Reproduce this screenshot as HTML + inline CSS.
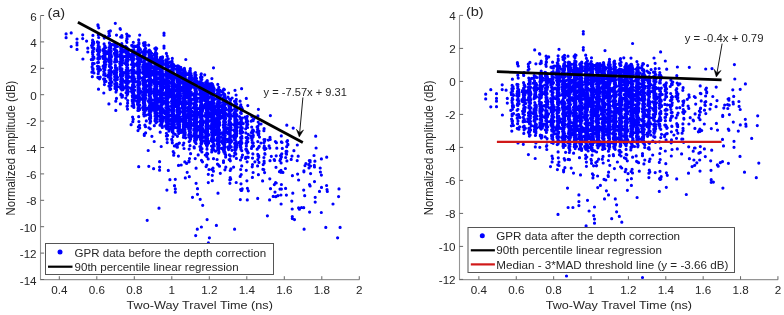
<!DOCTYPE html>
<html><head><meta charset="utf-8"><style>html,body{margin:0;padding:0;background:#fff;}body{width:784px;height:315px;overflow:hidden}svg{display:block;will-change:transform}</style></head>
<body><svg width="784" height="315" viewBox="0 0 784 315" font-family="'Liberation Sans', sans-serif" fill="#262626">
<path d="M93.8 43.3h0M93.1 45.1h0M92.9 59.6h0M92.1 66.9h0M91.3 59.6h0M91.6 45.5h0M92.3 76.7h0M93.1 57.7h0M94.0 58.2h0M93.0 68.6h0M92.9 70.5h0M93.9 72.9h0M93.0 42.6h0M92.5 43.8h0M94.0 48.9h0M93.8 57.0h0M92.5 42.7h0M92.6 54.0h0M94.2 63.5h0M92.8 54.5h0M92.4 52.3h0M92.5 68.7h0M93.3 51.8h0M91.9 72.2h0M92.5 52.2h0M93.6 63.7h0M93.1 69.0h0M93.4 43.0h0M92.9 56.3h0M92.1 47.4h0M92.6 63.3h0M93.0 51.8h0M92.6 64.5h0M92.8 50.6h0M93.0 57.5h0M93.5 41.8h0M92.6 40.2h0M93.8 48.3h0M92.9 35.4h0M98.2 45.3h0M99.9 69.1h0M98.0 47.7h0M98.3 44.1h0M98.6 58.0h0M98.9 56.6h0M98.7 54.1h0M98.6 46.9h0M100.2 77.2h0M98.8 54.6h0M99.0 66.9h0M97.6 62.7h0M99.3 46.9h0M97.4 66.3h0M98.2 73.7h0M100.5 69.8h0M98.1 57.5h0M98.7 77.7h0M97.8 77.3h0M97.8 42.7h0M99.5 56.4h0M98.3 66.7h0M98.6 49.0h0M98.4 53.4h0M97.6 49.3h0M98.6 71.6h0M99.5 50.7h0M98.1 77.7h0M99.0 48.2h0M99.5 49.4h0M97.8 54.5h0M99.3 50.1h0M97.2 50.7h0M99.2 67.0h0M98.4 59.3h0M97.8 58.7h0M98.6 42.6h0M98.2 51.6h0M97.4 41.9h0M99.5 78.8h0M99.6 58.4h0M97.9 49.7h0M98.4 42.7h0M98.3 49.1h0M98.5 62.4h0M97.7 69.1h0M99.4 51.9h0M98.7 37.5h0M97.9 24.8h0M98.3 35.0h0M98.1 25.8h0M98.5 89.2h0M105.1 51.1h0M104.1 54.0h0M106.2 61.5h0M104.5 56.5h0M105.6 61.0h0M103.6 79.1h0M104.8 74.5h0M103.1 66.2h0M104.9 46.0h0M104.3 64.6h0M104.9 73.6h0M104.8 79.1h0M104.1 48.5h0M105.3 66.1h0M103.8 66.1h0M104.2 62.1h0M103.2 50.7h0M104.1 53.0h0M105.2 67.4h0M105.0 55.9h0M104.2 57.4h0M105.4 58.3h0M104.9 65.8h0M105.9 58.9h0M104.9 73.9h0M102.8 50.5h0M104.3 78.9h0M104.9 57.1h0M103.1 50.8h0M103.8 71.5h0M103.9 67.1h0M102.6 56.7h0M104.6 81.8h0M106.0 81.4h0M103.0 49.6h0M103.5 58.2h0M104.5 59.6h0M104.7 46.0h0M104.6 73.3h0M104.2 48.4h0M104.0 56.2h0M103.1 58.5h0M105.9 64.5h0M105.5 54.2h0M103.9 51.8h0M104.4 84.6h0M104.2 79.4h0M104.1 55.5h0M103.6 68.5h0M106.2 51.6h0M104.2 55.3h0M105.0 48.0h0M104.2 59.1h0M104.6 58.3h0M105.6 47.6h0M104.5 52.0h0M105.6 53.5h0M103.9 53.3h0M104.9 70.0h0M105.5 75.6h0M105.0 47.4h0M103.9 74.2h0M103.7 75.0h0M104.1 43.9h0M103.9 36.5h0M104.7 36.2h0M104.3 38.1h0M103.8 93.0h0M109.5 85.5h0M110.4 54.2h0M109.7 58.1h0M112.0 82.2h0M110.2 78.8h0M110.6 53.9h0M109.3 75.9h0M109.4 83.0h0M110.2 57.0h0M109.4 77.4h0M110.0 63.1h0M110.9 75.5h0M109.5 62.2h0M109.4 56.1h0M110.1 80.0h0M109.8 43.7h0M110.5 66.3h0M109.9 56.6h0M109.2 75.6h0M108.4 74.9h0M110.3 70.6h0M109.5 56.0h0M110.1 46.6h0M108.6 59.5h0M109.4 75.4h0M110.3 58.1h0M110.8 61.4h0M110.8 80.0h0M111.0 60.4h0M110.0 89.6h0M110.8 57.5h0M110.3 52.4h0M109.8 83.8h0M109.7 72.0h0M109.4 66.5h0M110.8 70.5h0M110.0 56.1h0M109.5 76.3h0M109.9 88.0h0M111.5 67.7h0M108.9 86.0h0M109.0 60.2h0M111.1 63.8h0M108.9 50.1h0M111.1 57.4h0M109.6 64.9h0M110.3 71.0h0M111.0 73.8h0M111.0 78.3h0M110.6 76.1h0M110.0 45.1h0M109.8 51.1h0M109.8 73.3h0M111.2 61.4h0M110.3 51.4h0M110.9 61.3h0M108.2 77.0h0M109.8 45.1h0M110.3 86.2h0M109.7 62.7h0M111.7 71.7h0M109.1 58.1h0M110.4 72.6h0M110.7 46.6h0M109.4 55.5h0M110.7 47.1h0M110.4 58.4h0M112.3 44.6h0M111.2 85.3h0M110.0 62.3h0M110.8 51.8h0M110.4 60.6h0M109.7 48.1h0M110.6 66.9h0M110.4 64.1h0M111.3 55.8h0M108.9 70.5h0M109.0 52.1h0M109.4 59.6h0M110.6 69.1h0M110.9 44.4h0M110.0 83.4h0M110.3 77.4h0M110.1 50.5h0M108.8 75.3h0M109.4 42.9h0M110.8 48.4h0M110.7 89.1h0M111.0 54.7h0M110.6 78.0h0M108.1 53.5h0M110.3 53.3h0M110.3 47.9h0M109.0 47.5h0M111.5 56.8h0M109.9 79.2h0M110.8 62.8h0M110.7 45.1h0M110.5 83.3h0M111.2 51.3h0M109.9 66.5h0M110.8 59.5h0M110.4 47.6h0M109.1 72.6h0M109.6 35.7h0M109.1 33.6h0M108.7 36.2h0M108.8 31.5h0M110.4 30.9h0M108.9 103.9h0M116.5 61.4h0M116.4 72.2h0M116.4 87.6h0M115.3 71.8h0M115.2 52.8h0M115.6 61.6h0M116.7 52.4h0M115.3 55.9h0M116.7 52.0h0M116.5 60.7h0M115.1 78.6h0M114.7 76.7h0M116.6 50.7h0M117.6 86.6h0M115.3 44.5h0M117.2 56.3h0M114.9 72.7h0M116.9 70.2h0M115.2 80.4h0M115.9 50.3h0M115.5 73.8h0M116.0 92.0h0M116.7 78.8h0M114.6 45.6h0M116.5 89.3h0M116.6 45.6h0M115.1 86.9h0M115.0 61.0h0M116.6 71.0h0M115.6 72.2h0M114.8 84.2h0M115.5 86.8h0M114.0 49.3h0M114.9 79.7h0M116.3 73.5h0M114.6 70.5h0M115.1 61.4h0M116.0 92.1h0M115.5 80.4h0M115.2 59.4h0M115.2 78.1h0M117.3 79.6h0M115.9 50.4h0M115.6 60.8h0M116.1 75.6h0M116.4 59.8h0M116.7 72.3h0M115.4 67.7h0M116.0 84.7h0M115.0 86.8h0M114.2 73.8h0M115.5 52.6h0M116.1 73.5h0M116.3 67.8h0M115.3 49.7h0M114.9 79.4h0M115.1 47.9h0M116.6 61.6h0M117.0 53.9h0M115.0 71.6h0M116.1 71.1h0M115.8 55.0h0M116.5 90.3h0M116.2 76.6h0M116.0 60.1h0M116.6 77.5h0M117.2 52.1h0M114.6 62.1h0M116.6 55.8h0M115.6 88.8h0M115.6 76.5h0M115.3 72.5h0M117.5 77.3h0M116.5 77.2h0M116.1 70.2h0M117.2 54.2h0M116.3 72.5h0M115.0 55.4h0M115.6 52.4h0M116.3 57.8h0M115.5 58.6h0M117.0 84.1h0M116.6 76.1h0M115.4 61.0h0M115.6 54.4h0M115.7 62.0h0M116.7 83.4h0M115.7 78.6h0M116.1 68.3h0M115.4 56.6h0M115.4 65.4h0M115.3 73.4h0M116.9 69.5h0M115.8 83.0h0M116.1 54.4h0M116.1 86.7h0M116.9 68.4h0M117.5 46.5h0M116.4 74.8h0M117.2 55.0h0M115.8 60.1h0M116.8 85.6h0M115.5 58.5h0M115.9 85.2h0M115.5 74.5h0M115.5 50.9h0M116.2 70.2h0M114.3 53.4h0M115.5 69.9h0M115.1 72.1h0M115.0 88.4h0M115.9 83.1h0M116.1 54.3h0M114.6 79.7h0M116.0 77.1h0M116.6 50.7h0M115.0 72.2h0M117.0 61.5h0M115.2 74.7h0M115.3 84.6h0M114.6 72.0h0M114.8 43.7h0M116.5 35.1h0M115.8 110.4h0M116.5 98.4h0M115.8 101.2h0M122.4 95.4h0M121.7 71.9h0M121.8 89.9h0M120.9 54.7h0M121.0 68.5h0M121.6 88.3h0M120.2 61.6h0M122.2 62.4h0M122.8 51.4h0M120.6 76.2h0M121.9 63.8h0M122.2 72.7h0M121.0 58.1h0M120.9 95.0h0M120.4 74.9h0M122.0 58.1h0M121.5 78.9h0M121.8 71.2h0M120.9 46.1h0M121.5 52.9h0M122.2 85.4h0M121.5 49.8h0M122.1 73.9h0M122.4 52.2h0M121.6 61.0h0M124.8 72.6h0M122.3 82.6h0M122.2 72.6h0M122.5 58.4h0M119.9 66.8h0M121.6 70.6h0M121.4 82.4h0M123.2 75.1h0M121.6 89.4h0M121.9 97.2h0M123.0 51.8h0M119.7 56.5h0M121.2 50.5h0M119.8 63.6h0M122.8 74.0h0M122.4 83.8h0M123.4 80.8h0M121.4 58.1h0M121.9 52.2h0M122.1 63.1h0M120.1 69.0h0M121.2 54.3h0M121.8 87.9h0M120.4 56.1h0M121.1 73.0h0M122.4 97.0h0M121.9 64.8h0M120.7 47.5h0M120.8 45.8h0M121.9 60.4h0M120.5 51.4h0M120.9 71.6h0M121.4 50.5h0M122.2 86.2h0M121.0 85.3h0M121.3 55.8h0M121.6 73.5h0M121.2 51.2h0M121.3 56.5h0M122.7 79.5h0M122.8 72.4h0M121.8 69.9h0M121.7 73.6h0M121.7 87.6h0M122.5 45.8h0M121.3 58.6h0M122.3 78.5h0M122.1 60.3h0M122.8 51.2h0M125.1 63.4h0M121.2 48.6h0M121.8 43.7h0M121.8 70.7h0M120.9 50.7h0M121.2 57.5h0M120.6 59.1h0M120.3 65.0h0M122.0 69.0h0M120.5 84.3h0M121.6 64.3h0M121.0 88.6h0M122.3 58.4h0M121.8 72.6h0M121.8 72.1h0M122.2 60.5h0M121.6 86.6h0M120.6 73.9h0M121.5 64.8h0M121.8 70.6h0M121.5 70.5h0M121.7 63.4h0M120.6 64.9h0M121.7 81.9h0M123.2 56.5h0M120.8 48.3h0M120.8 85.9h0M123.6 88.3h0M122.1 50.3h0M122.9 89.7h0M122.5 76.0h0M120.4 54.4h0M122.7 60.6h0M121.7 59.3h0M121.0 94.2h0M122.0 49.2h0M121.8 57.7h0M121.9 63.4h0M120.6 74.0h0M123.2 86.5h0M121.4 56.4h0M122.3 52.4h0M120.2 87.4h0M120.6 45.7h0M121.9 48.7h0M122.2 55.5h0M121.0 78.6h0M122.1 47.6h0M121.0 49.7h0M121.1 75.3h0M121.0 88.8h0M120.7 85.9h0M120.4 70.9h0M121.6 55.6h0M122.3 76.2h0M122.0 68.9h0M123.3 49.8h0M121.3 69.3h0M121.8 60.6h0M120.9 53.7h0M121.6 52.5h0M122.3 62.7h0M121.7 49.7h0M120.8 79.2h0M120.7 48.6h0M121.1 57.5h0M120.7 73.2h0M120.6 81.6h0M121.6 62.5h0M120.5 86.7h0M120.9 37.1h0M121.8 35.6h0M120.1 28.7h0M122.0 37.2h0M120.7 37.0h0M120.4 103.9h0M126.7 73.2h0M129.3 81.5h0M127.0 88.9h0M126.1 77.2h0M127.3 81.8h0M128.7 55.7h0M126.5 77.5h0M127.7 100.5h0M127.6 78.3h0M131.3 59.4h0M127.5 70.6h0M127.9 69.6h0M127.5 56.6h0M127.6 67.8h0M126.5 93.0h0M126.4 85.5h0M130.3 56.7h0M127.2 67.3h0M127.3 90.5h0M128.2 75.3h0M126.2 70.1h0M127.2 54.5h0M128.1 51.7h0M126.3 52.4h0M126.5 62.5h0M125.8 62.7h0M127.7 61.2h0M127.6 103.2h0M126.1 92.7h0M128.1 49.2h0M126.9 68.5h0M127.0 67.8h0M127.6 83.5h0M127.8 57.5h0M126.5 64.3h0M127.4 106.0h0M127.2 73.1h0M128.3 81.3h0M126.6 62.8h0M128.3 59.8h0M125.8 61.7h0M127.7 93.8h0M128.4 73.5h0M127.7 61.0h0M128.3 54.9h0M128.0 51.5h0M126.1 64.0h0M126.7 85.2h0M128.2 83.3h0M127.4 70.0h0M127.1 61.3h0M128.4 87.3h0M127.6 72.5h0M125.6 46.4h0M126.3 47.0h0M127.3 68.4h0M126.9 90.8h0M126.5 65.2h0M127.0 95.2h0M126.9 50.1h0M128.6 82.2h0M127.2 78.0h0M127.1 79.2h0M126.9 88.5h0M126.8 78.4h0M127.2 77.8h0M127.1 56.2h0M127.2 60.5h0M127.2 72.7h0M126.6 78.5h0M127.4 89.0h0M126.4 80.3h0M127.6 71.2h0M128.5 56.1h0M130.0 77.2h0M127.3 86.3h0M128.9 53.8h0M127.1 75.0h0M126.4 48.2h0M127.5 58.5h0M126.5 75.0h0M130.6 88.3h0M126.3 81.4h0M127.3 61.3h0M127.4 59.7h0M128.1 72.2h0M127.5 89.5h0M126.3 49.8h0M127.4 72.0h0M127.3 84.1h0M128.4 56.0h0M126.9 47.7h0M127.0 73.7h0M127.6 70.1h0M127.0 67.7h0M126.4 64.9h0M126.7 67.1h0M127.3 79.3h0M127.2 90.8h0M126.5 50.1h0M127.0 85.2h0M127.3 48.3h0M125.6 87.9h0M126.0 49.4h0M125.7 51.4h0M125.9 52.8h0M127.4 93.3h0M127.3 74.3h0M125.8 98.1h0M127.7 82.8h0M128.0 56.0h0M127.2 82.2h0M127.5 55.2h0M127.5 51.4h0M126.7 62.3h0M128.4 91.5h0M126.5 48.5h0M126.9 54.8h0M125.3 56.4h0M127.8 64.8h0M126.7 53.5h0M128.5 70.9h0M126.0 59.5h0M128.4 71.6h0M125.5 82.4h0M127.1 65.0h0M127.2 63.3h0M126.9 42.3h0M128.3 35.9h0M126.5 40.7h0M126.9 38.5h0M127.2 36.4h0M127.1 39.0h0M127.0 39.2h0M127.5 109.1h0M127.0 106.3h0M131.1 124.7h0M132.7 57.0h0M132.0 87.4h0M131.9 81.3h0M132.7 53.3h0M132.4 81.5h0M133.9 54.6h0M131.5 91.6h0M132.0 56.4h0M133.6 95.3h0M133.6 50.9h0M134.1 64.3h0M132.5 62.6h0M132.3 92.9h0M133.8 69.8h0M133.6 84.2h0M132.2 56.2h0M134.6 90.3h0M133.1 73.7h0M133.8 84.3h0M132.9 58.3h0M132.6 50.7h0M133.4 97.3h0M132.9 68.1h0M133.1 72.5h0M132.6 55.3h0M133.0 84.2h0M133.5 91.5h0M131.0 54.8h0M133.5 72.0h0M131.3 70.3h0M133.6 50.9h0M132.6 77.2h0M136.7 65.1h0M135.7 46.5h0M134.2 54.9h0M132.8 68.7h0M132.3 89.6h0M132.3 101.2h0M133.2 101.5h0M136.3 72.9h0M132.2 70.9h0M134.8 46.2h0M132.5 86.7h0M132.8 68.3h0M131.9 79.9h0M133.7 79.8h0M133.0 82.5h0M132.1 90.1h0M132.4 75.3h0M132.8 62.2h0M133.8 66.8h0M133.9 47.3h0M132.1 55.3h0M134.6 51.7h0M133.1 76.3h0M133.3 102.7h0M132.9 87.0h0M132.9 75.3h0M132.6 102.8h0M133.1 45.9h0M131.7 45.4h0M133.3 67.2h0M133.6 104.6h0M133.3 80.6h0M132.1 89.9h0M132.5 88.9h0M133.1 89.3h0M132.8 77.3h0M133.1 63.3h0M133.2 86.0h0M132.1 79.2h0M133.2 78.2h0M134.7 64.0h0M132.6 61.8h0M132.3 77.6h0M133.1 71.4h0M133.0 57.8h0M133.6 92.9h0M133.4 77.1h0M133.7 81.1h0M132.6 45.7h0M136.5 96.1h0M133.4 82.8h0M133.9 76.6h0M134.0 55.3h0M132.2 50.0h0M132.1 105.9h0M132.5 96.9h0M134.0 82.2h0M133.1 96.8h0M131.8 58.3h0M132.7 86.0h0M131.7 89.9h0M134.5 86.7h0M133.3 78.5h0M132.0 50.9h0M133.2 93.2h0M134.9 78.8h0M133.2 81.4h0M131.9 77.9h0M132.6 89.1h0M133.5 78.0h0M137.1 56.5h0M133.5 95.7h0M133.4 57.3h0M132.1 71.6h0M133.5 66.6h0M134.1 94.5h0M132.3 61.8h0M132.3 95.8h0M132.2 100.1h0M133.2 86.0h0M132.8 92.8h0M134.3 98.8h0M136.8 101.3h0M133.4 73.7h0M133.2 54.5h0M131.7 73.1h0M132.7 52.3h0M135.8 64.1h0M134.2 70.8h0M132.9 92.8h0M133.8 106.0h0M133.3 74.6h0M133.4 71.1h0M132.6 67.9h0M134.6 90.0h0M133.6 107.0h0M133.8 107.4h0M131.5 64.5h0M132.5 51.1h0M132.9 72.7h0M133.5 87.4h0M131.9 91.9h0M134.6 100.2h0M132.8 68.6h0M133.3 94.7h0M132.9 65.9h0M133.9 50.1h0M133.5 89.5h0M133.8 96.9h0M132.6 46.3h0M133.2 84.3h0M133.5 59.9h0M134.8 98.2h0M133.6 55.8h0M133.0 74.4h0M134.1 59.0h0M132.5 85.0h0M133.3 42.3h0M133.2 119.2h0M132.6 117.0h0M132.8 121.7h0M139.2 79.5h0M138.9 53.7h0M138.8 98.4h0M138.2 78.2h0M138.7 106.6h0M138.3 81.3h0M138.8 54.8h0M138.3 98.4h0M138.9 74.2h0M137.9 84.5h0M138.1 108.2h0M138.4 59.5h0M139.7 92.7h0M137.9 50.2h0M138.3 56.8h0M138.5 105.4h0M140.3 92.7h0M138.5 56.7h0M138.0 54.8h0M139.0 95.3h0M138.0 96.2h0M137.3 58.7h0M138.4 87.4h0M138.7 57.8h0M138.0 59.9h0M139.2 66.8h0M138.6 77.1h0M139.2 105.6h0M140.5 90.9h0M138.8 97.1h0M135.8 81.6h0M138.6 48.3h0M138.2 80.5h0M139.6 91.4h0M139.7 109.4h0M139.0 58.3h0M139.8 82.4h0M138.3 94.1h0M138.2 68.8h0M139.2 90.3h0M139.1 49.3h0M138.5 74.4h0M138.3 69.3h0M138.4 76.2h0M139.5 93.4h0M138.6 104.9h0M138.9 91.8h0M139.2 96.2h0M139.0 54.5h0M139.2 57.3h0M137.9 110.5h0M138.4 78.0h0M139.3 101.2h0M138.5 71.7h0M140.0 77.4h0M138.9 55.2h0M138.9 98.2h0M138.9 60.3h0M138.5 47.9h0M139.0 82.5h0M139.3 74.9h0M138.7 64.5h0M138.8 94.6h0M138.3 92.1h0M137.9 95.9h0M139.6 69.7h0M138.6 46.0h0M141.5 99.2h0M138.7 65.9h0M139.3 52.9h0M139.4 77.6h0M137.8 66.6h0M138.5 55.5h0M138.9 102.3h0M138.7 82.5h0M138.3 49.0h0M139.0 48.3h0M137.9 65.5h0M138.1 55.7h0M136.7 65.4h0M138.5 73.2h0M138.0 87.7h0M139.7 55.8h0M140.0 90.6h0M136.8 54.4h0M138.3 75.9h0M139.8 53.0h0M139.5 48.5h0M138.0 87.5h0M137.7 85.5h0M138.1 76.9h0M139.4 56.9h0M141.9 52.1h0M138.4 54.2h0M138.4 97.1h0M137.9 50.9h0M138.9 88.9h0M138.3 76.7h0M137.9 52.3h0M138.0 58.2h0M139.8 70.7h0M137.3 71.5h0M139.4 62.6h0M139.5 94.3h0M138.9 57.3h0M138.2 97.9h0M141.5 61.6h0M139.0 55.9h0M138.7 55.4h0M137.3 52.0h0M138.0 89.2h0M138.4 73.4h0M140.8 58.9h0M138.8 66.4h0M138.6 110.4h0M140.0 97.7h0M138.3 99.7h0M138.5 102.4h0M139.8 108.6h0M139.3 53.7h0M137.9 105.2h0M139.2 67.4h0M137.9 74.1h0M139.0 68.4h0M140.4 72.3h0M138.4 102.6h0M139.3 89.6h0M139.1 88.6h0M139.8 105.2h0M138.2 60.2h0M138.7 52.9h0M139.1 84.3h0M138.4 102.7h0M138.2 97.7h0M141.7 58.0h0M139.2 77.7h0M139.1 72.2h0M138.0 47.1h0M138.8 57.0h0M138.7 69.0h0M139.7 78.1h0M138.1 70.3h0M138.4 96.6h0M139.9 98.3h0M138.4 91.8h0M137.9 45.1h0M138.3 75.8h0M138.3 105.3h0M138.3 56.9h0M139.8 93.5h0M138.1 92.3h0M137.5 104.1h0M139.6 64.0h0M138.8 60.2h0M139.0 102.2h0M138.8 83.1h0M139.0 62.8h0M139.1 85.4h0M138.8 52.1h0M137.5 53.2h0M138.7 72.1h0M137.9 91.0h0M138.9 83.6h0M138.7 63.4h0M139.7 90.7h0M136.9 98.0h0M138.0 60.3h0M137.9 66.3h0M137.9 69.4h0M139.1 50.5h0M137.8 57.1h0M137.9 71.2h0M139.2 49.6h0M137.7 56.2h0M137.4 53.6h0M137.9 68.3h0M138.7 109.4h0M137.6 62.3h0M138.6 50.7h0M138.1 84.8h0M139.3 60.0h0M138.5 54.2h0M140.0 49.6h0M138.5 49.5h0M138.0 82.7h0M138.7 75.6h0M138.4 65.5h0M138.2 72.1h0M140.4 49.4h0M139.6 60.9h0M139.4 65.8h0M139.4 48.2h0M137.9 95.3h0M138.2 88.2h0M137.7 95.6h0M139.4 88.4h0M140.0 84.1h0M138.3 103.1h0M138.6 51.2h0M138.3 92.3h0M138.9 53.1h0M138.7 39.9h0M138.9 42.5h0M139.0 43.7h0M138.7 116.7h0M138.4 126.9h0M139.6 125.3h0M138.9 121.6h0M138.0 130.6h0M139.7 128.1h0M144.0 87.0h0M145.8 95.3h0M144.3 96.8h0M144.3 82.8h0M144.5 65.7h0M145.1 100.4h0M144.1 86.8h0M144.5 94.7h0M143.9 79.5h0M144.7 79.6h0M142.6 66.9h0M143.8 89.2h0M143.9 101.0h0M144.2 60.1h0M144.0 70.1h0M145.1 87.8h0M144.9 81.7h0M143.6 54.7h0M144.5 59.0h0M145.5 51.4h0M143.9 67.7h0M144.1 57.3h0M144.8 103.9h0M143.2 72.5h0M144.3 53.5h0M145.4 65.3h0M145.7 108.2h0M143.6 107.7h0M145.3 74.9h0M146.3 69.3h0M145.9 81.7h0M144.8 99.2h0M144.3 61.9h0M144.1 57.3h0M144.8 56.0h0M145.6 48.4h0M144.9 54.1h0M145.3 50.1h0M145.2 72.2h0M148.0 72.6h0M146.1 71.4h0M145.3 85.1h0M144.5 51.2h0M144.7 51.0h0M143.3 102.7h0M143.1 96.8h0M144.2 95.5h0M144.4 92.1h0M144.2 76.6h0M144.3 62.5h0M145.3 54.4h0M144.7 55.6h0M143.0 67.0h0M145.0 83.9h0M145.0 66.7h0M144.4 59.7h0M144.6 66.0h0M144.0 93.9h0M144.8 111.7h0M144.0 64.5h0M144.3 75.0h0M145.1 105.4h0M144.5 60.0h0M144.5 74.4h0M145.6 60.0h0M144.2 60.7h0M145.3 99.0h0M144.6 106.3h0M144.0 106.3h0M144.1 98.1h0M144.9 96.1h0M145.8 76.7h0M146.6 63.8h0M143.5 85.3h0M145.5 83.9h0M145.1 95.8h0M144.6 49.6h0M143.3 97.6h0M145.3 110.5h0M143.2 88.6h0M145.1 80.3h0M144.2 69.8h0M144.5 99.5h0M144.1 73.4h0M143.8 58.5h0M144.1 79.4h0M144.9 110.4h0M142.8 52.5h0M143.3 106.8h0M145.0 64.9h0M144.7 105.0h0M145.9 86.4h0M143.4 103.3h0M143.7 71.6h0M144.4 53.3h0M144.5 101.3h0M144.6 91.9h0M144.6 82.5h0M145.0 93.4h0M143.0 64.9h0M144.6 57.2h0M144.0 99.9h0M143.9 53.0h0M145.7 84.7h0M144.2 110.3h0M145.4 89.3h0M146.5 51.9h0M144.2 64.5h0M144.4 114.3h0M144.4 91.3h0M144.5 82.2h0M145.6 67.4h0M145.1 89.9h0M144.5 70.4h0M144.5 60.6h0M143.7 70.2h0M144.7 85.0h0M146.3 90.6h0M143.8 54.8h0M147.3 58.7h0M143.8 66.0h0M143.3 83.9h0M144.3 107.7h0M143.6 52.7h0M144.8 71.3h0M144.6 107.5h0M143.4 109.9h0M144.7 91.0h0M144.9 56.9h0M144.5 73.2h0M144.2 79.8h0M144.1 103.2h0M145.9 98.3h0M144.5 55.0h0M144.4 64.5h0M144.2 98.0h0M143.5 80.2h0M144.0 55.5h0M144.9 66.9h0M144.7 99.2h0M144.7 57.4h0M144.5 71.1h0M143.7 74.0h0M144.4 82.4h0M145.2 53.2h0M144.4 67.3h0M142.6 80.5h0M143.8 112.8h0M142.9 92.4h0M143.7 104.8h0M146.1 74.3h0M144.1 61.2h0M143.7 68.7h0M143.1 57.5h0M144.2 73.3h0M145.4 85.2h0M143.7 65.6h0M144.7 113.9h0M144.6 73.1h0M143.9 77.2h0M145.0 86.0h0M146.9 108.4h0M143.8 81.4h0M143.8 65.5h0M144.6 101.9h0M145.9 115.2h0M145.1 64.8h0M143.8 108.2h0M144.4 57.9h0M146.6 86.6h0M143.6 82.3h0M145.8 110.3h0M144.7 68.9h0M143.9 100.7h0M144.2 62.9h0M142.4 78.3h0M144.7 74.7h0M143.3 95.6h0M143.4 101.1h0M144.7 112.1h0M143.5 106.3h0M143.6 62.1h0M145.1 71.7h0M142.6 95.2h0M144.3 59.7h0M145.4 73.0h0M145.7 68.9h0M145.5 88.6h0M143.2 70.4h0M147.4 67.1h0M145.1 75.9h0M144.7 67.0h0M144.1 115.9h0M143.5 67.2h0M144.9 87.8h0M143.2 83.1h0M143.1 55.8h0M146.5 91.7h0M144.4 54.4h0M145.4 93.4h0M144.1 89.2h0M145.1 105.5h0M143.6 66.2h0M144.0 70.0h0M144.0 94.1h0M143.8 90.3h0M145.3 94.5h0M143.2 55.7h0M143.1 73.5h0M145.2 75.8h0M144.6 71.5h0M144.9 109.4h0M143.7 114.5h0M144.9 75.6h0M143.0 77.7h0M144.2 61.9h0M144.6 92.7h0M142.8 68.7h0M143.8 77.4h0M143.2 97.7h0M143.6 57.5h0M144.1 64.3h0M144.0 81.4h0M142.7 107.5h0M144.8 106.1h0M143.3 69.8h0M144.5 103.6h0M143.7 87.9h0M143.0 94.7h0M145.0 50.8h0M144.1 50.7h0M144.6 86.7h0M144.7 101.0h0M144.5 64.5h0M143.7 83.6h0M144.7 104.5h0M145.0 100.7h0M143.8 42.9h0M143.5 43.4h0M143.8 45.3h0M145.1 42.7h0M144.2 44.5h0M145.4 45.2h0M144.0 44.2h0M144.3 45.8h0M145.5 126.7h0M145.6 132.9h0M144.9 125.2h0M146.3 120.9h0M144.3 134.2h0M144.3 135.4h0M150.2 103.1h0M150.4 51.3h0M149.9 70.7h0M150.3 73.3h0M150.9 68.4h0M150.7 53.8h0M150.7 98.0h0M150.2 75.7h0M149.2 96.0h0M149.6 101.2h0M148.7 58.3h0M150.4 107.7h0M150.3 57.9h0M151.0 53.8h0M151.6 56.1h0M150.9 111.7h0M149.6 53.0h0M150.0 69.9h0M148.7 64.4h0M150.4 90.4h0M150.2 107.1h0M149.7 88.8h0M149.5 92.2h0M149.9 59.1h0M148.3 73.9h0M149.9 72.3h0M150.0 64.8h0M149.6 54.5h0M150.5 59.5h0M150.9 73.6h0M150.1 79.3h0M150.0 108.4h0M149.7 54.4h0M150.0 91.1h0M149.3 83.4h0M150.2 54.2h0M149.3 64.9h0M149.5 56.1h0M149.1 55.3h0M148.9 50.3h0M150.1 79.2h0M151.4 91.4h0M148.4 64.0h0M149.9 115.1h0M148.7 61.3h0M149.9 111.5h0M148.7 85.1h0M149.9 53.8h0M149.6 81.3h0M150.0 71.5h0M150.3 86.6h0M149.8 59.7h0M149.9 69.7h0M149.3 94.3h0M149.5 103.3h0M149.7 81.6h0M149.9 57.8h0M150.2 66.6h0M150.3 85.7h0M148.9 61.8h0M150.7 79.1h0M150.3 114.6h0M149.9 72.9h0M149.9 93.7h0M152.1 71.4h0M150.4 88.6h0M148.1 69.1h0M148.2 80.2h0M150.5 108.4h0M149.4 62.5h0M149.8 104.1h0M149.4 62.0h0M153.3 66.9h0M149.2 82.0h0M149.9 89.5h0M150.3 66.9h0M151.2 62.3h0M150.8 80.1h0M150.0 93.9h0M150.6 54.6h0M149.6 60.8h0M149.9 106.4h0M150.5 66.2h0M151.0 110.7h0M149.0 64.4h0M149.6 63.2h0M150.3 82.0h0M150.5 67.7h0M150.2 92.0h0M149.8 113.4h0M149.2 51.0h0M149.0 99.7h0M150.3 57.2h0M149.5 90.1h0M149.8 78.7h0M149.4 82.7h0M149.6 110.1h0M149.3 100.9h0M149.7 85.3h0M149.7 54.2h0M150.3 60.5h0M149.3 94.5h0M148.6 114.4h0M149.7 107.9h0M150.2 83.5h0M149.5 118.9h0M150.6 121.4h0M149.9 100.5h0M149.3 56.5h0M150.5 85.4h0M150.2 106.6h0M149.8 109.8h0M149.7 98.9h0M149.1 51.4h0M148.5 86.0h0M150.3 106.4h0M151.7 81.5h0M150.6 102.3h0M150.4 76.2h0M152.9 80.6h0M149.6 76.9h0M151.2 85.2h0M150.2 77.2h0M150.8 88.3h0M149.9 65.6h0M150.5 97.0h0M150.6 56.9h0M149.3 100.8h0M148.9 80.9h0M150.4 88.4h0M150.7 116.7h0M153.3 59.3h0M149.7 72.5h0M148.7 58.5h0M149.4 75.2h0M150.8 80.2h0M150.6 99.8h0M149.7 60.1h0M150.6 118.3h0M149.8 99.8h0M149.3 70.1h0M149.9 58.0h0M149.4 72.7h0M150.7 73.7h0M149.4 50.2h0M150.1 75.2h0M150.9 93.1h0M149.9 106.8h0M152.2 74.6h0M150.7 94.2h0M150.3 68.6h0M153.7 93.3h0M149.9 81.1h0M150.3 120.3h0M152.7 103.2h0M150.4 72.5h0M150.0 98.2h0M149.7 101.4h0M149.1 53.2h0M152.2 73.5h0M149.7 93.4h0M150.3 53.2h0M150.3 121.1h0M149.8 62.2h0M153.5 73.1h0M151.3 63.3h0M149.7 98.1h0M150.5 92.5h0M150.3 101.7h0M150.2 88.0h0M150.0 52.7h0M148.1 76.2h0M150.8 52.5h0M151.2 75.4h0M148.7 68.7h0M150.2 79.5h0M150.6 91.2h0M150.4 93.5h0M149.1 93.4h0M149.0 114.6h0M150.1 85.0h0M148.7 76.7h0M151.1 111.2h0M151.2 103.7h0M149.8 89.5h0M149.8 76.4h0M150.1 64.0h0M151.6 66.2h0M149.2 113.7h0M149.3 102.1h0M150.3 76.2h0M149.6 100.0h0M150.6 63.3h0M151.7 53.3h0M150.6 97.9h0M152.3 82.2h0M150.1 73.4h0M149.8 80.4h0M149.1 102.2h0M150.5 114.9h0M151.0 57.9h0M150.5 64.3h0M151.4 81.5h0M149.3 75.8h0M152.7 108.4h0M148.9 74.2h0M150.1 81.5h0M151.1 67.6h0M152.8 106.0h0M149.7 95.4h0M150.6 83.4h0M151.0 81.7h0M150.2 68.2h0M149.9 54.3h0M151.0 90.6h0M150.4 57.3h0M151.1 90.2h0M149.5 105.6h0M150.0 102.8h0M149.5 86.5h0M148.8 100.4h0M149.2 95.4h0M150.4 89.0h0M150.7 80.6h0M149.8 109.8h0M149.7 117.6h0M151.0 75.7h0M152.3 61.2h0M150.4 113.0h0M149.1 54.2h0M148.7 69.9h0M150.1 96.0h0M149.9 53.5h0M149.5 88.6h0M151.6 57.4h0M150.2 100.1h0M149.3 72.1h0M151.4 66.1h0M150.4 84.9h0M149.5 65.5h0M149.1 70.1h0M150.0 70.5h0M149.5 57.1h0M149.0 107.1h0M150.5 116.4h0M149.4 67.9h0M150.4 101.7h0M149.5 66.9h0M150.3 118.5h0M150.2 68.1h0M150.8 76.3h0M150.7 88.7h0M149.3 64.8h0M150.7 105.5h0M151.5 68.2h0M149.3 71.2h0M150.6 72.6h0M149.9 87.1h0M150.3 89.6h0M152.1 110.1h0M148.1 89.8h0M149.2 56.6h0M150.1 81.2h0M149.1 110.9h0M149.9 58.5h0M150.7 72.8h0M150.0 84.2h0M149.2 94.2h0M150.8 53.4h0M150.4 98.1h0M152.2 100.0h0M150.4 72.7h0M148.4 101.2h0M148.5 74.7h0M150.2 61.8h0M149.8 66.9h0M150.9 110.1h0M149.9 85.3h0M148.7 45.2h0M151.9 136.3h0M150.0 122.9h0M150.2 128.8h0M148.9 127.8h0M155.9 94.6h0M155.1 103.1h0M154.7 111.3h0M155.2 119.0h0M156.2 105.5h0M155.6 64.7h0M155.8 66.1h0M155.7 100.2h0M156.3 77.2h0M156.7 86.6h0M154.9 111.3h0M155.1 94.6h0M156.0 74.1h0M155.2 90.0h0M156.3 95.2h0M155.3 76.5h0M156.8 53.7h0M155.6 105.7h0M156.7 78.7h0M155.8 73.0h0M154.7 95.6h0M155.6 86.7h0M154.7 92.3h0M155.7 97.8h0M154.9 98.7h0M156.6 79.4h0M154.5 96.3h0M156.1 114.7h0M154.5 78.9h0M154.9 113.0h0M154.8 82.1h0M155.1 72.6h0M155.8 54.3h0M155.0 66.5h0M155.9 71.9h0M156.5 120.7h0M156.0 75.7h0M154.3 54.4h0M155.5 65.2h0M156.3 104.5h0M155.5 99.6h0M156.0 109.4h0M155.0 79.2h0M155.5 104.1h0M156.3 83.5h0M154.8 86.1h0M155.7 110.7h0M155.6 74.3h0M155.4 116.6h0M156.0 114.2h0M156.7 56.8h0M155.5 107.1h0M155.2 79.0h0M155.5 91.2h0M156.8 73.7h0M155.0 54.7h0M154.9 56.5h0M155.3 73.0h0M156.3 97.2h0M155.7 57.6h0M156.2 83.5h0M154.8 96.1h0M158.4 68.4h0M154.9 97.2h0M154.9 63.0h0M156.0 63.9h0M158.4 107.9h0M157.3 92.2h0M156.6 96.0h0M155.7 98.8h0M155.5 79.0h0M154.6 77.3h0M154.4 69.6h0M156.6 77.8h0M155.3 60.2h0M155.9 65.6h0M155.8 110.3h0M156.3 69.7h0M157.1 95.2h0M156.4 57.7h0M155.6 55.9h0M156.8 67.2h0M156.1 53.1h0M155.6 76.7h0M155.8 59.9h0M156.4 102.5h0M156.8 63.3h0M155.3 115.2h0M155.5 52.4h0M154.6 72.9h0M156.4 58.6h0M155.6 59.1h0M157.0 81.6h0M156.8 118.7h0M155.9 70.8h0M158.8 83.4h0M155.2 87.8h0M155.2 93.2h0M155.8 104.3h0M155.5 95.1h0M157.1 103.7h0M155.2 99.0h0M156.2 97.2h0M155.6 59.2h0M155.8 61.2h0M156.0 97.1h0M154.9 74.9h0M156.3 65.4h0M156.7 71.7h0M156.6 68.6h0M155.6 62.6h0M155.1 114.9h0M156.4 103.3h0M155.3 80.9h0M155.9 76.4h0M154.3 71.2h0M154.6 102.5h0M155.6 77.5h0M155.6 105.4h0M155.0 110.5h0M154.4 76.3h0M158.8 99.5h0M154.4 91.5h0M155.2 73.6h0M156.3 63.3h0M155.7 60.1h0M156.0 94.9h0M155.8 81.6h0M155.9 119.4h0M155.6 97.3h0M155.0 116.3h0M156.6 62.0h0M155.9 62.0h0M155.8 107.1h0M158.0 109.3h0M154.9 56.1h0M156.6 79.5h0M155.9 85.9h0M154.7 71.7h0M158.1 105.9h0M155.4 53.9h0M154.6 62.4h0M155.3 120.1h0M159.2 63.3h0M156.7 58.8h0M156.0 93.0h0M155.8 65.0h0M155.6 82.5h0M155.2 75.9h0M155.4 63.1h0M156.0 89.5h0M154.6 78.8h0M155.6 117.0h0M155.8 97.2h0M155.9 100.5h0M154.6 73.7h0M156.9 112.5h0M156.2 92.8h0M155.1 95.8h0M155.4 53.6h0M156.3 84.5h0M156.5 59.0h0M155.2 78.5h0M155.0 68.0h0M156.7 88.4h0M156.1 95.5h0M155.7 59.5h0M155.3 93.0h0M155.6 61.3h0M155.0 92.9h0M156.5 86.4h0M155.9 98.8h0M156.0 93.5h0M157.6 60.1h0M156.0 69.0h0M154.9 57.1h0M155.3 58.8h0M156.5 56.9h0M156.7 86.3h0M155.9 82.4h0M155.5 82.5h0M156.4 55.0h0M154.9 108.2h0M155.0 120.8h0M155.6 58.6h0M156.1 81.4h0M155.9 96.7h0M156.0 110.3h0M154.8 96.4h0M158.3 101.9h0M155.7 80.1h0M155.4 74.4h0M155.3 101.5h0M156.2 112.5h0M155.5 108.2h0M155.1 100.7h0M156.6 102.9h0M155.8 75.0h0M154.5 71.6h0M156.1 103.9h0M157.3 100.1h0M159.3 63.0h0M156.6 98.4h0M156.8 108.5h0M156.1 114.5h0M155.2 58.5h0M156.5 85.5h0M157.7 102.0h0M155.8 66.3h0M156.2 53.8h0M156.0 116.6h0M155.4 81.7h0M154.9 59.8h0M157.2 79.2h0M156.3 88.3h0M155.3 105.3h0M154.9 82.5h0M155.9 74.5h0M155.8 52.7h0M155.9 111.6h0M156.8 116.8h0M155.2 88.4h0M156.1 61.7h0M157.2 77.8h0M154.5 58.9h0M158.4 60.1h0M156.9 89.7h0M157.6 74.2h0M156.4 84.1h0M154.2 95.6h0M155.4 98.5h0M155.6 115.9h0M155.3 104.8h0M156.1 98.5h0M156.2 105.2h0M156.5 101.9h0M155.5 97.0h0M155.2 86.8h0M156.7 106.9h0M155.3 85.0h0M156.2 83.8h0M155.2 91.6h0M156.2 57.8h0M158.0 116.0h0M156.4 101.3h0M158.0 83.8h0M155.2 76.6h0M158.7 98.6h0M155.9 68.4h0M155.7 86.5h0M156.4 68.5h0M156.4 108.5h0M158.8 77.9h0M157.0 63.1h0M155.1 58.2h0M155.3 67.9h0M154.0 60.5h0M155.9 83.3h0M155.5 104.0h0M156.1 88.0h0M155.2 85.7h0M155.1 55.4h0M155.8 78.1h0M155.3 105.5h0M156.0 79.9h0M156.0 60.2h0M155.7 77.2h0M156.3 58.4h0M158.7 73.2h0M155.5 91.6h0M155.1 78.4h0M156.1 58.9h0M155.2 121.0h0M159.4 71.5h0M156.0 60.5h0M155.4 76.5h0M157.8 90.5h0M154.8 102.0h0M156.8 99.5h0M154.1 83.6h0M155.2 65.8h0M157.9 65.7h0M156.5 67.9h0M157.1 83.6h0M156.2 89.7h0M155.9 104.8h0M156.1 93.3h0M154.2 68.9h0M154.8 64.0h0M155.2 62.7h0M155.0 106.3h0M154.8 92.8h0M160.6 88.4h0M157.9 66.8h0M156.5 73.3h0M154.2 90.9h0M154.1 88.9h0M155.8 93.8h0M156.3 100.7h0M154.8 99.2h0M155.6 90.4h0M156.8 113.6h0M156.7 112.5h0M155.1 100.4h0M157.2 121.6h0M157.0 61.9h0M156.5 118.0h0M154.6 55.3h0M155.2 61.3h0M156.1 78.5h0M155.7 73.7h0M155.8 60.3h0M156.1 82.8h0M156.0 80.5h0M159.2 82.4h0M157.0 100.4h0M156.0 122.8h0M155.5 109.8h0M155.8 50.0h0M154.8 48.5h0M155.9 47.8h0M156.7 48.5h0M154.2 141.5h0M154.3 125.7h0M162.3 69.9h0M161.2 77.7h0M161.9 105.4h0M159.9 113.5h0M161.3 70.0h0M161.4 88.9h0M161.3 84.2h0M160.8 112.7h0M161.0 123.3h0M160.2 109.9h0M162.4 97.4h0M160.4 74.9h0M160.7 106.4h0M163.2 101.2h0M161.0 91.1h0M162.4 111.8h0M162.4 81.6h0M160.9 64.0h0M161.3 86.4h0M160.3 120.8h0M161.9 97.0h0M162.9 119.7h0M162.0 80.4h0M160.2 111.9h0M163.2 94.4h0M164.2 87.3h0M162.3 125.9h0M161.5 108.2h0M161.4 60.1h0M162.5 108.7h0M162.9 98.3h0M161.8 95.3h0M162.4 57.3h0M160.7 112.7h0M161.3 81.5h0M161.2 85.7h0M160.8 62.3h0M162.1 65.5h0M161.1 78.3h0M161.0 70.9h0M161.5 78.2h0M160.9 109.5h0M159.9 64.3h0M161.2 64.4h0M160.1 115.5h0M162.5 76.8h0M161.9 102.8h0M161.8 62.5h0M161.4 64.4h0M160.9 80.0h0M162.3 127.4h0M161.3 71.6h0M162.1 116.4h0M161.5 103.3h0M161.8 114.9h0M161.7 94.9h0M160.6 113.7h0M160.6 110.9h0M164.3 110.7h0M160.4 95.4h0M161.1 121.1h0M161.2 62.7h0M161.6 107.0h0M161.3 81.9h0M162.2 94.3h0M161.4 107.8h0M163.1 61.8h0M161.0 57.4h0M163.0 60.8h0M161.7 73.4h0M162.7 121.1h0M161.1 93.3h0M161.9 93.1h0M162.5 56.8h0M161.2 62.3h0M164.5 81.9h0M162.2 62.0h0M162.2 121.5h0M162.0 119.7h0M162.0 126.4h0M161.8 97.3h0M160.2 90.4h0M160.5 96.8h0M161.0 58.9h0M160.9 81.6h0M162.3 71.4h0M162.1 104.2h0M161.5 65.2h0M161.9 60.1h0M161.3 58.5h0M161.2 70.4h0M161.0 112.3h0M161.3 125.0h0M160.7 65.4h0M161.2 104.0h0M162.3 117.9h0M159.8 94.0h0M161.1 113.9h0M163.5 64.2h0M161.9 59.4h0M161.5 77.0h0M160.9 67.8h0M161.1 92.2h0M162.7 89.7h0M162.4 121.2h0M162.3 111.0h0M162.2 79.4h0M161.2 64.8h0M161.6 58.6h0M160.3 74.0h0M161.1 64.8h0M159.6 98.3h0M160.9 87.8h0M160.1 75.5h0M160.0 125.2h0M161.7 119.7h0M162.5 80.7h0M162.3 100.6h0M160.4 76.8h0M160.0 79.2h0M161.3 84.9h0M161.6 111.3h0M161.0 75.7h0M161.7 65.4h0M159.9 119.6h0M160.8 93.3h0M161.6 68.7h0M162.4 116.4h0M161.6 100.2h0M161.5 75.8h0M161.2 67.0h0M162.3 74.8h0M160.9 61.2h0M161.4 105.1h0M161.0 78.2h0M161.2 68.1h0M161.3 82.9h0M162.9 101.2h0M161.9 84.6h0M162.6 81.0h0M162.6 62.5h0M162.8 103.8h0M159.8 83.4h0M161.2 58.1h0M161.3 118.1h0M161.9 77.8h0M161.2 107.5h0M161.5 118.7h0M160.7 87.0h0M162.3 69.6h0M160.6 75.7h0M161.5 117.6h0M163.1 75.6h0M161.6 61.6h0M161.2 107.1h0M162.4 95.3h0M162.1 84.2h0M161.3 72.3h0M161.4 120.3h0M161.8 67.3h0M162.7 86.2h0M161.1 64.7h0M161.9 57.8h0M160.9 90.7h0M159.8 79.4h0M160.2 62.8h0M161.8 68.1h0M160.7 106.9h0M161.3 123.4h0M162.2 70.2h0M160.7 88.3h0M161.3 114.1h0M161.2 122.1h0M160.4 72.7h0M161.4 66.7h0M161.9 83.2h0M160.2 81.8h0M163.9 79.6h0M161.7 79.5h0M161.9 104.6h0M161.7 68.3h0M163.2 78.4h0M162.0 92.1h0M162.1 117.1h0M161.1 79.7h0M161.8 75.3h0M162.1 102.9h0M161.5 74.0h0M161.2 73.1h0M162.4 69.5h0M161.1 122.7h0M160.8 95.8h0M161.6 76.1h0M161.8 73.8h0M161.3 75.7h0M160.9 110.2h0M161.8 125.2h0M161.1 102.3h0M161.1 115.3h0M161.2 113.7h0M160.2 81.9h0M160.8 117.8h0M160.5 70.3h0M162.0 61.1h0M164.7 82.6h0M160.1 86.5h0M160.7 79.8h0M161.4 72.3h0M162.8 117.1h0M161.5 62.7h0M161.2 68.9h0M162.1 91.0h0M161.5 92.1h0M161.2 80.3h0M160.1 84.5h0M162.1 66.7h0M162.5 57.8h0M161.5 94.8h0M161.7 103.9h0M160.8 76.2h0M162.0 74.5h0M164.1 111.1h0M161.0 79.3h0M162.6 81.8h0M161.8 87.2h0M162.2 122.6h0M161.8 68.9h0M160.5 70.0h0M160.0 92.8h0M160.8 78.9h0M161.8 66.5h0M161.2 93.9h0M161.3 102.1h0M164.4 101.4h0M161.1 68.1h0M161.0 124.5h0M161.1 64.7h0M161.2 109.9h0M160.5 62.4h0M164.7 117.3h0M161.3 73.3h0M161.5 58.7h0M161.0 104.5h0M162.1 112.9h0M160.1 116.7h0M161.1 69.3h0M162.2 87.2h0M161.6 101.4h0M161.6 114.3h0M160.6 101.6h0M160.4 100.8h0M161.5 74.0h0M161.4 97.2h0M158.8 65.9h0M162.4 126.5h0M160.9 80.5h0M164.0 84.3h0M161.0 92.2h0M161.0 94.1h0M161.3 64.6h0M161.5 114.1h0M162.6 104.1h0M161.4 114.6h0M161.8 95.8h0M162.4 93.1h0M161.4 119.5h0M161.0 65.6h0M162.5 92.0h0M161.1 85.3h0M161.3 123.4h0M161.3 91.5h0M161.5 86.4h0M162.5 73.0h0M162.7 62.7h0M162.0 99.9h0M161.2 104.0h0M162.7 95.0h0M160.8 102.4h0M161.5 91.3h0M162.8 73.8h0M161.6 98.1h0M160.4 120.0h0M161.5 121.0h0M161.6 99.1h0M162.1 80.2h0M160.4 57.7h0M162.6 83.1h0M160.6 58.1h0M162.1 60.7h0M160.6 98.3h0M160.8 79.5h0M161.7 74.4h0M160.9 115.0h0M161.3 81.6h0M162.3 69.3h0M161.3 60.9h0M160.6 79.9h0M162.2 63.4h0M161.3 81.2h0M160.1 62.7h0M161.7 85.9h0M161.5 78.8h0M160.8 66.4h0M161.5 82.0h0M161.4 79.6h0M161.3 91.9h0M161.2 146.5h0M160.2 132.2h0M167.1 86.7h0M168.5 112.7h0M166.0 94.0h0M166.6 85.6h0M167.4 105.7h0M167.4 115.8h0M166.5 93.2h0M167.6 63.6h0M166.6 116.5h0M166.3 88.4h0M167.8 90.9h0M165.4 95.3h0M165.9 114.4h0M167.3 67.8h0M167.7 88.4h0M168.0 92.4h0M166.0 76.4h0M167.8 88.0h0M167.8 73.2h0M166.7 123.8h0M166.9 92.5h0M167.7 64.5h0M167.9 82.1h0M167.8 115.2h0M165.6 100.4h0M166.6 118.2h0M166.5 119.0h0M166.9 86.1h0M166.6 89.9h0M166.1 68.1h0M165.3 87.2h0M166.0 69.2h0M167.8 90.7h0M167.7 107.0h0M165.7 126.7h0M168.0 63.4h0M168.6 82.5h0M167.4 95.2h0M168.0 107.9h0M167.5 66.7h0M168.9 94.1h0M167.8 119.1h0M167.0 78.6h0M168.4 102.4h0M167.6 77.8h0M166.8 121.6h0M166.7 80.7h0M167.1 112.4h0M168.5 62.9h0M168.8 110.6h0M166.8 119.3h0M166.9 97.0h0M167.2 85.5h0M168.6 71.1h0M168.0 89.0h0M168.8 128.5h0M167.7 106.6h0M166.2 69.7h0M167.1 91.3h0M166.8 94.6h0M166.7 69.0h0M169.2 115.3h0M168.5 109.2h0M167.0 89.6h0M167.5 116.3h0M166.0 59.8h0M168.9 86.6h0M169.4 89.0h0M166.9 68.3h0M166.9 106.3h0M169.1 74.2h0M166.5 84.7h0M166.6 126.2h0M167.5 84.2h0M169.7 83.1h0M165.3 101.7h0M166.7 68.6h0M168.2 85.7h0M167.3 60.1h0M167.4 115.4h0M167.6 123.0h0M167.5 91.8h0M167.7 89.6h0M168.2 96.4h0M167.8 82.3h0M166.6 128.7h0M167.0 107.9h0M168.1 105.6h0M166.7 127.5h0M168.2 77.2h0M169.6 74.8h0M166.0 80.6h0M167.1 66.5h0M169.0 88.1h0M168.5 117.1h0M167.2 106.9h0M168.9 74.7h0M166.3 101.1h0M171.6 95.9h0M170.2 129.1h0M165.4 94.3h0M167.8 75.9h0M166.0 71.7h0M167.1 68.2h0M166.5 75.2h0M166.4 81.2h0M166.9 99.7h0M167.6 113.8h0M167.4 105.3h0M167.3 116.6h0M167.1 63.7h0M166.4 84.2h0M166.0 121.6h0M165.9 87.3h0M167.5 120.9h0M167.2 73.7h0M167.1 90.8h0M167.3 108.4h0M167.5 98.9h0M166.5 92.9h0M167.6 79.9h0M166.1 99.7h0M170.8 93.9h0M167.6 83.5h0M167.5 65.4h0M166.4 93.0h0M167.2 123.8h0M165.8 107.7h0M168.4 82.0h0M166.8 114.5h0M166.7 67.7h0M170.1 91.3h0M167.6 77.1h0M166.2 73.5h0M166.0 113.0h0M167.4 104.9h0M167.5 83.9h0M168.3 106.5h0M167.4 111.5h0M167.7 78.5h0M166.8 107.7h0M167.0 98.8h0M167.7 99.6h0M170.4 70.6h0M167.9 98.6h0M165.9 104.4h0M166.6 97.2h0M167.7 69.8h0M167.2 107.3h0M165.8 98.3h0M165.5 92.4h0M165.0 113.6h0M166.4 128.2h0M166.4 76.2h0M166.8 120.7h0M167.7 89.7h0M167.7 83.0h0M166.2 75.2h0M166.7 115.3h0M167.0 79.0h0M167.0 98.6h0M167.9 67.0h0M167.8 82.9h0M168.2 106.1h0M167.4 64.3h0M169.1 119.3h0M167.0 75.9h0M167.0 109.7h0M170.5 115.4h0M167.7 81.0h0M168.0 71.6h0M168.1 118.3h0M166.4 125.9h0M166.6 78.8h0M167.7 109.2h0M166.5 65.5h0M167.7 72.6h0M166.2 75.0h0M168.3 92.2h0M167.9 74.7h0M167.2 113.5h0M166.8 69.2h0M167.3 91.2h0M166.0 65.8h0M166.6 79.3h0M167.9 87.6h0M167.0 120.1h0M168.0 94.1h0M167.4 101.4h0M166.2 86.4h0M165.6 74.0h0M170.0 77.5h0M166.6 120.8h0M166.8 97.8h0M168.9 81.2h0M167.2 81.8h0M166.6 114.9h0M166.9 64.1h0M167.4 109.6h0M169.2 66.0h0M166.2 62.4h0M168.9 131.1h0M168.2 75.2h0M167.4 73.1h0M168.3 76.8h0M166.7 77.4h0M166.5 83.7h0M166.7 85.1h0M166.2 72.6h0M169.2 66.7h0M167.3 69.5h0M167.3 89.2h0M167.0 84.9h0M166.9 71.7h0M167.9 111.4h0M167.9 106.4h0M167.6 109.2h0M168.2 116.6h0M167.5 121.3h0M167.2 70.8h0M167.6 79.1h0M167.9 107.3h0M168.7 108.7h0M167.0 76.2h0M170.0 62.1h0M166.2 96.5h0M166.7 96.1h0M169.0 72.3h0M166.9 93.1h0M167.0 61.2h0M167.9 89.1h0M167.1 93.5h0M166.8 84.0h0M166.6 122.1h0M166.2 118.5h0M168.3 126.4h0M167.9 69.2h0M166.3 71.7h0M167.1 89.5h0M166.4 85.4h0M167.3 122.2h0M167.7 125.8h0M166.9 89.8h0M165.8 74.8h0M166.4 73.7h0M166.5 90.9h0M168.7 94.9h0M171.1 75.6h0M167.6 104.3h0M166.5 115.5h0M166.6 89.7h0M166.6 88.4h0M167.7 67.3h0M165.8 101.2h0M167.8 117.9h0M166.1 64.3h0M168.0 63.7h0M167.6 114.0h0M167.2 59.5h0M167.2 99.0h0M166.9 83.8h0M169.0 124.2h0M166.9 72.2h0M167.1 122.2h0M167.3 79.9h0M166.8 87.4h0M168.2 110.7h0M166.5 64.7h0M166.6 121.6h0M165.9 120.1h0M167.4 79.4h0M166.8 63.2h0M167.2 97.8h0M167.8 80.6h0M166.6 62.7h0M166.5 91.7h0M166.7 75.2h0M168.4 71.8h0M165.5 125.9h0M166.0 100.2h0M168.0 115.3h0M167.6 93.3h0M168.0 65.8h0M167.4 86.5h0M167.1 71.1h0M166.2 120.7h0M167.1 63.1h0M167.1 76.3h0M169.1 121.4h0M168.0 108.4h0M168.2 66.6h0M166.0 94.0h0M167.7 95.9h0M167.6 77.6h0M168.0 64.6h0M167.1 79.3h0M167.1 112.0h0M168.2 77.9h0M166.4 60.6h0M167.8 87.6h0M166.2 85.9h0M167.6 65.2h0M167.1 84.3h0M167.6 68.0h0M166.5 90.0h0M167.1 74.6h0M167.4 88.7h0M168.3 97.9h0M167.5 77.0h0M166.9 86.9h0M166.6 117.4h0M168.2 74.1h0M168.3 111.0h0M168.3 58.8h0M168.5 85.5h0M167.8 71.5h0M168.3 84.6h0M168.0 102.9h0M167.8 91.7h0M165.6 98.1h0M166.9 79.1h0M165.3 102.8h0M166.5 93.6h0M170.1 70.9h0M165.9 112.3h0M166.8 71.3h0M166.7 99.3h0M166.4 53.4h0M167.2 56.2h0M166.4 133.3h0M166.4 136.0h0M167.6 135.4h0M167.1 139.2h0M167.2 142.6h0M172.9 106.3h0M173.6 104.6h0M173.0 68.1h0M172.8 89.0h0M171.5 110.4h0M174.3 103.1h0M173.5 114.0h0M172.7 96.5h0M173.1 125.6h0M172.1 72.8h0M173.6 76.7h0M173.6 113.7h0M171.8 85.8h0M174.9 100.4h0M172.2 126.8h0M172.7 82.5h0M172.0 103.8h0M171.7 116.1h0M173.0 80.1h0M172.3 78.5h0M172.2 90.0h0M172.5 104.2h0M172.2 131.7h0M172.5 84.2h0M173.4 122.2h0M173.4 77.5h0M172.8 122.7h0M172.6 82.3h0M172.9 65.5h0M172.9 104.5h0M173.1 117.2h0M173.0 69.6h0M172.5 67.6h0M172.7 113.8h0M172.5 85.5h0M173.5 111.5h0M175.8 106.5h0M173.3 71.0h0M172.2 74.5h0M172.9 112.2h0M173.0 74.7h0M171.7 64.4h0M172.7 117.0h0M173.3 126.8h0M173.8 121.0h0M172.6 63.5h0M172.4 108.1h0M171.8 73.0h0M171.2 65.4h0M171.1 75.5h0M173.0 72.5h0M172.5 98.7h0M172.5 87.7h0M173.1 79.7h0M173.4 127.7h0M176.6 118.7h0M173.5 68.0h0M172.8 119.5h0M170.8 78.4h0M172.7 88.5h0M171.3 78.0h0M172.1 100.7h0M175.0 91.1h0M172.8 101.6h0M172.9 84.4h0M173.8 86.1h0M175.6 85.8h0M172.7 89.7h0M172.6 123.0h0M170.6 90.4h0M172.0 63.2h0M174.2 122.8h0M173.5 119.6h0M176.0 115.7h0M172.8 84.0h0M173.9 93.7h0M173.1 108.2h0M177.3 79.1h0M172.8 71.9h0M173.2 123.9h0M172.4 125.4h0M174.2 104.8h0M173.2 73.5h0M172.6 122.3h0M172.4 73.6h0M175.3 117.0h0M172.9 101.8h0M172.4 88.7h0M172.9 68.5h0M172.3 65.7h0M173.3 132.8h0M173.0 71.7h0M172.8 107.2h0M173.5 124.6h0M172.8 68.2h0M172.6 121.6h0M172.8 125.5h0M172.4 76.3h0M173.6 91.8h0M172.1 114.5h0M171.4 109.8h0M172.6 104.4h0M173.4 116.7h0M175.3 134.3h0M173.4 123.2h0M174.2 125.8h0M172.3 101.2h0M172.5 116.4h0M174.3 74.3h0M171.9 119.4h0M171.6 73.0h0M172.8 79.1h0M173.8 102.9h0M172.6 76.8h0M172.6 66.7h0M172.8 69.7h0M173.3 128.6h0M172.1 61.3h0M172.7 95.6h0M172.4 102.8h0M172.6 112.6h0M172.5 116.1h0M171.6 78.6h0M175.8 121.1h0M171.4 106.2h0M172.1 103.4h0M172.7 92.3h0M173.3 69.8h0M172.5 105.5h0M173.2 123.5h0M173.6 83.8h0M172.6 123.5h0M173.2 70.6h0M173.9 85.2h0M173.1 85.8h0M172.9 97.5h0M172.5 104.7h0M173.4 103.6h0M173.0 70.3h0M172.5 106.2h0M172.5 113.1h0M173.6 82.0h0M173.0 68.1h0M173.4 73.0h0M173.0 89.9h0M172.0 109.5h0M173.0 114.7h0M173.1 84.9h0M171.9 65.8h0M172.5 124.2h0M171.8 116.4h0M172.8 103.2h0M171.6 69.6h0M171.8 112.1h0M173.4 113.8h0M172.8 85.7h0M172.9 90.9h0M172.1 78.9h0M172.8 121.9h0M173.5 85.8h0M173.3 92.0h0M173.8 97.8h0M171.7 128.9h0M173.7 77.3h0M172.5 125.1h0M172.8 124.7h0M174.5 78.1h0M173.6 67.1h0M172.7 115.4h0M176.7 101.2h0M171.9 65.3h0M173.4 67.3h0M172.4 86.3h0M172.6 77.0h0M173.0 71.4h0M174.9 117.2h0M172.6 87.8h0M173.5 75.4h0M172.7 70.7h0M172.8 80.0h0M174.7 97.8h0M172.9 80.4h0M171.7 121.7h0M171.8 124.8h0M173.8 78.5h0M172.6 81.4h0M172.4 113.8h0M172.3 70.7h0M170.9 96.4h0M172.2 113.4h0M173.7 74.5h0M171.8 73.3h0M172.1 83.2h0M173.0 116.5h0M172.2 99.7h0M174.0 109.8h0M172.6 78.4h0M172.7 94.2h0M172.5 89.3h0M172.1 68.5h0M173.1 115.6h0M173.2 133.3h0M173.6 117.1h0M171.7 95.5h0M173.3 103.8h0M172.2 94.9h0M173.1 111.8h0M173.8 88.4h0M172.0 80.9h0M172.4 66.3h0M172.6 92.1h0M173.4 101.9h0M173.5 110.8h0M172.2 84.4h0M173.3 76.7h0M173.7 107.5h0M173.4 97.0h0M173.2 104.7h0M175.5 127.5h0M172.6 92.8h0M173.0 90.9h0M173.4 66.2h0M173.7 102.0h0M172.8 84.5h0M171.2 78.5h0M173.6 77.3h0M174.2 79.0h0M171.9 114.8h0M175.0 66.0h0M173.1 67.8h0M172.6 65.2h0M172.8 75.4h0M172.2 93.0h0M172.3 130.9h0M173.1 75.5h0M172.9 125.0h0M172.2 125.8h0M171.4 97.1h0M173.4 109.7h0M173.7 76.5h0M171.8 123.7h0M173.2 117.5h0M173.3 107.6h0M172.3 88.1h0M173.1 98.8h0M171.5 119.2h0M171.0 66.1h0M174.0 80.5h0M173.2 83.0h0M172.5 107.2h0M173.3 70.7h0M172.2 124.5h0M172.5 70.7h0M171.9 128.9h0M173.1 83.5h0M173.7 82.3h0M174.5 119.7h0M172.6 98.7h0M172.1 66.8h0M173.4 98.3h0M172.5 72.5h0M173.3 69.6h0M172.8 81.2h0M175.8 103.3h0M171.2 106.3h0M173.2 65.7h0M173.8 100.5h0M174.4 89.3h0M173.3 96.1h0M173.6 110.9h0M173.5 93.6h0M173.0 84.6h0M172.6 83.3h0M172.0 76.8h0M173.1 108.9h0M172.1 68.9h0M172.3 67.9h0M173.4 79.6h0M173.8 109.7h0M173.4 133.1h0M175.1 95.5h0M172.4 127.8h0M173.3 79.1h0M173.5 100.9h0M173.7 118.6h0M172.7 92.3h0M172.0 105.3h0M173.9 80.3h0M173.3 115.8h0M172.4 119.8h0M172.8 107.9h0M173.3 101.6h0M171.8 111.9h0M174.3 77.0h0M171.6 114.9h0M171.7 103.6h0M173.6 64.6h0M173.6 106.3h0M171.9 74.2h0M172.8 67.0h0M173.2 73.6h0M171.2 126.8h0M172.7 72.3h0M174.4 124.8h0M173.3 114.3h0M173.5 126.4h0M173.0 71.3h0M172.0 83.9h0M173.2 79.5h0M171.4 101.3h0M174.5 84.0h0M172.5 99.8h0M174.8 86.6h0M172.3 113.9h0M172.5 75.7h0M172.2 92.9h0M172.9 130.9h0M172.8 91.5h0M173.4 80.9h0M172.4 95.0h0M173.1 89.9h0M175.6 76.0h0M173.7 79.3h0M172.8 75.2h0M172.7 109.9h0M173.5 120.2h0M172.8 68.1h0M173.0 111.0h0M172.9 104.6h0M172.1 96.5h0M172.7 81.6h0M172.5 64.5h0M174.0 103.4h0M176.3 69.0h0M172.6 71.9h0M172.7 95.4h0M172.9 95.5h0M172.2 92.6h0M173.1 67.3h0M172.5 67.5h0M173.4 117.4h0M170.7 83.2h0M173.2 86.9h0M173.2 125.1h0M172.9 122.9h0M171.4 110.1h0M172.6 121.9h0M174.0 95.5h0M173.6 79.4h0M173.0 87.2h0M171.9 107.7h0M172.6 99.5h0M172.3 58.4h0M173.2 151.6h0M173.7 155.2h0M172.3 142.8h0M172.9 136.6h0M174.4 145.9h0M174.0 153.0h0M171.7 139.3h0M172.1 140.4h0M180.5 67.9h0M178.1 82.8h0M177.1 100.8h0M179.1 88.9h0M178.2 75.1h0M178.6 128.2h0M179.3 71.0h0M179.4 89.3h0M180.1 117.1h0M180.3 88.6h0M178.0 84.2h0M178.8 87.9h0M179.5 127.8h0M177.7 99.2h0M179.5 101.4h0M179.8 79.8h0M179.1 120.9h0M180.4 93.4h0M177.6 102.9h0M179.0 108.4h0M178.6 126.5h0M179.9 80.9h0M178.1 93.9h0M178.5 68.7h0M177.5 80.3h0M177.5 121.2h0M178.3 129.4h0M179.7 97.5h0M179.4 94.2h0M178.3 101.5h0M178.5 83.6h0M178.7 98.0h0M178.0 79.1h0M178.1 104.2h0M181.3 78.0h0M177.6 93.6h0M177.6 74.9h0M178.4 92.3h0M180.7 76.3h0M178.7 85.4h0M178.2 73.6h0M176.7 89.2h0M177.7 104.6h0M180.9 132.5h0M178.4 89.4h0M180.7 90.2h0M178.6 79.0h0M178.3 114.6h0M177.0 111.4h0M178.9 115.8h0M181.7 132.2h0M177.2 110.3h0M178.2 95.9h0M178.6 125.0h0M178.6 127.4h0M178.7 101.6h0M179.0 76.2h0M178.2 96.4h0M177.5 115.5h0M178.7 74.5h0M178.5 93.8h0M180.1 103.5h0M177.7 70.4h0M178.9 123.8h0M180.7 95.7h0M180.6 119.5h0M177.7 95.6h0M178.0 71.5h0M178.7 115.2h0M178.6 105.4h0M178.8 83.9h0M177.7 118.6h0M178.8 68.2h0M180.5 102.2h0M177.9 71.3h0M178.1 110.0h0M178.4 105.6h0M179.6 119.6h0M179.4 72.5h0M177.4 136.3h0M178.1 104.6h0M178.6 86.9h0M177.5 107.3h0M177.6 65.9h0M180.5 83.1h0M178.2 85.6h0M179.6 76.8h0M179.7 124.3h0M178.4 74.5h0M179.0 83.1h0M178.1 73.1h0M178.1 116.7h0M179.9 77.2h0M179.6 129.7h0M177.8 128.5h0M182.2 120.7h0M177.9 82.3h0M177.9 68.3h0M178.0 71.9h0M178.8 93.7h0M179.4 85.1h0M177.9 76.9h0M179.7 87.6h0M182.0 108.2h0M178.1 66.3h0M178.8 77.0h0M177.1 112.3h0M178.6 68.6h0M178.2 71.7h0M177.5 93.2h0M179.1 83.4h0M178.2 110.8h0M178.1 72.7h0M178.5 66.1h0M180.5 69.2h0M177.8 125.0h0M178.7 89.6h0M179.7 125.9h0M179.3 80.3h0M178.5 78.7h0M178.9 78.3h0M181.3 69.1h0M178.6 80.6h0M177.7 123.2h0M178.4 74.5h0M179.5 113.9h0M179.4 99.4h0M178.4 99.8h0M179.2 82.2h0M178.3 82.9h0M178.9 102.4h0M177.5 124.1h0M179.4 80.1h0M178.7 102.5h0M176.7 66.5h0M178.0 84.1h0M182.7 81.9h0M178.9 104.4h0M178.5 117.8h0M179.6 129.9h0M178.8 108.7h0M178.4 118.8h0M178.3 92.7h0M178.9 109.7h0M177.7 79.0h0M181.8 111.9h0M179.6 84.6h0M180.5 71.0h0M180.5 91.2h0M179.2 79.9h0M178.3 97.1h0M178.6 121.7h0M179.4 87.6h0M178.4 90.1h0M179.6 80.7h0M177.7 114.7h0M178.9 72.4h0M177.2 81.9h0M177.5 119.5h0M180.6 91.0h0M178.5 100.7h0M178.7 133.6h0M178.4 123.6h0M179.4 78.1h0M181.7 87.5h0M177.9 87.8h0M178.6 93.9h0M178.2 90.8h0M179.3 110.9h0M179.0 100.2h0M177.5 109.7h0M181.9 73.5h0M179.4 77.0h0M178.3 85.0h0M179.0 111.9h0M177.8 77.7h0M179.5 96.0h0M178.0 92.8h0M178.5 69.6h0M179.5 121.8h0M177.9 109.6h0M178.8 95.7h0M179.2 130.7h0M178.6 126.5h0M177.7 110.5h0M178.9 107.8h0M179.9 76.4h0M179.6 67.2h0M178.4 108.0h0M179.4 90.6h0M178.4 123.2h0M178.4 127.8h0M178.7 108.1h0M179.0 87.1h0M177.3 86.9h0M177.8 97.4h0M178.3 81.6h0M177.6 68.4h0M178.4 115.0h0M178.6 105.0h0M178.7 115.8h0M179.2 79.2h0M178.4 89.0h0M177.7 94.5h0M177.5 71.6h0M178.0 117.2h0M177.6 84.1h0M181.5 82.5h0M177.9 79.1h0M178.2 127.0h0M178.4 81.7h0M179.5 108.4h0M178.8 103.7h0M178.9 77.1h0M178.6 108.6h0M178.5 75.6h0M179.0 87.6h0M179.7 68.9h0M179.2 96.2h0M178.6 69.3h0M179.0 109.1h0M179.9 110.9h0M179.6 81.3h0M177.5 69.2h0M180.2 82.8h0M178.4 101.4h0M178.5 74.3h0M177.3 78.3h0M179.2 81.0h0M177.1 68.4h0M178.8 128.8h0M179.3 91.3h0M179.4 88.0h0M180.8 67.3h0M178.3 99.0h0M178.4 73.1h0M178.4 109.1h0M177.8 82.4h0M178.8 86.4h0M178.5 84.0h0M179.8 102.9h0M178.7 108.4h0M178.3 69.7h0M177.6 80.3h0M177.0 105.5h0M178.1 91.3h0M178.1 127.4h0M177.7 82.1h0M178.1 76.2h0M178.8 97.4h0M178.0 127.6h0M178.3 89.8h0M177.5 111.0h0M179.9 121.7h0M178.7 103.9h0M177.9 85.9h0M179.1 129.4h0M178.6 126.5h0M178.3 74.5h0M178.8 78.6h0M179.3 68.3h0M181.6 130.3h0M179.5 84.1h0M178.5 72.9h0M178.3 112.9h0M179.8 99.5h0M178.4 71.6h0M179.1 132.4h0M178.4 79.7h0M177.8 68.2h0M178.0 83.2h0M178.0 84.1h0M179.7 129.6h0M177.6 79.7h0M178.3 95.2h0M178.4 82.3h0M177.7 89.1h0M178.6 96.0h0M178.5 70.7h0M177.8 73.3h0M177.6 95.3h0M178.8 108.8h0M177.1 116.4h0M180.5 101.3h0M179.4 124.3h0M177.4 80.2h0M177.8 71.5h0M177.3 94.0h0M176.6 127.7h0M179.5 132.7h0M178.2 112.2h0M178.2 96.2h0M178.5 74.7h0M177.9 95.0h0M179.0 96.3h0M177.9 81.3h0M178.2 107.3h0M178.1 80.7h0M177.9 91.6h0M178.6 126.5h0M178.7 90.5h0M177.3 99.3h0M182.7 78.9h0M179.4 103.3h0M177.3 109.0h0M179.6 89.5h0M177.9 99.7h0M178.3 77.4h0M178.8 69.0h0M178.3 101.5h0M179.2 126.4h0M178.5 70.2h0M180.5 119.7h0M177.3 96.2h0M177.6 68.2h0M179.0 118.9h0M179.3 82.9h0M179.1 80.7h0M179.2 82.4h0M180.3 86.6h0M179.0 81.4h0M179.4 72.0h0M177.3 88.0h0M178.1 78.2h0M179.6 118.7h0M177.7 95.3h0M178.3 93.5h0M176.6 86.6h0M179.5 99.2h0M179.4 123.3h0M179.4 91.7h0M178.2 74.6h0M178.4 76.6h0M178.5 127.1h0M181.1 120.4h0M178.3 96.2h0M177.7 84.4h0M181.0 79.0h0M178.9 90.2h0M180.2 118.2h0M177.9 89.5h0M177.6 82.2h0M179.4 131.3h0M178.9 86.7h0M177.4 72.5h0M178.9 127.5h0M177.7 123.9h0M177.7 69.7h0M178.1 83.9h0M179.8 99.1h0M178.9 122.8h0M178.4 109.8h0M177.9 131.2h0M176.9 70.4h0M177.0 120.7h0M177.5 88.9h0M177.9 76.4h0M179.3 111.3h0M180.6 73.5h0M177.8 75.2h0M178.2 106.4h0M176.6 144.3h0M179.4 143.1h0M178.4 156.1h0M177.9 144.2h0M177.4 147.2h0M177.1 147.2h0M183.7 72.5h0M185.3 87.3h0M184.9 113.6h0M184.2 110.5h0M187.6 80.7h0M185.2 71.7h0M186.0 86.5h0M185.2 86.1h0M183.6 78.8h0M184.1 119.9h0M183.1 83.3h0M184.3 82.0h0M183.8 70.9h0M185.3 102.4h0M184.6 103.1h0M184.6 112.6h0M184.1 95.7h0M184.1 112.4h0M183.7 73.0h0M184.5 129.9h0M184.4 93.5h0M183.6 87.8h0M184.3 78.2h0M185.3 116.1h0M183.7 102.2h0M186.6 73.5h0M185.5 91.4h0M186.0 119.9h0M184.7 87.4h0M184.2 111.0h0M183.3 73.8h0M184.3 121.5h0M184.4 90.1h0M183.7 120.8h0M185.5 84.4h0M184.9 88.2h0M184.1 136.9h0M184.1 73.6h0M184.7 89.7h0M184.3 74.6h0M185.0 97.8h0M184.7 90.7h0M184.5 115.9h0M183.2 74.9h0M184.5 81.7h0M186.1 86.1h0M184.1 111.7h0M183.8 82.2h0M184.3 88.6h0M183.6 116.0h0M187.1 117.3h0M183.9 104.7h0M185.6 137.8h0M185.0 111.0h0M184.3 121.6h0M183.5 69.8h0M182.9 104.5h0M185.0 72.1h0M187.7 103.4h0M185.1 113.6h0M183.9 90.8h0M184.3 86.6h0M184.4 82.4h0M187.2 114.6h0M184.5 69.2h0M184.6 82.1h0M185.6 101.3h0M184.4 68.3h0M183.4 101.0h0M184.8 95.0h0M184.4 79.9h0M184.0 77.9h0M187.6 110.9h0M184.6 77.6h0M185.5 115.2h0M185.0 100.7h0M184.6 104.0h0M183.5 80.5h0M184.6 128.8h0M184.8 125.7h0M185.9 85.7h0M185.8 85.5h0M184.7 115.0h0M183.3 112.9h0M184.6 70.0h0M185.3 101.9h0M185.0 91.2h0M183.9 108.5h0M183.8 100.0h0M182.9 76.6h0M183.1 119.0h0M185.4 126.4h0M187.2 97.7h0M184.7 86.1h0M183.9 109.0h0M183.3 122.0h0M183.2 119.0h0M184.1 107.9h0M183.3 114.9h0M184.8 85.9h0M184.2 86.7h0M185.2 79.4h0M183.0 81.5h0M183.1 122.0h0M183.1 78.8h0M184.3 82.3h0M183.3 99.6h0M184.6 70.5h0M184.9 135.6h0M184.2 103.3h0M182.9 116.3h0M183.8 113.5h0M184.7 78.4h0M185.0 107.9h0M184.6 84.6h0M183.9 103.5h0M183.5 99.8h0M187.0 89.1h0M182.2 130.9h0M183.9 132.6h0M185.2 116.6h0M183.3 97.3h0M185.0 79.6h0M183.4 137.3h0M183.9 98.8h0M184.7 90.9h0M184.8 82.4h0M184.1 123.8h0M183.8 95.0h0M184.5 98.8h0M185.3 111.8h0M184.2 102.5h0M183.1 103.7h0M183.9 105.9h0M183.9 93.8h0M183.7 76.7h0M184.1 90.6h0M183.5 93.6h0M184.4 75.7h0M182.7 98.5h0M184.6 96.9h0M184.9 96.8h0M184.3 86.2h0M184.6 110.5h0M187.3 107.7h0M184.7 119.6h0M183.9 94.2h0M184.0 79.6h0M184.3 126.7h0M183.6 85.5h0M185.0 102.8h0M183.5 70.4h0M183.6 102.4h0M187.6 83.0h0M185.3 108.4h0M183.4 86.9h0M184.6 124.0h0M183.9 85.1h0M185.2 80.0h0M184.7 106.6h0M183.5 79.9h0M183.8 110.7h0M184.7 105.3h0M187.4 80.3h0M184.4 107.4h0M184.2 115.8h0M184.1 93.8h0M185.3 119.8h0M184.0 74.2h0M184.6 91.2h0M184.6 123.6h0M185.0 116.9h0M184.7 131.8h0M185.0 117.6h0M183.1 122.2h0M184.0 134.2h0M183.9 75.3h0M185.1 85.4h0M184.4 129.2h0M183.7 113.8h0M185.0 129.5h0M183.9 111.9h0M184.4 80.7h0M186.5 85.3h0M184.8 101.9h0M184.1 98.6h0M184.1 76.9h0M183.2 128.3h0M185.1 112.9h0M184.2 92.3h0M184.8 91.8h0M184.9 104.2h0M187.4 123.4h0M185.1 88.1h0M183.5 122.0h0M183.6 87.7h0M184.7 92.2h0M184.1 120.4h0M184.0 78.8h0M183.6 109.8h0M183.6 110.8h0M184.6 78.2h0M184.7 124.6h0M183.4 116.7h0M183.7 126.8h0M184.3 86.2h0M184.0 99.9h0M184.6 99.8h0M182.5 77.0h0M182.3 105.9h0M183.7 94.9h0M184.2 89.9h0M183.5 89.0h0M184.7 117.5h0M184.7 112.7h0M184.0 122.4h0M183.8 92.2h0M185.3 79.2h0M183.4 99.4h0M184.2 115.6h0M183.3 132.2h0M185.3 126.5h0M183.8 111.1h0M183.3 121.0h0M184.8 133.7h0M184.8 127.1h0M183.4 124.1h0M185.2 134.7h0M184.1 119.9h0M183.5 98.2h0M183.6 110.5h0M184.9 75.6h0M185.4 120.0h0M184.5 97.1h0M185.6 104.4h0M185.2 132.4h0M184.7 79.7h0M184.0 110.7h0M183.7 119.6h0M183.7 114.5h0M184.6 79.7h0M183.4 126.6h0M183.0 104.9h0M184.0 129.2h0M184.5 84.0h0M184.8 130.4h0M187.5 90.3h0M183.5 91.3h0M184.6 117.3h0M184.0 92.9h0M184.4 135.1h0M183.5 127.6h0M185.6 79.0h0M183.7 73.0h0M184.1 103.9h0M184.8 131.7h0M185.1 81.3h0M184.2 75.1h0M185.7 121.8h0M182.6 77.8h0M183.9 121.3h0M184.5 134.7h0M184.2 87.9h0M184.2 103.7h0M184.1 95.5h0M184.8 120.7h0M186.7 96.3h0M184.4 88.8h0M183.9 112.2h0M185.6 75.3h0M185.5 124.0h0M184.7 103.6h0M184.4 118.5h0M184.4 98.9h0M184.8 82.2h0M183.5 108.6h0M185.4 121.5h0M183.4 119.3h0M184.4 131.0h0M182.5 83.2h0M183.0 91.0h0M184.7 126.5h0M184.7 121.3h0M183.8 83.4h0M184.5 107.4h0M184.8 89.2h0M185.0 77.3h0M185.2 133.0h0M185.2 79.4h0M184.5 114.9h0M185.7 121.5h0M183.1 76.6h0M185.1 78.0h0M184.9 90.6h0M183.7 135.3h0M185.3 77.3h0M184.5 107.2h0M183.8 132.7h0M185.9 93.3h0M184.0 70.6h0M184.4 72.0h0M183.8 90.2h0M184.4 68.8h0M186.5 74.4h0M184.6 105.0h0M183.9 80.6h0M184.2 89.6h0M183.5 125.1h0M183.4 72.3h0M183.9 94.9h0M184.2 127.0h0M183.8 78.0h0M184.8 93.6h0M184.6 114.1h0M183.1 145.0h0M184.0 148.5h0M183.8 143.1h0M184.8 161.9h0M188.4 93.4h0M190.3 127.1h0M189.8 104.2h0M190.3 95.2h0M189.1 125.5h0M191.3 81.0h0M189.8 81.2h0M189.8 96.7h0M189.9 117.1h0M190.2 126.9h0M191.0 87.7h0M190.3 118.4h0M192.1 136.2h0M190.1 75.3h0M190.1 85.2h0M188.2 95.4h0M189.3 133.5h0M189.7 118.1h0M190.1 126.4h0M191.2 85.4h0M189.6 88.2h0M189.3 105.5h0M190.6 78.1h0M189.8 90.5h0M190.0 101.2h0M189.1 78.1h0M188.2 86.5h0M190.2 91.6h0M189.7 77.4h0M190.0 118.1h0M189.8 80.7h0M189.9 128.3h0M189.2 122.8h0M191.1 85.5h0M191.7 111.0h0M189.7 91.8h0M190.1 125.8h0M189.8 81.3h0M190.5 118.3h0M191.0 117.7h0M190.3 109.4h0M189.1 77.8h0M190.4 132.6h0M193.4 107.6h0M190.5 83.4h0M188.9 98.4h0M189.5 84.6h0M190.3 81.7h0M191.3 85.9h0M189.9 81.6h0M189.2 104.9h0M190.4 138.0h0M189.6 116.2h0M189.6 111.9h0M189.4 124.9h0M190.6 108.7h0M190.4 116.5h0M189.9 111.0h0M188.9 96.9h0M188.9 98.2h0M189.2 130.9h0M189.5 107.7h0M188.6 128.7h0M190.5 132.3h0M190.5 112.7h0M189.5 91.7h0M190.0 79.1h0M189.7 79.9h0M190.1 140.4h0M190.3 92.3h0M190.0 79.6h0M190.3 74.7h0M189.4 110.7h0M189.3 127.3h0M190.4 104.9h0M190.6 108.8h0M190.7 122.3h0M188.9 81.4h0M191.0 76.4h0M189.2 77.9h0M189.5 124.3h0M190.5 89.0h0M191.0 80.7h0M189.5 122.1h0M189.8 101.6h0M189.5 114.2h0M190.1 120.9h0M190.0 134.6h0M190.2 130.2h0M192.2 83.6h0M189.0 108.5h0M190.1 93.5h0M191.2 100.6h0M189.6 107.7h0M191.0 73.5h0M190.1 123.7h0M190.7 98.7h0M190.0 101.1h0M192.1 99.3h0M189.7 116.0h0M188.8 97.8h0M189.9 118.1h0M190.3 96.6h0M190.3 106.6h0M190.5 135.2h0M191.1 119.4h0M190.5 122.9h0M189.9 84.6h0M190.2 136.2h0M189.5 134.9h0M189.5 103.2h0M189.8 75.6h0M191.4 125.4h0M189.5 82.6h0M190.4 137.0h0M190.7 77.6h0M193.5 83.7h0M189.2 122.4h0M190.2 70.4h0M190.5 114.2h0M189.4 93.9h0M188.5 117.7h0M188.8 97.7h0M189.7 82.1h0M189.3 94.4h0M189.5 123.1h0M190.0 110.9h0M190.9 78.9h0M189.8 101.0h0M189.5 79.0h0M190.2 134.8h0M190.9 75.1h0M189.6 77.6h0M190.0 85.6h0M190.6 108.6h0M188.9 89.8h0M189.4 90.0h0M189.7 93.3h0M190.0 114.6h0M191.3 116.6h0M190.6 84.1h0M191.2 92.2h0M190.8 100.7h0M189.6 131.2h0M188.9 85.4h0M190.5 123.5h0M188.5 112.0h0M189.7 81.0h0M190.2 106.8h0M191.1 83.5h0M188.7 135.0h0M190.2 107.7h0M191.2 94.7h0M189.7 130.5h0M188.7 117.1h0M190.0 103.1h0M190.5 102.4h0M190.1 80.8h0M189.9 126.5h0M190.7 81.1h0M190.5 79.7h0M189.5 92.5h0M189.8 113.1h0M188.8 137.1h0M193.9 124.4h0M189.3 97.7h0M191.1 117.8h0M190.3 77.5h0M190.0 105.1h0M189.5 87.9h0M190.6 114.1h0M190.0 105.4h0M189.1 77.7h0M189.8 70.8h0M189.6 89.3h0M189.2 120.2h0M189.7 83.0h0M189.3 80.5h0M189.2 124.9h0M188.9 100.2h0M189.7 97.3h0M189.6 78.8h0M189.1 87.9h0M190.4 77.2h0M190.8 124.7h0M190.3 122.3h0M188.6 113.4h0M189.8 115.1h0M190.1 109.2h0M190.2 108.3h0M190.9 108.5h0M190.2 107.8h0M190.0 119.5h0M190.5 118.2h0M190.2 105.9h0M190.4 105.8h0M190.9 93.1h0M189.5 117.9h0M192.0 79.7h0M189.7 112.8h0M191.5 94.7h0M190.2 101.9h0M190.1 92.9h0M190.0 106.3h0M189.8 99.2h0M189.8 88.6h0M189.5 95.4h0M190.6 95.7h0M189.9 92.1h0M191.1 110.8h0M189.5 110.2h0M189.3 87.2h0M190.2 88.9h0M189.7 77.7h0M189.8 102.8h0M190.2 96.0h0M190.4 134.2h0M188.7 85.7h0M187.8 93.3h0M189.3 79.4h0M187.8 125.5h0M189.6 88.9h0M190.2 82.4h0M190.2 99.0h0M189.3 98.2h0M190.0 116.2h0M190.1 96.7h0M189.2 118.4h0M190.7 112.2h0M188.7 116.0h0M189.6 99.6h0M189.8 91.8h0M190.4 113.3h0M190.3 105.3h0M191.3 93.8h0M189.2 79.9h0M189.9 103.9h0M189.1 79.5h0M190.3 81.1h0M190.1 134.4h0M190.1 94.8h0M190.0 82.2h0M188.7 81.8h0M191.1 83.8h0M191.5 77.3h0M189.2 72.5h0M189.4 121.3h0M190.0 126.6h0M190.2 131.3h0M190.0 114.2h0M193.0 115.2h0M190.1 79.8h0M191.0 111.9h0M189.8 121.8h0M191.5 115.1h0M191.0 123.1h0M192.9 86.9h0M190.6 138.9h0M190.2 71.4h0M189.2 84.5h0M189.1 108.8h0M189.8 94.4h0M190.3 125.8h0M189.7 105.8h0M191.2 95.2h0M193.7 103.7h0M189.1 78.5h0M189.1 82.6h0M190.2 89.5h0M190.3 102.6h0M189.7 89.0h0M189.3 83.7h0M189.9 83.8h0M189.8 114.9h0M189.2 141.6h0M188.9 74.7h0M189.3 104.5h0M195.2 100.5h0M188.7 122.5h0M189.0 86.3h0M189.6 90.5h0M190.0 88.8h0M189.8 78.5h0M190.6 127.6h0M189.7 75.0h0M190.4 121.2h0M191.4 75.6h0M191.1 102.9h0M188.6 101.1h0M190.2 106.5h0M189.2 107.2h0M189.5 119.0h0M189.7 92.9h0M190.0 79.4h0M188.7 85.9h0M190.1 83.0h0M189.2 93.1h0M189.2 98.4h0M190.4 136.5h0M190.9 78.3h0M189.2 118.6h0M188.8 83.9h0M190.8 128.3h0M189.1 74.8h0M191.1 83.2h0M190.1 112.7h0M189.7 92.3h0M189.6 111.0h0M188.7 88.8h0M190.0 97.7h0M190.2 88.7h0M187.9 127.5h0M190.0 129.5h0M189.6 84.4h0M189.8 104.4h0M189.8 97.8h0M190.2 139.2h0M189.7 124.2h0M190.3 68.7h0M189.1 161.8h0M190.0 145.7h0M188.9 161.0h0M189.2 149.1h0M189.5 158.6h0M190.6 153.7h0M195.2 114.1h0M197.1 94.1h0M196.0 140.5h0M195.3 90.9h0M194.7 93.7h0M196.0 112.3h0M194.9 113.4h0M195.2 136.2h0M195.4 72.7h0M196.3 88.0h0M194.8 120.4h0M194.8 76.7h0M195.0 110.2h0M195.2 103.2h0M195.2 89.8h0M195.7 78.7h0M195.5 77.0h0M196.5 120.4h0M195.2 95.6h0M195.7 116.0h0M196.1 84.2h0M194.7 97.5h0M197.9 113.8h0M195.0 120.6h0M195.1 85.5h0M194.8 107.9h0M195.3 81.5h0M195.4 119.2h0M195.1 109.9h0M195.7 114.6h0M195.9 84.6h0M195.7 98.0h0M195.8 80.6h0M193.5 112.5h0M194.3 112.8h0M195.7 88.5h0M195.4 79.2h0M196.3 82.9h0M195.8 139.1h0M197.0 98.2h0M195.9 116.7h0M195.8 98.9h0M195.7 81.5h0M195.0 96.8h0M194.8 80.1h0M196.4 131.9h0M195.2 99.9h0M196.0 99.2h0M194.8 95.1h0M195.4 82.5h0M193.9 122.9h0M194.3 82.0h0M195.5 85.5h0M194.6 106.3h0M194.7 138.6h0M195.4 87.1h0M197.0 101.4h0M197.9 136.1h0M195.0 137.0h0M195.4 83.2h0M196.0 121.2h0M194.6 103.0h0M195.3 88.6h0M194.6 119.1h0M194.9 131.7h0M196.2 91.4h0M195.8 127.2h0M195.1 106.8h0M196.0 81.2h0M196.0 92.3h0M194.7 86.5h0M195.2 110.1h0M196.2 81.0h0M196.1 137.7h0M199.6 98.2h0M196.3 114.4h0M195.3 96.1h0M195.6 107.4h0M196.7 126.1h0M195.7 80.4h0M194.4 99.1h0M198.0 114.8h0M196.8 108.0h0M195.7 121.7h0M196.0 91.6h0M196.3 114.5h0M195.7 103.3h0M195.5 93.1h0M195.3 109.1h0M196.1 90.3h0M195.9 117.3h0M194.8 82.9h0M194.9 84.9h0M198.3 126.6h0M196.0 83.5h0M196.4 109.0h0M194.9 84.1h0M195.3 107.1h0M195.3 84.5h0M195.8 128.6h0M194.4 78.3h0M196.0 82.1h0M196.1 82.2h0M195.2 72.9h0M195.8 81.0h0M195.8 119.9h0M195.5 98.0h0M196.4 105.6h0M194.6 84.1h0M195.2 77.5h0M195.7 126.1h0M196.6 98.1h0M195.0 78.1h0M195.4 108.3h0M195.2 81.7h0M194.6 118.2h0M195.2 86.1h0M195.4 76.4h0M197.1 98.7h0M194.9 109.0h0M194.1 86.2h0M194.2 134.5h0M195.5 115.1h0M195.1 93.7h0M195.1 120.1h0M194.1 133.3h0M195.8 103.2h0M193.9 129.3h0M194.6 103.2h0M194.4 108.4h0M200.8 117.2h0M195.3 123.3h0M196.2 108.9h0M194.7 128.1h0M194.2 119.1h0M195.7 131.9h0M196.1 121.3h0M195.6 132.2h0M199.6 89.5h0M196.6 121.3h0M194.8 94.3h0M196.5 116.7h0M196.2 90.2h0M198.6 115.0h0M195.3 112.6h0M196.4 92.7h0M195.9 107.2h0M196.5 78.3h0M194.9 121.6h0M195.3 123.7h0M196.8 117.2h0M194.5 99.9h0M194.7 116.5h0M196.4 124.4h0M195.4 140.1h0M195.5 85.3h0M195.7 116.1h0M198.9 83.7h0M196.1 106.5h0M195.7 107.0h0M196.1 100.5h0M195.2 107.6h0M196.0 87.8h0M194.8 124.2h0M195.2 120.1h0M195.2 89.8h0M197.0 83.7h0M194.9 75.6h0M195.3 94.7h0M196.1 107.2h0M195.6 125.3h0M196.2 128.1h0M195.2 129.0h0M196.5 115.0h0M196.2 81.5h0M196.6 101.9h0M196.5 123.3h0M195.8 80.9h0M193.8 119.8h0M195.9 96.7h0M195.1 90.0h0M196.1 79.9h0M196.4 110.9h0M195.4 135.7h0M195.1 114.3h0M195.6 141.5h0M196.4 91.6h0M199.9 146.5h0M195.6 98.0h0M195.3 77.0h0M195.1 96.7h0M195.8 85.9h0M194.8 141.7h0M195.0 77.9h0M195.7 111.0h0M194.8 74.5h0M195.1 126.9h0M198.1 108.6h0M196.1 88.7h0M196.9 136.3h0M195.3 103.5h0M195.7 125.9h0M197.4 122.1h0M198.3 83.4h0M195.5 107.5h0M194.8 103.2h0M194.0 86.1h0M196.1 85.7h0M194.9 83.8h0M199.0 136.8h0M195.8 89.1h0M194.7 133.9h0M195.5 115.7h0M194.1 93.6h0M194.3 106.7h0M195.8 136.9h0M194.4 95.7h0M194.6 88.2h0M195.3 87.9h0M194.0 95.0h0M196.0 92.5h0M196.6 138.3h0M196.2 140.0h0M195.4 79.0h0M196.2 85.1h0M195.0 78.3h0M195.0 88.4h0M195.8 119.6h0M196.1 91.3h0M195.4 123.3h0M196.5 105.1h0M196.7 80.9h0M199.5 135.9h0M194.2 96.6h0M193.8 130.3h0M195.1 93.7h0M195.6 124.0h0M196.2 98.6h0M199.3 81.8h0M194.9 81.5h0M195.4 116.0h0M196.7 94.0h0M195.4 80.7h0M198.1 129.4h0M195.8 83.3h0M196.1 134.8h0M195.0 120.4h0M197.6 83.6h0M195.0 82.9h0M194.6 104.9h0M194.5 140.6h0M195.9 78.8h0M194.5 118.1h0M195.8 125.6h0M195.9 78.6h0M196.5 131.5h0M196.7 135.8h0M196.0 78.3h0M195.5 137.7h0M194.5 122.8h0M196.6 81.4h0M195.2 78.9h0M195.5 121.2h0M195.5 75.4h0M195.1 84.9h0M195.6 86.0h0M196.8 118.8h0M196.1 143.6h0M196.5 139.0h0M196.3 124.1h0M197.0 115.4h0M195.6 125.8h0M195.4 89.6h0M196.8 82.2h0M196.7 112.5h0M196.2 133.6h0M196.2 111.9h0M195.8 85.7h0M195.9 116.2h0M195.1 78.6h0M195.2 76.4h0M196.7 110.9h0M195.7 116.6h0M196.6 88.3h0M195.1 90.2h0M195.1 99.6h0M194.5 85.4h0M194.4 120.7h0M196.2 121.5h0M194.4 126.6h0M194.1 125.9h0M194.1 85.5h0M195.9 98.8h0M196.4 122.9h0M196.0 75.1h0M195.2 92.9h0M196.3 118.2h0M196.1 115.5h0M195.0 101.0h0M195.2 142.5h0M196.1 135.6h0M197.0 100.4h0M195.5 81.7h0M195.6 80.1h0M196.2 117.2h0M195.2 137.8h0M196.1 81.2h0M194.7 84.1h0M194.8 73.2h0M195.3 106.2h0M194.6 85.3h0M196.1 109.4h0M196.0 117.9h0M196.4 131.7h0M196.7 111.6h0M195.8 83.3h0M195.9 86.5h0M196.2 83.3h0M196.3 137.8h0M195.1 102.4h0M194.2 104.9h0M194.1 115.8h0M194.3 147.9h0M198.2 154.9h0M194.1 146.9h0M195.2 158.6h0M201.5 85.1h0M201.1 140.6h0M200.6 131.2h0M200.9 116.8h0M200.4 110.4h0M200.4 122.7h0M201.5 86.6h0M201.7 112.5h0M201.3 114.4h0M200.9 78.9h0M201.1 84.8h0M201.5 120.9h0M201.2 138.6h0M201.2 110.3h0M201.1 85.8h0M201.2 105.6h0M201.6 85.2h0M201.3 101.3h0M201.1 105.2h0M201.2 125.5h0M201.4 94.1h0M201.3 123.7h0M200.6 94.4h0M201.1 118.1h0M201.8 94.0h0M201.2 114.2h0M200.9 82.4h0M201.4 126.9h0M201.6 109.2h0M201.3 105.4h0M200.6 77.8h0M201.7 91.9h0M201.2 131.5h0M201.1 95.5h0M200.0 117.3h0M202.2 134.4h0M200.3 124.8h0M203.9 93.5h0M201.6 133.5h0M204.6 107.3h0M202.0 140.7h0M202.1 135.5h0M201.5 99.5h0M200.2 108.2h0M201.7 143.1h0M202.3 124.3h0M200.3 134.0h0M200.4 128.5h0M201.1 108.8h0M202.0 77.0h0M201.0 88.9h0M201.3 101.4h0M201.6 101.4h0M200.3 106.4h0M201.2 92.7h0M200.1 98.0h0M201.3 97.6h0M200.5 97.9h0M201.2 143.4h0M200.8 95.9h0M201.4 92.9h0M200.3 133.2h0M200.9 98.6h0M203.8 100.2h0M201.8 113.4h0M201.9 94.5h0M200.9 97.5h0M201.8 132.0h0M199.5 88.7h0M201.9 85.8h0M202.0 124.4h0M200.4 88.8h0M204.4 137.2h0M201.8 79.4h0M201.1 133.0h0M201.0 129.4h0M200.6 105.4h0M201.1 143.9h0M202.9 108.4h0M201.3 102.0h0M201.3 96.3h0M200.7 146.8h0M201.6 137.5h0M202.5 129.1h0M200.3 116.2h0M201.9 127.0h0M201.4 119.6h0M199.9 115.5h0M200.8 85.1h0M201.6 128.4h0M202.0 141.1h0M201.3 84.3h0M204.7 115.6h0M202.0 110.3h0M200.6 109.3h0M199.3 112.3h0M201.2 115.4h0M200.7 91.4h0M201.6 126.0h0M201.2 116.0h0M200.7 85.2h0M200.0 126.4h0M201.8 106.6h0M201.3 120.4h0M201.7 117.2h0M201.2 102.8h0M202.7 124.9h0M200.7 95.5h0M201.3 131.4h0M202.3 98.7h0M200.4 120.7h0M201.5 83.4h0M201.1 94.7h0M200.6 124.8h0M202.1 94.5h0M200.6 139.0h0M201.8 133.0h0M203.9 131.7h0M199.4 82.3h0M200.7 84.1h0M202.6 130.1h0M201.1 100.6h0M201.1 87.0h0M203.2 106.2h0M201.2 88.5h0M199.7 94.4h0M201.3 116.1h0M201.1 122.1h0M203.5 122.2h0M200.9 139.4h0M201.9 122.7h0M201.4 86.0h0M200.3 85.3h0M201.2 100.9h0M202.3 125.8h0M201.4 143.9h0M202.7 88.4h0M202.1 91.1h0M201.2 132.4h0M200.8 81.9h0M200.7 109.8h0M204.5 100.3h0M199.9 115.6h0M201.8 92.1h0M202.0 96.7h0M201.7 93.6h0M201.2 123.0h0M200.6 97.2h0M200.5 100.8h0M200.3 82.8h0M200.9 99.2h0M201.9 91.8h0M201.6 96.5h0M201.6 97.0h0M199.7 89.9h0M202.1 118.0h0M202.0 148.7h0M201.4 114.6h0M202.1 125.2h0M202.8 95.7h0M200.9 104.5h0M201.9 95.5h0M201.0 116.0h0M200.8 126.7h0M201.6 91.0h0M202.0 92.5h0M202.2 115.7h0M201.2 108.9h0M205.0 104.4h0M200.4 139.5h0M200.1 107.7h0M204.4 89.7h0M201.3 130.4h0M202.1 96.6h0M201.2 112.2h0M202.4 93.4h0M202.3 119.8h0M201.3 93.5h0M204.1 141.1h0M201.0 127.1h0M200.2 112.3h0M200.5 91.2h0M200.7 93.0h0M201.4 95.7h0M200.4 91.6h0M201.3 93.2h0M202.5 83.0h0M201.7 103.8h0M201.3 132.5h0M201.9 85.0h0M204.1 85.8h0M201.5 93.5h0M205.0 141.4h0M200.6 127.5h0M201.2 109.3h0M201.9 107.5h0M200.7 128.0h0M201.3 86.0h0M200.9 107.2h0M201.7 88.2h0M201.2 97.1h0M200.5 89.9h0M200.8 84.4h0M201.7 84.9h0M201.6 99.4h0M200.1 129.2h0M202.1 130.2h0M202.3 105.3h0M201.4 106.7h0M200.4 128.6h0M200.9 134.5h0M202.2 138.4h0M200.8 100.1h0M201.4 89.2h0M202.1 111.3h0M201.7 111.1h0M204.3 92.5h0M201.3 91.0h0M201.6 113.4h0M201.2 107.4h0M202.2 84.9h0M202.9 88.2h0M200.8 100.8h0M200.3 92.2h0M204.3 85.2h0M201.2 103.6h0M200.9 88.8h0M200.6 124.2h0M200.8 120.6h0M201.0 93.1h0M201.5 86.4h0M199.9 131.3h0M202.7 109.4h0M201.5 88.7h0M201.4 142.4h0M201.7 129.9h0M202.7 108.0h0M202.4 111.5h0M201.9 96.5h0M202.9 121.2h0M200.1 90.4h0M200.8 113.9h0M200.9 143.6h0M201.9 125.6h0M201.8 112.2h0M201.0 140.3h0M205.1 96.4h0M201.4 126.0h0M200.6 105.2h0M201.3 103.2h0M200.3 121.0h0M202.2 86.7h0M201.8 130.5h0M200.9 94.5h0M201.6 122.7h0M201.7 139.2h0M201.5 114.6h0M202.2 127.5h0M202.3 116.3h0M200.3 93.0h0M201.1 85.2h0M201.8 136.5h0M200.4 84.3h0M201.9 132.9h0M202.3 100.0h0M201.2 141.9h0M201.5 114.2h0M202.5 110.6h0M201.6 93.0h0M202.2 90.2h0M201.6 99.4h0M200.6 113.4h0M202.1 88.7h0M201.9 119.5h0M201.2 95.2h0M200.8 83.9h0M200.9 84.9h0M202.2 105.8h0M202.6 109.4h0M202.5 98.0h0M201.9 123.5h0M201.3 130.4h0M202.8 121.8h0M201.5 122.4h0M201.2 124.4h0M200.4 81.7h0M200.5 91.4h0M202.0 123.8h0M201.1 107.9h0M200.1 102.0h0M202.5 128.3h0M201.3 92.5h0M200.5 121.8h0M201.9 117.2h0M200.4 97.9h0M200.7 95.0h0M203.4 122.0h0M200.7 114.6h0M200.5 147.7h0M200.5 77.3h0M203.3 88.4h0M201.8 138.9h0M201.3 73.8h0M201.0 74.6h0M200.4 150.1h0M201.9 151.9h0M202.5 161.8h0M201.5 160.3h0M206.5 121.1h0M206.1 126.2h0M205.6 82.7h0M208.4 125.8h0M206.4 87.6h0M206.2 96.3h0M207.7 93.7h0M206.9 136.6h0M207.2 90.0h0M206.7 116.6h0M207.0 86.5h0M208.1 114.3h0M205.7 113.8h0M207.3 101.8h0M206.7 132.3h0M207.8 110.0h0M207.0 136.4h0M208.1 91.6h0M206.6 123.9h0M206.9 113.7h0M208.8 116.4h0M206.7 96.0h0M206.2 98.3h0M206.4 122.0h0M207.2 125.3h0M206.2 90.0h0M206.8 104.5h0M206.9 138.9h0M207.0 146.2h0M207.9 141.4h0M206.9 139.3h0M204.9 99.4h0M207.0 109.9h0M206.8 91.7h0M207.5 91.5h0M206.5 94.4h0M207.4 95.7h0M209.7 86.2h0M207.3 115.1h0M208.3 83.7h0M206.8 121.2h0M206.6 84.1h0M206.8 96.2h0M206.3 89.8h0M206.9 104.3h0M207.5 140.1h0M207.3 91.2h0M206.8 91.4h0M209.3 102.1h0M205.1 86.1h0M207.3 109.4h0M206.5 111.9h0M208.4 94.5h0M209.2 87.7h0M206.5 104.6h0M206.9 111.5h0M207.1 95.2h0M208.1 97.4h0M205.7 117.0h0M206.3 130.3h0M207.1 126.3h0M207.0 109.3h0M206.0 120.3h0M207.2 101.1h0M207.1 131.9h0M207.4 117.8h0M206.0 99.2h0M207.6 120.3h0M207.5 115.8h0M207.4 106.3h0M206.7 136.1h0M208.0 141.2h0M206.1 89.2h0M208.0 111.2h0M208.5 135.2h0M207.2 128.0h0M206.5 115.0h0M206.9 117.7h0M210.2 97.2h0M206.1 128.3h0M207.4 129.4h0M207.1 94.9h0M206.3 94.1h0M208.3 87.2h0M208.0 119.9h0M207.4 119.6h0M206.8 143.0h0M207.8 135.9h0M206.3 95.4h0M206.7 88.1h0M209.7 107.2h0M205.6 85.9h0M206.7 100.5h0M206.6 102.8h0M208.4 97.7h0M208.1 116.1h0M207.4 119.2h0M207.6 97.7h0M206.7 106.1h0M207.8 86.9h0M206.5 124.5h0M207.2 88.4h0M207.1 127.5h0M206.7 121.7h0M209.7 116.7h0M207.4 130.1h0M207.3 139.4h0M208.5 112.0h0M207.1 121.6h0M207.9 87.7h0M207.6 129.5h0M207.7 144.3h0M207.2 108.5h0M208.6 134.5h0M205.4 115.9h0M207.8 118.0h0M206.2 99.8h0M208.1 121.6h0M207.3 133.6h0M206.8 96.5h0M206.4 108.8h0M207.5 94.3h0M207.7 90.7h0M207.9 95.7h0M206.9 121.7h0M207.4 108.8h0M206.7 100.5h0M208.6 142.5h0M206.5 140.7h0M206.1 116.4h0M206.7 131.3h0M206.6 121.9h0M207.0 101.1h0M209.1 112.9h0M207.1 145.7h0M206.6 81.7h0M206.4 91.6h0M206.6 95.6h0M206.5 114.1h0M207.3 130.5h0M205.3 143.2h0M207.6 93.3h0M206.1 86.4h0M207.5 85.1h0M206.7 128.6h0M206.7 107.0h0M207.7 138.6h0M207.3 86.5h0M206.3 132.0h0M210.1 108.8h0M208.2 133.8h0M205.3 99.2h0M206.7 85.2h0M207.2 95.5h0M207.7 131.5h0M208.2 92.9h0M205.9 91.5h0M207.0 102.1h0M206.1 98.0h0M207.0 149.2h0M205.8 134.3h0M206.9 94.1h0M208.3 93.1h0M206.5 124.2h0M208.0 103.9h0M207.9 84.1h0M207.6 133.3h0M207.0 118.6h0M205.4 84.6h0M207.6 128.8h0M206.6 113.1h0M207.6 94.2h0M206.7 121.5h0M207.1 125.2h0M206.8 105.9h0M207.5 89.3h0M206.4 110.1h0M207.1 102.4h0M206.9 114.2h0M207.5 91.7h0M207.6 128.2h0M208.4 116.7h0M206.3 128.0h0M208.2 115.0h0M208.0 104.7h0M207.6 129.6h0M207.1 117.4h0M207.7 86.6h0M206.4 136.2h0M206.6 131.1h0M207.5 83.4h0M207.4 140.3h0M206.9 123.5h0M206.7 99.0h0M205.1 101.0h0M206.3 133.7h0M206.2 93.5h0M206.7 99.7h0M206.3 108.5h0M207.1 93.9h0M206.3 114.3h0M207.0 87.5h0M205.6 104.9h0M206.8 93.0h0M205.6 136.1h0M206.5 145.3h0M205.3 85.4h0M208.1 91.2h0M207.1 86.6h0M208.1 103.2h0M205.9 139.0h0M206.5 130.6h0M210.5 114.2h0M206.2 85.1h0M207.8 98.5h0M207.6 106.1h0M209.5 113.2h0M206.3 130.4h0M205.9 122.2h0M207.2 113.1h0M207.7 99.3h0M207.0 116.6h0M206.2 109.8h0M206.9 139.2h0M207.5 140.5h0M206.5 113.6h0M208.0 96.0h0M209.8 105.2h0M207.3 80.9h0M205.6 116.6h0M207.0 120.8h0M207.5 135.9h0M206.2 123.7h0M205.9 126.7h0M206.3 106.3h0M205.5 87.9h0M205.6 88.6h0M207.5 126.9h0M206.3 108.7h0M207.1 132.5h0M208.1 128.4h0M208.6 121.4h0M205.8 131.5h0M207.2 106.2h0M206.1 84.8h0M206.6 101.7h0M207.9 90.4h0M205.5 132.9h0M208.4 98.6h0M208.0 124.9h0M206.4 112.7h0M208.5 128.5h0M210.3 90.8h0M207.2 94.0h0M207.4 87.6h0M208.7 143.0h0M207.3 103.2h0M208.2 127.3h0M208.0 119.6h0M207.9 103.2h0M206.5 132.7h0M207.2 80.6h0M207.8 97.8h0M207.6 100.7h0M207.7 131.2h0M206.4 141.2h0M206.7 100.4h0M205.7 112.8h0M206.1 101.0h0M206.4 131.7h0M206.3 130.9h0M208.2 110.3h0M205.6 129.9h0M207.6 123.6h0M209.5 89.8h0M206.7 132.9h0M206.8 96.1h0M207.4 138.6h0M207.4 90.3h0M206.6 127.2h0M206.4 134.3h0M206.9 118.7h0M205.4 86.9h0M207.1 136.2h0M207.2 96.1h0M206.4 129.2h0M205.9 120.6h0M207.0 122.1h0M211.4 107.8h0M207.1 123.0h0M207.2 141.3h0M206.3 88.7h0M206.6 108.5h0M206.7 133.2h0M204.7 74.8h0M205.3 155.0h0M206.1 166.6h0M209.0 169.5h0M206.8 165.1h0M206.8 156.5h0M208.2 158.9h0M206.9 153.1h0M207.7 153.9h0M214.9 123.3h0M211.0 120.4h0M215.0 134.7h0M212.5 146.6h0M213.3 93.7h0M213.1 148.6h0M214.3 108.6h0M212.6 119.9h0M212.7 102.7h0M212.0 150.7h0M212.2 137.4h0M212.6 111.6h0M212.0 122.7h0M212.7 98.4h0M211.3 106.6h0M216.5 118.3h0M212.8 108.6h0M213.5 103.3h0M212.9 124.2h0M211.4 102.2h0M212.0 116.7h0M213.9 93.3h0M212.9 132.9h0M212.6 123.9h0M212.5 92.6h0M212.1 87.5h0M212.2 103.6h0M214.1 103.2h0M212.8 92.7h0M213.2 91.9h0M214.0 112.0h0M213.5 92.2h0M212.4 124.9h0M211.6 127.9h0M214.4 128.0h0M212.1 109.9h0M213.5 143.7h0M212.9 135.9h0M212.7 140.3h0M213.4 126.6h0M213.1 128.5h0M213.9 144.2h0M211.8 103.1h0M211.8 149.8h0M213.6 135.8h0M212.6 117.8h0M213.1 87.7h0M212.7 89.9h0M212.0 112.0h0M212.8 141.9h0M213.5 122.9h0M211.7 152.0h0M213.1 140.5h0M213.6 88.6h0M213.2 137.1h0M212.8 132.6h0M211.5 138.9h0M213.1 131.6h0M212.8 139.3h0M211.7 89.7h0M213.2 137.0h0M212.9 123.4h0M212.9 95.0h0M211.5 86.2h0M213.5 105.3h0M213.4 109.2h0M212.7 114.5h0M215.0 131.9h0M213.3 110.7h0M211.8 137.2h0M213.3 101.4h0M212.1 100.9h0M213.6 149.9h0M212.2 93.6h0M212.3 112.9h0M212.7 92.8h0M213.5 110.2h0M211.0 103.9h0M213.9 105.0h0M213.5 114.7h0M211.8 94.1h0M211.9 94.5h0M213.1 126.2h0M211.4 110.3h0M212.8 139.3h0M213.6 131.6h0M213.1 125.1h0M212.0 89.0h0M212.9 89.8h0M212.4 125.4h0M213.3 108.6h0M213.6 89.5h0M212.3 114.2h0M216.4 133.5h0M212.8 114.4h0M212.7 111.1h0M212.0 86.9h0M212.2 136.1h0M212.1 87.3h0M213.5 139.5h0M212.8 125.0h0M212.7 89.0h0M215.6 124.1h0M213.4 128.8h0M214.1 110.1h0M213.6 140.7h0M213.1 140.3h0M213.0 142.5h0M213.5 127.7h0M212.6 137.0h0M216.1 120.8h0M212.4 107.2h0M212.3 95.5h0M213.6 117.5h0M213.1 137.8h0M213.0 130.0h0M211.7 135.0h0M212.1 96.0h0M212.4 84.0h0M212.7 93.5h0M212.3 100.7h0M213.1 132.5h0M212.3 108.5h0M212.6 127.3h0M211.8 103.6h0M216.1 99.0h0M212.3 125.1h0M213.5 129.3h0M213.4 104.0h0M212.2 106.4h0M212.3 141.4h0M213.4 115.6h0M212.0 132.2h0M212.8 111.2h0M212.6 100.2h0M211.8 118.7h0M212.4 125.4h0M211.5 103.5h0M211.3 127.1h0M213.1 146.8h0M211.5 132.6h0M212.3 95.6h0M213.0 124.1h0M212.7 122.0h0M213.4 125.5h0M213.0 91.5h0M213.5 139.6h0M211.0 97.0h0M211.8 83.7h0M213.9 122.9h0M213.2 145.5h0M212.1 128.1h0M214.3 146.0h0M213.0 122.0h0M212.4 132.7h0M212.6 95.5h0M213.1 124.5h0M214.7 110.3h0M213.2 112.7h0M211.7 110.9h0M214.5 130.5h0M213.7 98.0h0M212.7 92.7h0M214.7 109.2h0M212.0 90.2h0M211.9 87.8h0M213.2 107.3h0M212.6 97.1h0M213.9 116.6h0M213.3 99.0h0M213.4 124.1h0M211.9 126.8h0M213.4 99.5h0M216.2 140.3h0M212.9 90.3h0M212.1 137.6h0M212.8 125.4h0M212.0 87.5h0M213.8 134.1h0M212.8 115.7h0M212.6 115.2h0M211.9 99.4h0M212.9 101.8h0M214.1 90.8h0M213.8 100.3h0M213.3 135.8h0M212.0 84.4h0M215.4 124.0h0M211.7 107.2h0M213.3 139.7h0M215.7 130.1h0M212.6 123.2h0M211.6 124.2h0M213.1 104.4h0M213.6 123.9h0M212.9 116.5h0M211.2 92.6h0M215.2 134.3h0M212.2 137.4h0M212.0 91.1h0M215.0 112.8h0M213.1 106.2h0M213.1 107.7h0M212.2 98.2h0M211.0 140.6h0M213.6 138.3h0M211.9 133.3h0M213.0 141.3h0M212.5 137.1h0M211.4 94.8h0M215.4 113.3h0M212.1 89.9h0M212.9 140.7h0M212.2 130.3h0M212.0 107.5h0M212.0 112.2h0M212.8 106.1h0M213.5 131.3h0M212.2 121.9h0M212.3 96.3h0M211.1 102.2h0M212.5 116.6h0M212.9 86.6h0M212.7 149.4h0M213.5 87.4h0M213.0 88.3h0M211.7 130.6h0M213.3 94.3h0M211.2 126.2h0M212.3 131.7h0M212.5 135.2h0M213.0 91.0h0M211.7 111.3h0M212.8 146.8h0M212.6 148.1h0M212.7 93.9h0M212.8 114.8h0M212.3 88.0h0M213.4 131.5h0M213.2 115.0h0M213.6 133.4h0M212.8 117.4h0M212.3 135.8h0M213.0 85.5h0M212.7 124.3h0M211.7 95.0h0M212.8 135.8h0M210.4 83.9h0M212.7 140.5h0M214.2 126.2h0M213.3 136.7h0M210.9 120.7h0M211.8 90.2h0M212.6 115.6h0M210.8 112.8h0M211.9 113.1h0M211.8 128.8h0M212.3 119.7h0M214.2 121.9h0M212.2 117.1h0M211.4 128.7h0M212.6 117.4h0M211.9 96.5h0M212.2 90.6h0M212.2 111.8h0M213.3 86.8h0M211.5 146.0h0M213.5 125.1h0M211.9 110.0h0M212.3 141.6h0M215.5 151.2h0M211.4 128.9h0M212.9 150.0h0M212.4 98.3h0M214.2 88.7h0M212.6 93.4h0M212.1 105.6h0M212.6 127.7h0M213.8 119.7h0M213.9 114.2h0M212.5 99.1h0M213.7 114.9h0M213.1 89.9h0M211.9 78.6h0M212.0 169.4h0M213.4 171.2h0M213.5 158.7h0M213.0 168.2h0M218.2 126.7h0M217.0 104.9h0M218.4 148.8h0M217.3 104.1h0M219.3 124.0h0M221.2 98.8h0M218.0 121.2h0M218.9 97.1h0M218.8 99.7h0M217.8 146.0h0M218.8 126.0h0M217.0 138.7h0M218.0 139.7h0M217.4 106.9h0M218.3 93.5h0M218.0 121.1h0M218.7 104.0h0M217.7 98.6h0M218.1 122.5h0M219.2 92.7h0M218.3 114.0h0M219.2 132.1h0M216.9 130.3h0M218.3 133.9h0M219.7 122.4h0M220.0 141.7h0M218.0 108.5h0M218.4 110.0h0M218.1 139.5h0M218.8 137.9h0M218.5 118.7h0M218.3 109.9h0M218.8 117.5h0M217.8 99.2h0M219.3 145.3h0M217.7 95.6h0M218.8 87.3h0M220.1 118.9h0M218.3 90.0h0M219.2 102.3h0M217.0 98.0h0M218.3 120.9h0M218.6 137.4h0M217.8 110.5h0M218.6 131.7h0M219.0 104.8h0M218.2 109.9h0M217.8 146.3h0M218.3 133.5h0M219.5 99.6h0M218.9 90.2h0M219.5 119.2h0M217.7 98.8h0M218.1 110.6h0M218.6 110.6h0M221.2 110.3h0M219.6 130.2h0M217.3 90.5h0M218.6 117.1h0M218.7 110.3h0M218.4 107.3h0M218.7 149.9h0M219.9 103.5h0M218.5 150.2h0M218.9 104.6h0M219.0 152.1h0M219.6 125.2h0M218.4 105.8h0M217.9 130.4h0M217.5 112.4h0M217.9 108.8h0M218.0 91.0h0M218.1 107.0h0M218.7 94.7h0M219.5 113.8h0M218.3 109.0h0M220.0 98.4h0M219.3 95.4h0M221.7 112.6h0M217.9 135.2h0M217.7 91.0h0M219.0 91.2h0M217.7 96.5h0M218.4 108.8h0M217.4 109.3h0M219.2 134.2h0M219.2 109.9h0M218.3 140.4h0M218.1 150.1h0M219.2 109.8h0M218.7 103.3h0M217.7 147.6h0M218.9 102.3h0M217.6 139.1h0M217.3 119.5h0M218.8 103.3h0M218.5 106.6h0M217.9 110.9h0M218.9 118.9h0M217.9 91.6h0M218.1 106.0h0M218.4 142.5h0M216.8 110.6h0M218.7 119.2h0M218.8 103.3h0M218.3 112.8h0M216.7 131.3h0M217.9 149.6h0M218.0 126.5h0M218.6 110.2h0M218.7 103.8h0M218.8 110.7h0M219.6 96.0h0M217.7 124.9h0M218.1 135.2h0M218.8 96.4h0M217.9 121.9h0M218.2 89.4h0M216.1 106.6h0M218.7 94.6h0M219.5 123.5h0M218.9 135.3h0M219.0 102.8h0M218.5 95.3h0M217.2 115.5h0M217.3 99.1h0M217.5 143.5h0M218.6 121.8h0M218.4 107.8h0M218.0 132.3h0M218.6 116.4h0M218.0 135.4h0M218.8 132.8h0M221.4 148.3h0M220.8 106.7h0M218.7 153.0h0M216.4 122.3h0M217.9 138.0h0M217.7 101.8h0M218.2 120.5h0M221.2 137.1h0M217.0 126.4h0M219.2 101.0h0M217.1 110.8h0M218.4 101.6h0M218.0 112.1h0M219.1 138.5h0M218.1 91.8h0M216.6 134.1h0M218.6 103.6h0M219.7 98.0h0M217.4 132.6h0M218.7 128.5h0M217.5 128.6h0M219.7 115.7h0M217.8 97.6h0M217.5 92.8h0M217.1 141.0h0M218.3 137.4h0M217.6 131.7h0M220.2 102.9h0M218.3 92.5h0M218.5 96.9h0M218.5 95.5h0M218.6 146.7h0M219.3 99.4h0M217.5 103.2h0M218.9 144.7h0M217.2 90.1h0M218.8 124.1h0M218.6 125.4h0M218.8 139.4h0M219.3 123.2h0M218.4 112.2h0M217.5 137.4h0M217.7 148.7h0M219.6 118.0h0M218.0 136.9h0M218.0 132.7h0M219.0 148.0h0M218.4 111.6h0M217.6 104.1h0M218.3 97.2h0M218.4 111.8h0M218.2 99.5h0M219.8 133.9h0M219.5 123.8h0M217.5 96.5h0M218.3 109.0h0M219.4 139.8h0M217.7 93.0h0M218.4 129.0h0M218.7 89.4h0M217.1 122.7h0M217.9 148.0h0M218.2 133.4h0M220.1 95.7h0M219.1 124.5h0M220.1 95.0h0M219.0 100.7h0M218.5 127.5h0M218.9 131.6h0M218.6 119.0h0M219.3 114.2h0M218.9 112.9h0M218.9 142.4h0M216.8 93.8h0M218.4 149.1h0M219.1 100.2h0M219.7 103.5h0M217.6 127.7h0M218.4 110.8h0M221.1 95.3h0M217.8 126.6h0M217.2 137.9h0M217.4 144.4h0M218.4 134.2h0M219.3 94.0h0M219.6 106.9h0M218.5 101.7h0M218.6 100.6h0M218.8 104.6h0M218.7 131.5h0M218.4 91.8h0M218.0 121.6h0M218.4 133.0h0M218.2 113.0h0M220.9 116.1h0M219.7 90.1h0M219.1 111.8h0M217.4 109.4h0M217.1 118.8h0M219.2 119.9h0M218.4 131.6h0M217.7 95.2h0M219.1 94.8h0M217.8 84.4h0M217.5 164.0h0M219.5 166.2h0M217.1 159.5h0M217.9 164.5h0M218.4 164.9h0M220.3 173.3h0M223.5 125.3h0M224.9 120.4h0M224.6 94.4h0M224.2 101.1h0M224.8 97.1h0M224.2 104.6h0M224.3 98.4h0M225.5 99.7h0M224.1 111.6h0M223.4 93.8h0M224.1 111.9h0M225.7 109.7h0M224.7 124.6h0M225.4 115.8h0M225.2 116.4h0M224.2 114.1h0M224.6 119.2h0M225.2 113.1h0M224.2 119.6h0M224.2 97.3h0M224.8 99.3h0M223.4 97.9h0M223.8 100.9h0M223.9 110.9h0M224.0 103.1h0M224.4 114.8h0M223.7 114.6h0M221.9 132.8h0M224.4 126.2h0M224.5 141.6h0M223.7 99.4h0M224.0 115.0h0M224.9 101.5h0M225.6 157.1h0M226.6 101.0h0M223.4 143.4h0M225.7 108.1h0M224.0 113.3h0M224.9 98.4h0M223.9 100.0h0M224.1 139.3h0M227.6 132.2h0M222.9 92.4h0M224.8 116.5h0M224.8 99.7h0M223.9 131.4h0M224.0 139.3h0M224.5 102.2h0M225.2 109.8h0M224.4 109.7h0M224.2 120.8h0M224.7 98.9h0M224.1 109.2h0M223.6 94.1h0M224.2 108.8h0M225.1 104.8h0M223.8 98.8h0M224.6 118.7h0M224.1 125.8h0M223.8 115.3h0M225.7 99.4h0M225.6 129.7h0M223.8 100.5h0M223.1 143.7h0M225.2 135.6h0M224.4 103.9h0M224.4 94.8h0M224.0 130.6h0M224.4 142.9h0M224.9 98.0h0M224.8 124.9h0M223.9 138.9h0M225.7 118.6h0M223.6 134.7h0M223.6 105.1h0M224.1 117.8h0M224.0 125.4h0M224.4 108.8h0M223.1 115.3h0M224.7 139.2h0M222.5 143.1h0M222.6 140.2h0M223.7 126.5h0M225.0 146.6h0M224.0 113.4h0M226.6 139.4h0M224.6 144.3h0M224.8 110.9h0M224.7 105.5h0M224.3 109.5h0M223.3 113.5h0M224.9 153.7h0M222.4 117.6h0M224.3 95.0h0M224.3 116.0h0M225.0 122.7h0M225.2 153.2h0M223.9 110.9h0M224.7 147.3h0M224.2 149.9h0M223.2 124.9h0M225.1 109.6h0M224.4 149.2h0M222.9 134.4h0M223.8 122.8h0M224.3 131.6h0M224.1 110.3h0M224.7 101.2h0M224.9 130.8h0M224.0 125.7h0M222.7 116.4h0M224.8 125.9h0M224.2 135.3h0M223.2 138.9h0M223.7 150.3h0M222.1 91.7h0M223.6 121.3h0M225.2 142.4h0M223.9 152.1h0M224.9 114.0h0M224.4 151.1h0M224.4 107.8h0M224.0 104.5h0M224.4 141.4h0M224.9 130.3h0M223.9 130.2h0M229.2 159.6h0M224.5 109.8h0M224.2 122.2h0M223.7 107.8h0M225.5 108.8h0M227.5 128.2h0M223.8 151.0h0M224.9 123.1h0M223.9 128.1h0M224.5 133.1h0M224.9 128.2h0M224.8 111.4h0M224.1 149.0h0M225.0 125.0h0M223.9 113.0h0M224.9 136.7h0M224.8 123.8h0M222.0 109.7h0M223.8 109.4h0M224.0 113.9h0M223.5 147.7h0M224.8 131.7h0M224.7 117.2h0M226.6 132.5h0M227.4 103.6h0M223.2 98.9h0M224.8 137.0h0M225.5 118.9h0M224.2 106.1h0M223.5 104.0h0M224.3 102.4h0M223.0 102.0h0M223.4 117.2h0M225.5 122.2h0M223.6 135.1h0M224.9 99.7h0M223.8 104.9h0M223.3 150.3h0M224.2 112.1h0M223.2 105.8h0M223.1 142.0h0M223.7 139.9h0M223.0 107.0h0M224.6 141.6h0M224.2 109.1h0M224.5 148.1h0M224.2 140.6h0M225.5 124.5h0M223.1 140.9h0M226.0 113.7h0M227.9 141.4h0M223.3 102.5h0M223.8 121.5h0M224.6 115.8h0M224.2 151.4h0M224.0 126.7h0M224.9 119.9h0M224.4 113.2h0M224.0 127.6h0M225.6 127.3h0M226.0 103.0h0M223.9 145.6h0M224.0 140.2h0M224.8 123.0h0M224.2 99.4h0M224.2 142.7h0M224.0 128.4h0M224.9 152.1h0M224.5 99.0h0M225.7 155.2h0M224.5 104.8h0M223.5 101.4h0M225.0 98.8h0M224.3 123.3h0M223.5 127.1h0M223.7 98.5h0M222.7 104.9h0M223.5 127.4h0M224.7 143.7h0M225.0 109.9h0M225.5 117.7h0M224.9 95.5h0M223.7 122.0h0M224.1 137.8h0M224.4 150.9h0M224.2 123.4h0M223.1 90.2h0M223.8 89.0h0M224.4 89.6h0M223.5 160.9h0M223.5 162.5h0M225.8 167.2h0M224.9 169.8h0M230.3 135.2h0M228.9 114.2h0M230.8 130.2h0M230.0 135.6h0M228.6 125.0h0M228.9 140.1h0M229.5 124.5h0M231.9 150.3h0M229.9 103.8h0M229.4 129.2h0M230.6 140.3h0M230.4 105.0h0M230.0 118.4h0M230.1 119.4h0M229.8 113.3h0M232.1 98.0h0M230.4 142.8h0M230.7 126.9h0M230.8 110.7h0M229.4 102.7h0M230.0 145.4h0M228.5 133.7h0M228.6 129.1h0M229.4 139.8h0M228.6 141.0h0M230.2 147.0h0M228.7 139.4h0M229.0 113.8h0M230.6 106.9h0M230.7 124.9h0M230.2 102.7h0M230.2 113.9h0M229.8 143.9h0M230.2 115.0h0M229.0 121.0h0M230.6 106.0h0M229.8 107.9h0M229.8 147.7h0M229.5 117.3h0M231.3 104.2h0M229.3 105.1h0M230.5 122.7h0M228.7 141.1h0M230.0 126.2h0M230.2 131.7h0M233.0 116.0h0M229.6 99.3h0M229.8 103.6h0M230.6 107.7h0M229.7 125.0h0M229.7 111.9h0M230.5 114.3h0M228.9 111.1h0M229.0 125.1h0M230.2 138.1h0M232.1 110.1h0M230.2 128.2h0M230.6 100.1h0M230.8 141.0h0M230.1 134.6h0M229.6 133.1h0M229.4 154.9h0M229.5 113.6h0M230.3 127.8h0M231.2 146.9h0M229.1 105.4h0M230.2 147.3h0M230.5 103.2h0M228.9 138.8h0M230.5 135.4h0M229.8 136.1h0M229.8 147.4h0M229.8 108.1h0M228.0 97.2h0M230.0 122.5h0M229.2 116.5h0M229.5 111.6h0M230.6 106.3h0M231.8 141.3h0M229.3 139.6h0M229.3 121.9h0M229.5 132.9h0M227.9 133.4h0M230.4 116.0h0M230.3 110.5h0M229.3 113.8h0M229.4 139.5h0M231.4 136.2h0M229.9 116.8h0M229.6 119.8h0M230.1 114.8h0M230.4 116.7h0M228.6 149.6h0M230.1 131.4h0M229.2 122.9h0M229.6 146.4h0M230.3 133.1h0M228.9 134.0h0M228.5 109.7h0M230.1 139.5h0M230.5 118.8h0M227.9 147.6h0M229.4 133.9h0M229.2 107.3h0M230.3 111.9h0M230.0 143.8h0M231.1 127.6h0M230.3 99.8h0M230.1 134.7h0M230.7 123.4h0M229.9 135.0h0M228.9 123.8h0M229.4 130.8h0M229.8 159.3h0M229.3 132.9h0M229.6 103.2h0M230.1 132.0h0M228.8 149.1h0M229.8 104.3h0M230.3 160.8h0M230.9 123.6h0M229.7 121.0h0M230.4 156.1h0M228.4 115.9h0M230.2 107.1h0M230.0 105.5h0M230.2 114.5h0M229.8 142.3h0M229.7 121.5h0M231.0 139.8h0M228.8 105.8h0M230.0 130.1h0M228.2 146.8h0M229.7 105.1h0M229.8 137.7h0M230.3 143.0h0M230.5 125.1h0M229.8 141.3h0M229.6 138.0h0M230.8 124.9h0M230.3 140.2h0M228.6 93.0h0M229.8 179.8h0M230.2 170.5h0M230.2 177.6h0M230.9 168.9h0M229.9 183.3h0M230.7 179.2h0M235.3 128.3h0M237.1 120.1h0M235.9 111.4h0M234.1 137.8h0M236.1 148.6h0M235.2 106.6h0M234.6 112.3h0M236.3 110.3h0M235.0 122.4h0M235.4 117.0h0M235.3 138.1h0M234.3 130.7h0M237.4 127.2h0M237.5 124.3h0M236.7 132.6h0M235.2 136.7h0M235.8 131.8h0M236.5 124.4h0M235.1 144.7h0M235.8 126.0h0M233.8 113.7h0M235.8 153.7h0M234.8 120.2h0M234.9 122.2h0M235.5 122.9h0M234.5 137.1h0M235.5 121.6h0M238.9 123.4h0M235.3 106.5h0M235.4 112.3h0M235.0 126.7h0M236.4 158.4h0M235.7 137.6h0M235.6 117.3h0M235.5 117.9h0M235.9 149.4h0M234.6 143.3h0M236.2 108.2h0M234.6 139.7h0M235.0 115.7h0M234.5 101.3h0M236.9 115.9h0M235.5 137.8h0M235.2 120.4h0M235.7 130.8h0M235.9 141.3h0M234.8 149.8h0M236.8 114.5h0M235.4 128.6h0M234.9 147.8h0M234.7 153.0h0M235.3 143.4h0M236.6 134.3h0M236.2 147.5h0M235.8 145.6h0M235.3 149.9h0M236.1 103.3h0M235.9 118.6h0M234.6 131.6h0M237.3 124.3h0M235.3 111.5h0M236.7 104.3h0M235.3 105.5h0M235.8 154.1h0M234.4 104.9h0M237.0 110.3h0M235.9 115.4h0M234.9 114.2h0M233.5 116.1h0M233.8 156.1h0M235.5 107.9h0M235.0 117.5h0M235.8 120.2h0M234.8 108.6h0M235.6 107.3h0M235.3 116.3h0M234.1 135.1h0M235.6 137.5h0M236.0 128.7h0M235.2 150.5h0M236.5 147.6h0M236.4 121.4h0M235.1 126.4h0M235.4 115.0h0M236.9 130.9h0M235.9 101.7h0M234.7 135.7h0M235.3 113.7h0M234.9 107.1h0M235.2 139.8h0M233.7 130.0h0M236.6 135.9h0M235.1 132.7h0M235.9 149.1h0M236.9 108.1h0M235.4 113.5h0M236.6 130.2h0M238.7 142.7h0M237.1 122.0h0M234.8 118.7h0M235.8 128.4h0M233.6 124.5h0M236.6 145.8h0M234.9 108.9h0M234.8 147.0h0M235.5 106.3h0M236.8 144.3h0M235.9 109.1h0M236.8 133.6h0M235.8 107.0h0M235.9 145.3h0M235.3 105.6h0M236.6 128.3h0M235.9 109.1h0M235.5 113.6h0M235.2 123.0h0M236.4 135.1h0M235.2 147.9h0M235.9 114.4h0M234.9 121.4h0M236.3 99.4h0M236.1 95.0h0M235.0 90.3h0M236.2 182.5h0M233.6 167.1h0M240.8 140.6h0M240.6 122.1h0M241.8 136.4h0M245.1 117.1h0M240.7 145.9h0M241.0 137.0h0M240.4 130.9h0M240.6 129.4h0M240.6 113.0h0M240.9 149.2h0M242.5 155.1h0M242.4 132.7h0M239.5 116.6h0M240.1 106.6h0M240.8 128.7h0M242.3 118.0h0M240.4 133.2h0M240.5 127.3h0M241.9 138.2h0M241.7 143.6h0M241.4 120.1h0M240.7 143.3h0M241.3 113.4h0M241.6 110.8h0M240.7 126.8h0M241.2 123.2h0M240.1 146.7h0M241.2 123.6h0M240.8 133.3h0M243.3 123.6h0M241.8 157.3h0M241.0 112.1h0M240.6 137.5h0M240.8 125.5h0M240.9 140.6h0M241.3 129.1h0M240.8 104.9h0M241.6 130.8h0M241.7 165.9h0M241.2 130.3h0M240.4 141.7h0M240.4 141.6h0M241.0 147.6h0M240.9 125.3h0M242.7 132.0h0M240.8 138.2h0M242.1 127.8h0M240.2 142.3h0M240.1 117.6h0M241.2 111.2h0M239.9 145.5h0M241.3 141.1h0M241.3 142.3h0M240.7 119.3h0M241.8 150.7h0M241.9 118.0h0M240.1 143.1h0M242.3 108.9h0M240.7 131.4h0M242.3 128.2h0M240.5 160.0h0M241.9 122.3h0M240.9 127.5h0M242.1 127.5h0M241.9 142.9h0M240.7 146.7h0M241.6 107.4h0M240.7 148.0h0M242.1 123.2h0M241.1 118.2h0M240.1 101.2h0M241.0 183.8h0M241.2 190.5h0M240.2 176.4h0M240.6 189.6h0M242.2 188.8h0M241.8 190.3h0M240.7 169.5h0M241.2 174.5h0M246.7 149.7h0M246.7 117.8h0M246.0 143.3h0M247.2 137.4h0M247.8 152.9h0M247.8 141.7h0M246.8 126.7h0M248.1 138.3h0M246.8 121.0h0M246.8 127.6h0M247.1 120.3h0M247.3 116.3h0M247.6 121.4h0M246.7 118.2h0M248.2 152.8h0M246.3 122.3h0M248.2 134.4h0M248.2 157.3h0M247.6 127.5h0M246.5 117.5h0M246.1 137.6h0M246.6 143.5h0M246.7 117.1h0M246.7 140.9h0M246.9 150.3h0M246.4 121.2h0M247.7 124.4h0M247.3 157.1h0M247.1 161.8h0M246.8 138.0h0M247.5 151.5h0M245.9 132.9h0M245.7 117.7h0M246.0 118.8h0M245.6 158.5h0M246.4 146.1h0M245.7 157.3h0M245.7 128.8h0M246.2 122.1h0M246.2 119.3h0M246.8 151.1h0M245.8 149.3h0M246.8 125.2h0M246.3 98.4h0M247.8 105.6h0M247.4 188.3h0M246.9 180.8h0M246.3 170.3h0M248.3 190.8h0M252.9 154.0h0M253.5 130.9h0M252.5 164.6h0M252.8 137.3h0M253.2 142.9h0M251.7 127.1h0M252.6 119.9h0M252.9 132.5h0M253.2 120.6h0M252.1 146.7h0M252.2 166.8h0M254.9 161.8h0M251.3 132.5h0M253.1 136.8h0M253.0 130.2h0M252.8 153.8h0M252.2 142.5h0M250.9 135.9h0M252.6 145.5h0M251.5 148.4h0M251.2 121.2h0M253.3 135.3h0M252.8 120.4h0M251.8 147.0h0M253.8 119.0h0M253.3 119.3h0M252.3 130.5h0M251.9 116.4h0M253.1 130.1h0M252.2 137.3h0M252.0 140.0h0M251.5 137.8h0M252.5 158.1h0M253.5 146.1h0M253.1 172.5h0M252.4 177.4h0M257.9 131.6h0M259.0 131.0h0M257.8 159.6h0M257.2 149.2h0M257.6 129.6h0M259.5 137.1h0M257.8 154.3h0M261.0 124.0h0M256.8 132.1h0M258.4 147.7h0M258.9 131.6h0M258.8 157.2h0M259.2 146.4h0M258.2 122.0h0M257.8 141.6h0M258.7 134.4h0M260.9 143.0h0M258.7 155.7h0M257.6 165.9h0M258.8 133.7h0M259.3 124.0h0M257.9 126.3h0M258.1 155.9h0M258.2 134.8h0M259.0 162.4h0M257.8 128.8h0M257.1 126.9h0M258.4 109.3h0M257.9 115.9h0M257.7 198.4h0M258.4 174.7h0M263.9 130.7h0M263.9 148.1h0M264.3 146.2h0M264.1 142.4h0M264.0 139.5h0M262.9 169.3h0M264.1 128.7h0M264.7 140.9h0M264.8 153.5h0M264.2 163.0h0M263.8 169.6h0M265.0 154.2h0M264.6 172.6h0M263.2 164.6h0M263.9 157.5h0M264.0 142.8h0M264.7 149.6h0M264.1 161.2h0M265.0 139.6h0M266.0 148.6h0M262.6 180.9h0M269.1 145.9h0M268.4 140.1h0M271.3 156.3h0M270.2 139.4h0M269.8 148.1h0M270.0 160.7h0M270.0 137.3h0M270.4 115.6h0M269.8 178.8h0M270.5 188.7h0M269.6 199.9h0M274.2 159.6h0M276.2 155.8h0M276.0 167.3h0M275.4 141.5h0M276.4 142.7h0M274.6 160.4h0M276.8 148.2h0M276.2 183.0h0M275.0 192.1h0M274.3 184.6h0M275.8 196.7h0M275.6 182.7h0M282.0 142.5h0M279.9 160.6h0M282.9 172.4h0M281.0 172.3h0M281.8 153.8h0M281.1 162.9h0M281.4 156.9h0M281.0 170.4h0M281.5 154.3h0M280.2 171.2h0M281.4 141.9h0M280.5 155.6h0M280.6 158.9h0M279.5 171.7h0M281.3 135.9h0M282.3 148.4h0M280.0 189.1h0M281.4 184.5h0M281.4 189.1h0M280.9 195.0h0M281.1 204.0h0M286.5 154.2h0M286.9 160.9h0M285.7 157.5h0M287.5 140.7h0M287.9 144.7h0M287.8 144.0h0M286.1 153.6h0M286.8 141.5h0M287.8 144.7h0M286.7 146.7h0M286.1 151.4h0M285.4 168.5h0M286.9 151.4h0M286.8 125.2h0M286.4 195.1h0M285.6 188.4h0M292.0 156.1h0M293.9 150.7h0M292.4 175.7h0M291.2 159.4h0M293.2 128.1h0M292.8 193.2h0M292.2 209.0h0M292.3 216.5h0M294.5 219.6h0M292.3 218.6h0M291.8 201.1h0M297.3 145.0h0M297.2 160.6h0M297.6 174.1h0M298.6 180.0h0M298.2 156.2h0M298.6 207.9h0M299.4 209.2h0M303.9 171.8h0M303.9 170.9h0M305.9 163.6h0M303.7 190.1h0M305.0 165.6h0M303.7 207.7h0M309.5 184.6h0M310.1 160.7h0M309.0 167.9h0M308.8 164.7h0M309.3 160.6h0M310.1 185.9h0M310.6 173.6h0M310.1 161.9h0M310.5 166.0h0M309.6 212.1h0M314.0 155.5h0M314.3 165.4h0M314.5 181.6h0M314.9 161.2h0M314.5 167.0h0M315.7 136.2h0M316.1 148.0h0M320.4 172.0h0M321.4 158.9h0M320.2 168.0h0M321.4 175.1h0M321.5 187.4h0M319.5 191.4h0M321.3 212.5h0M327.0 189.6h0M326.6 185.5h0M327.3 191.4h0M326.7 157.2h0M325.8 227.4h0M333.0 204.0h0M338.6 196.6h0M339.0 188.9h0M340.1 227.4h0M147.2 220.3h0M159.0 208.2h0M192.5 197.3h0M202.7 205.3h0M207.1 219.6h0M197.3 229.2h0M201.4 227.0h0M195.7 235.6h0M209.4 237.8h0M208.4 242.9h0M216.4 225.4h0M218.0 193.2h0M234.6 229.2h0M240.3 199.6h0M247.3 199.9h0M267.4 215.8h0M273.2 196.4h0M277.9 195.7h0M301.5 207.5h0M304.1 229.2h0M304.7 195.7h0M315.2 197.3h0M315.2 202.1h0M337.6 237.8h0M115.3 23.3h0M98.0 25.8h0M98.7 27.8h0M66.1 33.9h0M66.1 37.7h0M71.2 32.9h0M71.2 46.6h0M77.0 39.0h0M77.0 42.8h0M77.0 45.0h0M77.0 49.4h0M82.7 34.8h0M82.7 38.6h0M86.6 41.1h0M87.8 48.2h0M87.8 52.0h0M82.9 59.0h0M120.4 29.3h0M126.7 34.1h0M129.3 36.0h0M164.0 33.2h0M164.0 35.2h0M164.0 46.1h0M164.0 48.1h0M139.7 35.1h0M213.5 67.8h0M241.6 88.7h0M185.8 59.5h0M223.4 260.0h0M148.2 150.5h0M159.6 161.7h0M159.6 167.0h0M159.6 170.2h0M148.8 166.3h0M153.6 168.7h0M168.3 170.4h0M169.9 179.7h0M175.3 179.3h0M174.5 185.7h0M175.3 188.9h0M175.3 192.2h0M166.9 190.1h0M178.5 165.4h0M181.2 165.0h0M185.3 177.9h0M187.2 172.3h0M189.3 176.7h0M196.1 183.3h0M197.5 188.7h0M197.5 194.3h0M200.2 199.3h0M208.3 182.6h0M212.3 180.7h0M208.3 174.3h0M212.3 175.3h0M186.6 163.4h0M196.1 168.2h0M138.7 166.7h0" stroke="#0000ff" stroke-width="3.2" stroke-linecap="round" fill="none"/>
<path d="M513.3 88.5h0M512.6 91.2h0M512.4 109.3h0M511.6 119.0h0M510.8 110.4h0M511.1 92.6h0M511.8 131.1h0M512.6 106.9h0M513.5 107.0h0M512.4 120.6h0M512.4 123.0h0M513.4 125.5h0M512.5 88.1h0M512.0 89.8h0M513.5 95.3h0M513.3 105.6h0M511.9 88.6h0M512.1 102.6h0M513.6 113.5h0M512.3 103.0h0M511.9 100.6h0M512.0 121.0h0M512.8 99.4h0M511.4 125.8h0M512.0 100.4h0M513.1 114.0h0M512.5 121.1h0M512.9 88.4h0M512.4 105.2h0M511.5 94.7h0M512.1 114.2h0M512.5 99.6h0M512.1 115.7h0M512.3 98.2h0M512.5 106.7h0M513.0 86.7h0M512.1 85.4h0M513.2 94.7h0M512.4 79.2h0M517.7 88.2h0M519.3 116.9h0M517.4 91.3h0M517.8 86.6h0M518.0 103.8h0M518.4 101.8h0M518.1 98.9h0M518.1 89.9h0M519.6 126.8h0M518.2 99.5h0M518.5 114.6h0M517.1 110.3h0M518.7 89.5h0M516.8 115.0h0M517.6 123.7h0M519.9 117.4h0M517.6 103.5h0M518.1 128.4h0M517.3 128.4h0M517.3 85.2h0M519.0 101.2h0M517.8 114.8h0M518.1 92.5h0M517.9 98.2h0M517.0 93.5h0M518.0 120.9h0M519.0 94.1h0M517.6 128.7h0M518.5 91.2h0M519.0 92.5h0M517.2 100.0h0M518.8 93.5h0M516.7 95.5h0M518.6 114.7h0M517.9 105.5h0M517.3 105.2h0M518.0 84.5h0M517.7 96.0h0M516.9 84.4h0M518.9 129.2h0M519.0 103.7h0M517.4 93.9h0M517.8 84.8h0M517.8 92.9h0M517.9 109.3h0M517.2 118.2h0M518.9 95.7h0M518.2 78.1h0M517.4 62.7h0M517.8 75.2h0M517.6 63.9h0M518.0 142.9h0M524.6 91.0h0M523.5 95.3h0M525.6 103.4h0M523.9 98.2h0M525.1 103.1h0M523.1 127.0h0M524.2 120.5h0M522.6 111.2h0M524.4 84.8h0M523.7 108.4h0M524.3 119.3h0M524.2 126.2h0M523.6 88.4h0M524.7 109.7h0M523.3 110.6h0M523.7 105.3h0M522.6 91.8h0M523.6 94.1h0M524.6 111.4h0M524.4 97.1h0M523.7 99.5h0M524.8 99.9h0M524.4 109.5h0M525.4 100.3h0M524.3 119.7h0M522.3 91.7h0M523.7 126.3h0M524.4 98.7h0M522.5 92.0h0M523.3 117.4h0M523.4 111.8h0M522.0 99.6h0M524.1 129.8h0M525.4 128.3h0M522.4 90.5h0M522.9 101.0h0M523.9 102.1h0M524.1 84.9h0M524.1 119.2h0M523.6 88.2h0M523.4 98.1h0M522.5 101.6h0M525.3 107.4h0M524.9 94.7h0M523.3 92.7h0M523.8 133.4h0M523.6 127.0h0M523.5 97.2h0M523.0 113.8h0M525.6 90.9h0M523.7 96.9h0M524.4 87.3h0M523.7 101.6h0M524.1 100.4h0M525.1 86.4h0M523.9 92.6h0M525.0 93.7h0M523.3 94.6h0M524.4 114.8h0M525.0 121.4h0M524.4 86.5h0M523.3 120.8h0M523.1 121.8h0M523.6 82.7h0M523.3 73.6h0M524.1 72.7h0M523.7 75.4h0M523.3 144.3h0M528.9 131.3h0M529.8 91.6h0M529.1 96.9h0M531.5 125.6h0M529.6 122.4h0M530.0 91.1h0M528.7 119.4h0M528.8 128.3h0M529.6 95.2h0M528.9 121.2h0M529.4 103.0h0M530.4 117.9h0M528.9 102.2h0M528.8 94.6h0M529.6 124.0h0M529.2 78.8h0M529.9 106.7h0M529.3 94.9h0M528.6 119.1h0M527.8 118.8h0M529.7 112.2h0M528.9 94.5h0M529.5 82.3h0M528.1 99.3h0M528.9 118.6h0M529.7 96.6h0M530.2 100.4h0M530.3 123.6h0M530.4 98.9h0M529.4 136.1h0M530.2 95.5h0M529.7 89.5h0M529.2 128.9h0M529.1 114.3h0M528.8 107.7h0M530.2 111.7h0M529.5 94.2h0M528.9 119.9h0M529.3 134.1h0M530.9 107.8h0M528.4 132.3h0M528.4 100.0h0M530.6 103.1h0M528.3 87.4h0M530.5 95.2h0M529.0 105.5h0M529.8 112.6h0M530.5 115.7h0M530.5 121.3h0M530.1 118.8h0M529.4 80.4h0M529.2 88.1h0M529.3 115.8h0M530.7 100.1h0M529.7 88.2h0M530.4 100.1h0M527.6 121.5h0M529.2 80.6h0M529.7 131.7h0M529.2 102.6h0M531.1 112.7h0M528.6 97.3h0M529.9 114.6h0M530.2 81.8h0M528.8 93.8h0M530.1 82.5h0M529.8 96.8h0M531.8 78.4h0M530.6 130.0h0M529.4 102.0h0M530.2 88.3h0M529.8 99.6h0M529.1 84.4h0M530.0 107.3h0M529.9 103.9h0M530.7 93.1h0M528.4 112.9h0M528.4 89.9h0M528.9 98.9h0M530.0 110.1h0M530.3 79.0h0M529.4 128.4h0M529.7 120.7h0M529.5 87.1h0M528.2 119.1h0M528.8 78.1h0M530.2 84.1h0M530.1 135.1h0M530.4 91.8h0M530.0 121.2h0M527.5 92.2h0M529.7 90.6h0M529.8 83.8h0M528.4 84.1h0M531.0 94.1h0M529.4 123.2h0M530.2 102.1h0M530.1 80.1h0M530.0 127.9h0M530.6 87.4h0M529.4 107.2h0M530.2 98.0h0M529.8 83.4h0M528.5 115.5h0M529.0 69.0h0M528.5 66.7h0M528.1 70.2h0M528.3 64.2h0M529.9 62.4h0M528.4 154.6h0M535.9 96.7h0M535.8 110.4h0M535.9 129.6h0M534.7 110.4h0M534.6 86.9h0M535.0 97.6h0M536.2 85.3h0M534.7 90.6h0M536.1 84.9h0M535.9 95.8h0M534.5 119.1h0M534.1 117.0h0M536.0 83.3h0M537.0 127.6h0M534.7 76.4h0M536.6 89.9h0M534.3 111.9h0M536.3 107.5h0M534.6 121.3h0M535.3 83.2h0M534.9 112.9h0M535.5 135.3h0M536.1 118.4h0M534.0 78.2h0M535.9 131.7h0M536.0 76.9h0M534.5 129.5h0M534.4 97.2h0M536.0 108.7h0M535.0 110.8h0M534.2 126.4h0M534.9 129.1h0M533.4 83.2h0M534.3 120.7h0M535.8 112.0h0M534.0 109.3h0M534.5 97.6h0M535.4 135.4h0M534.9 121.2h0M534.6 95.1h0M534.6 118.4h0M536.7 119.0h0M535.3 83.3h0M535.0 96.6h0M535.5 114.7h0M535.8 94.8h0M536.1 110.2h0M534.8 105.4h0M535.4 126.2h0M534.5 129.4h0M533.6 113.7h0M534.9 86.4h0M535.5 112.1h0M535.7 104.9h0M534.7 82.8h0M534.3 120.3h0M534.5 80.8h0M536.1 96.9h0M536.4 87.1h0M534.4 110.5h0M535.5 109.2h0M535.2 89.2h0M535.9 132.9h0M535.6 116.0h0M535.4 95.5h0M536.0 116.8h0M536.6 84.7h0M534.0 98.8h0M536.0 89.7h0M535.0 131.5h0M535.0 116.3h0M534.7 111.4h0M536.9 116.0h0M536.0 116.5h0M535.5 108.1h0M536.6 87.3h0M535.7 110.8h0M534.4 90.2h0M535.0 86.1h0M535.7 92.4h0M534.9 93.9h0M536.4 124.8h0M536.0 115.1h0M534.8 96.9h0M535.0 88.6h0M535.2 98.0h0M536.1 124.1h0M535.1 118.7h0M535.5 105.7h0M534.8 91.5h0M534.8 102.5h0M534.7 112.4h0M536.3 106.7h0M535.2 124.3h0M535.5 88.3h0M535.5 128.7h0M536.3 105.3h0M536.9 77.5h0M535.8 113.6h0M536.6 88.2h0M535.2 95.6h0M536.2 126.8h0M534.9 93.7h0M535.3 126.9h0M534.9 113.7h0M534.9 84.2h0M535.6 107.9h0M533.7 88.2h0M534.9 108.1h0M534.5 111.0h0M534.4 131.5h0M535.3 124.3h0M535.5 88.1h0M534.0 120.9h0M535.4 116.7h0M536.0 83.3h0M534.4 111.2h0M536.4 96.6h0M534.6 114.2h0M534.7 126.5h0M534.0 111.2h0M534.2 75.7h0M535.9 63.8h0M535.2 158.5h0M535.9 143.0h0M535.3 146.9h0M541.8 135.6h0M541.1 106.6h0M541.1 129.1h0M540.3 85.6h0M540.4 102.9h0M541.0 127.2h0M539.6 94.7h0M541.6 94.4h0M542.2 80.3h0M540.0 112.7h0M541.2 96.4h0M541.6 107.3h0M540.4 89.8h0M540.3 136.0h0M539.8 111.1h0M541.4 89.2h0M540.8 115.5h0M541.2 105.7h0M540.3 74.8h0M540.9 83.0h0M541.6 123.1h0M540.9 79.1h0M541.5 108.8h0M541.8 81.5h0M541.0 93.0h0M544.2 105.5h0M541.6 119.6h0M541.6 107.2h0M541.9 89.2h0M539.3 101.4h0M541.0 105.0h0M540.7 120.0h0M542.6 109.6h0M541.0 128.5h0M541.3 138.1h0M542.4 80.6h0M539.1 88.5h0M540.6 80.1h0M539.2 97.4h0M542.2 108.5h0M541.8 121.0h0M542.7 116.7h0M540.8 89.6h0M541.3 81.9h0M541.5 95.4h0M539.5 104.0h0M540.6 84.8h0M541.2 126.6h0M539.8 87.6h0M540.5 108.4h0M541.8 137.5h0M541.3 97.6h0M540.1 76.8h0M540.2 74.5h0M541.3 92.1h0M539.9 81.8h0M540.3 106.8h0M540.8 80.0h0M541.6 124.1h0M540.4 123.8h0M540.7 86.8h0M541.0 108.6h0M540.6 81.1h0M540.7 87.5h0M542.1 115.5h0M542.2 106.5h0M541.2 104.0h0M541.1 108.6h0M541.1 126.2h0M541.9 73.4h0M540.7 90.3h0M541.7 114.5h0M541.5 91.8h0M542.2 79.9h0M544.5 93.8h0M540.6 77.7h0M541.2 71.2h0M541.2 105.0h0M540.3 80.6h0M540.6 89.0h0M540.0 91.3h0M539.7 98.9h0M541.4 102.8h0M539.9 122.9h0M541.0 97.1h0M540.4 128.0h0M541.7 89.4h0M541.2 107.4h0M541.2 106.8h0M541.6 92.0h0M541.0 125.0h0M540.0 109.7h0M540.9 97.8h0M541.2 104.8h0M540.9 104.9h0M541.1 96.0h0M540.0 98.5h0M541.1 119.1h0M542.6 86.4h0M540.2 77.6h0M540.2 124.7h0M543.0 125.9h0M541.5 79.4h0M542.3 128.1h0M541.9 111.2h0M539.8 85.5h0M542.1 91.9h0M541.1 90.9h0M540.4 135.0h0M541.4 78.1h0M541.2 88.8h0M541.3 95.8h0M540.0 109.9h0M542.6 123.9h0M540.8 87.4h0M541.7 81.8h0M539.6 126.9h0M540.0 74.6h0M541.3 77.5h0M541.5 85.8h0M540.4 115.4h0M541.5 75.9h0M540.4 79.3h0M540.5 111.2h0M540.4 128.1h0M540.1 124.7h0M539.8 106.1h0M540.9 86.3h0M541.7 111.5h0M541.4 102.6h0M542.7 78.0h0M540.7 103.6h0M541.2 92.4h0M540.3 84.4h0M541.0 82.4h0M541.6 94.7h0M541.1 78.8h0M540.2 116.3h0M540.1 78.0h0M540.4 89.0h0M540.0 108.8h0M540.0 119.4h0M541.0 94.9h0M539.9 125.9h0M540.3 63.7h0M541.2 61.2h0M539.5 53.7h0M541.3 63.0h0M540.1 63.6h0M539.8 147.3h0M546.0 105.0h0M548.6 113.8h0M546.4 124.5h0M545.4 110.5h0M546.6 115.4h0M548.0 82.0h0M545.9 110.5h0M547.1 138.6h0M547.0 110.9h0M550.7 85.0h0M546.9 101.3h0M547.3 99.7h0M546.8 83.8h0M547.0 97.7h0M545.9 129.9h0M545.8 120.7h0M549.6 82.2h0M546.6 97.4h0M546.7 126.3h0M547.6 106.7h0M545.6 101.5h0M546.6 81.4h0M547.5 77.3h0M545.6 79.4h0M545.9 91.8h0M545.2 92.6h0M547.1 89.5h0M546.9 142.1h0M545.4 129.9h0M547.5 74.2h0M546.2 99.1h0M546.3 98.2h0M547.0 117.4h0M547.2 84.7h0M545.9 94.1h0M546.8 145.6h0M546.5 104.6h0M547.7 114.1h0M546.0 92.0h0M547.7 87.2h0M545.2 91.3h0M547.1 130.1h0M547.8 104.4h0M547.1 89.1h0M547.6 81.2h0M547.4 77.1h0M545.5 94.0h0M546.1 120.1h0M547.5 116.7h0M546.8 100.6h0M546.5 89.9h0M547.7 121.7h0M547.0 103.6h0M545.0 72.3h0M545.7 72.5h0M546.7 98.6h0M546.3 126.9h0M545.8 95.2h0M546.4 132.4h0M546.2 76.1h0M547.9 115.1h0M546.6 110.8h0M546.5 112.3h0M546.3 124.1h0M546.2 111.5h0M546.6 110.5h0M546.5 83.5h0M546.6 88.8h0M546.5 104.1h0M545.9 111.8h0M546.7 124.4h0M545.8 114.2h0M547.0 102.0h0M547.9 82.6h0M549.3 108.0h0M546.6 121.0h0M548.3 79.4h0M546.5 107.0h0M545.7 74.0h0M546.9 86.2h0M545.9 107.4h0M549.9 121.5h0M545.6 115.5h0M546.7 89.8h0M546.8 87.7h0M547.5 102.9h0M546.9 125.0h0M545.7 76.0h0M546.8 103.2h0M546.7 118.3h0M547.8 82.4h0M546.3 73.1h0M546.4 105.5h0M546.9 100.7h0M546.4 98.0h0M545.8 94.8h0M546.0 97.5h0M546.7 112.3h0M546.6 126.7h0M545.9 76.3h0M546.4 119.8h0M546.6 73.6h0M545.0 124.1h0M545.4 75.7h0M545.0 78.5h0M545.3 80.1h0M546.7 129.7h0M546.7 106.0h0M545.2 136.8h0M547.1 116.4h0M547.3 82.8h0M546.6 116.0h0M546.9 82.0h0M546.9 77.4h0M546.1 91.4h0M547.7 126.9h0M545.9 74.4h0M546.2 81.9h0M544.7 85.0h0M547.1 93.8h0M546.1 80.4h0M547.9 101.0h0M545.3 88.4h0M547.8 101.9h0M544.8 117.4h0M546.4 94.6h0M546.6 92.4h0M546.2 66.3h0M547.7 57.3h0M545.8 64.6h0M546.3 61.6h0M546.6 58.8h0M546.5 62.1h0M546.3 62.4h0M546.8 149.5h0M546.4 146.3h0M550.5 166.6h0M552.1 80.9h0M551.4 119.4h0M551.3 111.9h0M552.1 76.4h0M551.7 111.9h0M553.3 77.2h0M550.9 125.0h0M551.4 80.7h0M553.0 128.3h0M553.0 72.9h0M553.4 89.3h0M551.9 88.1h0M551.6 126.2h0M553.2 96.3h0M553.0 114.5h0M551.6 80.4h0M553.9 121.4h0M552.5 101.6h0M553.1 114.5h0M552.3 82.6h0M552.0 73.2h0M552.8 130.9h0M552.3 94.7h0M552.4 100.2h0M552.0 78.9h0M552.3 114.8h0M552.8 123.7h0M550.3 79.4h0M552.9 99.3h0M550.7 98.5h0M553.0 72.8h0M551.9 106.3h0M556.1 88.7h0M555.0 66.0h0M553.5 77.5h0M552.2 95.5h0M551.6 122.1h0M551.7 136.5h0M552.5 136.3h0M555.6 98.6h0M551.6 98.7h0M554.1 66.2h0M551.9 118.2h0M552.1 95.1h0M551.2 110.2h0M553.1 108.9h0M552.3 112.8h0M551.5 122.8h0M551.7 104.1h0M552.2 87.4h0M553.1 92.6h0M553.3 68.2h0M551.5 79.2h0M554.0 73.2h0M552.5 104.9h0M552.7 137.7h0M552.3 118.4h0M552.3 103.7h0M551.9 138.4h0M552.4 66.9h0M551.0 67.2h0M552.6 93.4h0M553.0 140.0h0M552.7 110.2h0M551.5 122.5h0M551.9 121.1h0M552.4 121.2h0M552.1 106.4h0M552.4 88.7h0M552.5 116.9h0M551.5 109.1h0M552.6 107.2h0M554.1 88.5h0M551.9 87.2h0M551.7 107.0h0M552.5 98.7h0M552.4 81.9h0M553.0 125.3h0M552.7 105.7h0M553.0 110.6h0M551.9 67.0h0M555.8 127.6h0M552.8 112.8h0M553.2 104.8h0M553.3 78.1h0M551.6 72.6h0M551.5 142.5h0M551.9 131.0h0M553.3 111.7h0M552.5 130.5h0M551.2 83.2h0M552.1 117.2h0M551.1 122.8h0M553.9 117.0h0M552.7 107.5h0M551.3 73.9h0M552.6 126.0h0M554.3 106.9h0M552.6 111.2h0M551.2 107.7h0M552.0 121.2h0M552.8 106.8h0M556.5 77.7h0M552.9 128.9h0M552.8 81.0h0M551.4 99.6h0M552.8 92.6h0M553.5 127.1h0M551.6 87.4h0M551.6 129.8h0M551.6 135.2h0M552.6 117.0h0M552.2 125.7h0M553.7 132.2h0M556.2 133.8h0M552.8 101.5h0M552.5 77.6h0M551.1 101.8h0M552.1 75.2h0M555.1 88.0h0M553.6 97.4h0M552.3 125.6h0M553.2 141.6h0M552.6 102.7h0M552.8 98.1h0M552.0 94.7h0M554.0 121.1h0M552.9 143.0h0M553.1 143.3h0M550.8 91.2h0M551.9 73.8h0M552.2 100.6h0M552.8 118.5h0M551.3 125.1h0M553.9 133.9h0M552.1 95.5h0M552.6 127.8h0M552.3 92.0h0M553.2 71.7h0M552.9 121.2h0M553.1 130.3h0M552.0 67.7h0M552.6 114.8h0M552.8 84.1h0M554.2 131.2h0M553.0 79.0h0M552.3 102.6h0M553.5 82.7h0M551.8 116.1h0M552.6 62.2h0M552.6 158.4h0M552.0 156.0h0M552.1 161.9h0M558.5 105.1h0M558.2 73.0h0M558.1 129.0h0M557.5 104.1h0M558.0 139.2h0M557.7 107.9h0M558.1 74.5h0M557.7 129.2h0M558.2 98.6h0M557.3 112.1h0M557.4 141.6h0M557.7 80.6h0M559.0 121.2h0M557.3 69.3h0M557.6 77.3h0M557.8 137.9h0M559.6 120.8h0M557.8 77.0h0M557.3 75.0h0M558.4 124.9h0M557.4 126.7h0M556.6 80.3h0M557.7 115.5h0M558.1 78.3h0M557.3 81.3h0M558.5 89.1h0M558.0 102.4h0M558.5 137.6h0M559.8 118.5h0M558.1 127.3h0M555.2 109.9h0M558.0 66.4h0M557.5 107.0h0M558.9 119.7h0M559.1 142.1h0M558.3 78.8h0M559.1 108.3h0M557.6 123.8h0M557.5 92.4h0M558.6 118.6h0M558.4 67.4h0M557.8 99.1h0M557.6 92.9h0M557.8 101.4h0M558.8 122.2h0M557.9 137.2h0M558.3 120.6h0M558.5 125.9h0M558.3 73.9h0M558.5 77.3h0M557.2 144.6h0M557.8 103.7h0M558.7 132.1h0M557.8 95.7h0M559.3 101.9h0M558.2 74.9h0M558.2 128.7h0M558.2 81.2h0M557.9 66.0h0M558.3 108.9h0M558.6 99.3h0M558.0 86.6h0M558.1 124.2h0M557.6 121.4h0M557.2 126.4h0M559.0 92.5h0M557.9 63.6h0M560.8 128.3h0M558.0 88.4h0M558.7 71.7h0M558.8 102.6h0M557.1 89.8h0M557.8 75.5h0M558.2 133.8h0M558.0 109.1h0M557.6 67.5h0M558.4 66.2h0M557.3 88.4h0M557.5 76.0h0M556.1 88.9h0M557.9 97.6h0M557.4 116.0h0M559.0 75.2h0M559.4 118.4h0M556.1 75.2h0M557.7 101.1h0M559.2 71.6h0M558.9 66.1h0M557.4 115.9h0M557.0 113.6h0M557.5 102.5h0M558.7 76.7h0M561.3 69.1h0M557.7 74.0h0M557.8 127.5h0M557.2 70.1h0M558.3 117.0h0M557.6 102.1h0M557.2 72.0h0M557.4 79.2h0M559.1 93.6h0M556.7 96.2h0M558.8 83.8h0M558.8 123.4h0M558.3 77.5h0M557.6 128.6h0M560.8 81.3h0M558.3 75.7h0M558.0 75.2h0M556.7 71.9h0M557.3 117.9h0M557.7 98.0h0M560.1 78.3h0M558.2 88.9h0M558.0 144.1h0M559.3 127.4h0M557.7 130.9h0M557.8 134.1h0M559.2 141.0h0M558.6 72.7h0M557.2 138.0h0M558.5 90.0h0M557.3 99.1h0M558.3 91.4h0M559.8 95.3h0M557.8 134.4h0M558.7 117.5h0M558.4 116.5h0M559.1 136.8h0M557.6 81.5h0M558.0 72.1h0M558.5 111.0h0M557.7 134.5h0M557.5 128.4h0M561.0 76.6h0M558.6 102.8h0M558.4 96.0h0M557.4 65.3h0M558.2 77.2h0M558.1 92.2h0M559.0 103.0h0M557.5 94.2h0M557.7 126.9h0M559.2 128.1h0M557.8 120.9h0M557.3 62.8h0M557.6 101.0h0M557.6 137.9h0M557.6 77.5h0M559.1 122.2h0M557.5 121.8h0M556.9 136.8h0M558.9 85.4h0M558.1 81.2h0M558.4 133.6h0M558.1 109.8h0M558.3 84.3h0M558.5 112.5h0M558.2 71.1h0M556.8 73.2h0M558.0 96.2h0M557.3 120.3h0M558.2 110.4h0M558.0 85.2h0M559.0 118.7h0M556.2 129.6h0M557.3 81.8h0M557.2 89.4h0M557.2 93.2h0M558.4 68.9h0M557.2 77.9h0M557.2 95.6h0M558.5 67.7h0M557.1 76.8h0M556.8 73.8h0M557.2 91.9h0M558.0 142.8h0M556.9 84.6h0M558.0 69.5h0M557.4 112.4h0M558.6 80.7h0M557.8 73.8h0M559.3 67.2h0M557.9 68.0h0M557.3 109.8h0M558.0 100.5h0M557.8 88.1h0M557.5 96.5h0M559.7 66.6h0M558.9 81.6h0M558.7 87.9h0M558.8 65.8h0M557.2 125.6h0M557.5 116.6h0M557.1 126.1h0M558.8 116.0h0M559.3 110.3h0M557.7 135.1h0M557.9 70.1h0M557.6 121.6h0M558.2 72.3h0M558.1 55.8h0M558.2 59.0h0M558.3 60.5h0M558.1 151.9h0M557.8 164.8h0M558.9 162.1h0M558.3 157.8h0M557.4 169.6h0M559.0 165.5h0M563.4 111.3h0M565.1 120.7h0M563.6 123.5h0M563.6 105.9h0M563.8 84.5h0M564.4 127.5h0M563.5 111.1h0M563.8 120.7h0M563.2 102.1h0M564.0 101.7h0M561.9 87.2h0M563.1 114.3h0M563.2 129.0h0M563.5 77.7h0M563.3 90.3h0M564.4 111.7h0M564.2 104.2h0M562.9 71.3h0M563.8 76.1h0M564.8 66.0h0M563.2 87.4h0M563.4 74.2h0M564.1 132.0h0M562.6 93.8h0M563.6 69.4h0M564.7 83.4h0M565.1 136.8h0M562.9 137.5h0M564.6 95.5h0M565.6 87.8h0M565.2 103.5h0M564.1 126.1h0M563.6 79.8h0M563.4 74.2h0M564.2 72.1h0M564.9 62.1h0M564.2 69.7h0M564.6 64.5h0M564.5 92.2h0M567.3 90.9h0M565.4 90.6h0M564.6 108.2h0M563.8 66.4h0M564.0 66.0h0M562.6 131.4h0M562.5 124.2h0M563.5 122.0h0M563.7 117.5h0M563.5 98.3h0M563.6 80.7h0M564.6 69.8h0M564.0 71.8h0M562.4 87.0h0M564.3 106.8h0M564.3 85.4h0M563.8 77.0h0M563.9 84.7h0M563.3 120.0h0M564.1 141.8h0M563.3 83.2h0M563.7 96.2h0M564.5 133.7h0M563.8 77.4h0M563.8 95.4h0M564.9 76.7h0M563.6 78.4h0M564.6 125.6h0M564.0 135.1h0M563.3 135.6h0M563.4 125.2h0M564.2 122.3h0M565.1 97.4h0M565.9 80.7h0M562.8 109.6h0M564.9 106.6h0M564.4 121.7h0M563.9 64.2h0M562.6 125.1h0M564.6 140.0h0M562.6 113.9h0M564.5 102.3h0M563.6 89.7h0M563.8 126.7h0M563.4 94.3h0M563.1 75.9h0M563.4 101.8h0M564.2 140.1h0M562.1 69.0h0M562.6 136.6h0M564.3 83.2h0M564.0 133.5h0M565.2 109.5h0M562.8 132.1h0M563.0 92.4h0M563.7 69.0h0M563.8 129.0h0M563.9 117.2h0M563.9 105.4h0M564.3 118.8h0M562.3 84.4h0M563.9 73.8h0M563.3 127.5h0M563.2 69.0h0M565.1 107.4h0M563.5 140.4h0M564.7 113.5h0M565.8 66.0h0M563.5 83.2h0M563.7 145.3h0M563.7 116.6h0M563.8 105.1h0M564.9 85.9h0M564.4 114.4h0M563.8 90.3h0M563.8 78.1h0M563.1 90.5h0M564.0 108.5h0M565.6 114.4h0M563.1 71.3h0M566.6 74.0h0M563.2 85.2h0M562.6 108.0h0M563.6 137.1h0M562.9 68.8h0M564.2 91.2h0M563.9 136.6h0M562.7 140.5h0M564.0 116.0h0M564.3 73.1h0M563.9 93.9h0M563.6 102.3h0M563.4 131.6h0M565.2 124.3h0M563.8 71.1h0M563.8 83.0h0M563.5 125.1h0M562.8 103.3h0M563.3 72.0h0M564.2 85.7h0M564.0 126.2h0M564.0 73.9h0M563.8 91.2h0M563.0 95.4h0M563.8 105.4h0M564.5 68.4h0M563.7 86.5h0M561.9 104.2h0M563.1 143.8h0M562.2 118.8h0M563.0 133.8h0M565.4 94.2h0M563.4 79.1h0M563.0 88.7h0M562.4 75.1h0M563.5 94.1h0M564.7 108.2h0M563.0 84.9h0M564.1 144.5h0M563.9 93.6h0M563.2 99.2h0M564.3 109.6h0M566.2 136.3h0M563.1 104.6h0M563.2 84.6h0M563.9 129.6h0M565.2 145.4h0M564.5 82.9h0M563.1 138.1h0M563.7 74.7h0M565.9 109.2h0M563.0 105.7h0M565.1 139.4h0M564.0 88.3h0M563.2 128.6h0M563.5 81.1h0M561.7 101.5h0M564.0 95.7h0M562.6 122.6h0M562.8 129.4h0M564.1 142.4h0M562.9 135.8h0M562.9 80.6h0M564.4 91.5h0M561.9 122.6h0M563.6 77.1h0M564.7 93.0h0M565.1 87.7h0M564.8 112.5h0M562.5 91.1h0M566.7 84.4h0M564.4 96.8h0M564.0 86.0h0M563.4 147.5h0M562.8 87.0h0M564.2 111.8h0M562.5 107.0h0M562.4 73.0h0M565.8 115.8h0M563.7 70.4h0M564.7 118.6h0M563.4 114.1h0M564.4 133.8h0M562.9 85.7h0M563.3 90.1h0M563.4 120.3h0M563.1 115.6h0M564.6 120.0h0M562.5 72.7h0M562.4 95.1h0M564.5 96.7h0M563.9 91.7h0M564.2 138.9h0M563.0 146.0h0M564.2 96.7h0M562.3 100.5h0M563.5 79.8h0M563.9 118.2h0M562.1 89.3h0M563.1 99.6h0M562.5 125.2h0M563.0 74.7h0M563.4 83.0h0M563.3 104.4h0M562.0 137.9h0M564.1 134.8h0M562.6 90.3h0M563.8 131.8h0M563.1 112.7h0M562.3 121.6h0M564.3 65.5h0M563.5 65.9h0M563.9 110.6h0M564.0 128.5h0M563.9 82.9h0M563.0 107.3h0M564.0 132.9h0M564.3 127.8h0M563.1 56.5h0M562.8 57.2h0M563.1 59.4h0M564.5 55.3h0M563.6 58.2h0M564.8 58.2h0M563.3 57.9h0M563.6 59.7h0M564.8 160.1h0M564.9 167.7h0M564.2 158.6h0M565.6 152.3h0M563.6 170.2h0M563.6 171.8h0M569.5 127.7h0M569.7 62.7h0M569.2 87.4h0M569.6 90.3h0M570.2 83.8h0M570.0 65.7h0M570.0 120.9h0M569.5 93.4h0M568.5 119.4h0M568.9 125.6h0M568.0 72.6h0M569.7 133.3h0M569.6 71.1h0M570.3 65.4h0M570.9 67.9h0M570.2 138.0h0M568.9 65.3h0M569.3 86.2h0M568.0 80.2h0M569.7 111.6h0M569.5 132.7h0M569.0 110.0h0M568.8 114.5h0M569.2 72.8h0M567.6 92.3h0M569.2 89.3h0M569.3 79.8h0M568.9 67.3h0M569.8 73.0h0M570.2 90.3h0M569.4 98.0h0M569.3 134.4h0M569.0 67.0h0M569.3 112.7h0M568.6 103.5h0M569.5 66.5h0M568.6 80.4h0M568.8 69.4h0M568.4 68.6h0M568.2 62.5h0M569.3 97.8h0M570.7 112.3h0M567.7 79.9h0M569.2 142.7h0M568.0 76.4h0M569.2 138.3h0M568.0 106.1h0M569.2 66.2h0M568.9 100.8h0M569.3 88.2h0M569.6 107.0h0M569.1 73.6h0M569.2 86.1h0M568.6 117.1h0M568.8 128.3h0M569.0 101.1h0M569.2 71.2h0M569.5 82.0h0M569.6 105.9h0M568.2 76.8h0M570.0 97.3h0M569.6 141.9h0M569.2 90.0h0M569.2 116.0h0M571.4 86.8h0M569.7 109.3h0M567.4 86.5h0M567.5 100.2h0M569.8 134.0h0M568.7 77.3h0M569.1 129.1h0M568.7 76.7h0M572.6 80.4h0M568.5 101.9h0M569.2 110.7h0M569.6 82.3h0M570.5 76.0h0M570.1 98.5h0M569.3 116.3h0M569.9 66.7h0M568.9 75.2h0M569.2 131.9h0M569.8 81.3h0M570.3 136.6h0M568.3 79.9h0M568.9 78.1h0M569.6 101.2h0M569.8 83.2h0M569.5 113.8h0M569.1 140.7h0M568.5 63.1h0M568.3 124.1h0M569.6 70.2h0M568.8 111.8h0M569.1 97.4h0M568.7 102.6h0M568.9 136.8h0M568.6 125.4h0M569.0 105.7h0M569.0 66.8h0M569.6 74.3h0M568.6 117.4h0M567.9 142.8h0M569.0 133.9h0M569.5 103.1h0M568.8 147.8h0M569.9 150.3h0M569.2 124.6h0M568.6 69.9h0M569.8 105.3h0M569.5 132.0h0M569.1 136.2h0M569.0 122.6h0M568.4 63.7h0M567.8 107.3h0M569.6 131.7h0M571.0 99.6h0M569.9 126.4h0M569.7 93.9h0M572.2 97.7h0M568.9 95.2h0M570.5 104.6h0M569.5 95.3h0M570.1 108.7h0M569.2 81.0h0M569.8 119.8h0M569.9 69.6h0M568.6 125.3h0M568.2 100.6h0M569.7 109.1h0M570.0 144.2h0M572.5 70.9h0M569.0 89.6h0M568.0 72.8h0M568.7 93.2h0M570.1 98.6h0M569.9 123.2h0M569.0 74.2h0M569.9 146.4h0M569.1 123.7h0M568.6 87.0h0M569.2 71.4h0M568.7 90.2h0M570.0 90.6h0M568.7 62.0h0M569.4 92.7h0M570.2 114.7h0M569.2 132.5h0M571.5 90.7h0M570.0 116.2h0M569.6 84.4h0M573.0 113.2h0M569.2 100.3h0M569.6 149.0h0M572.0 126.2h0M569.7 89.2h0M569.3 121.6h0M569.0 125.9h0M568.4 65.9h0M571.5 89.3h0M569.0 115.8h0M569.6 65.2h0M569.6 150.0h0M569.1 76.7h0M572.7 88.1h0M570.6 77.1h0M569.0 121.7h0M569.8 114.1h0M569.6 125.8h0M569.5 108.7h0M569.3 64.7h0M567.5 95.3h0M570.1 64.1h0M570.5 92.3h0M568.0 85.6h0M569.5 98.1h0M569.9 112.4h0M569.7 115.5h0M568.4 116.1h0M568.3 142.7h0M569.4 105.0h0M568.0 95.6h0M570.4 137.2h0M570.5 127.8h0M569.1 110.9h0M569.1 94.4h0M569.4 78.8h0M570.8 80.6h0M568.5 141.4h0M568.6 126.9h0M569.6 93.9h0M568.9 124.1h0M569.9 77.6h0M571.0 64.4h0M569.9 120.9h0M571.6 100.2h0M569.4 90.6h0M569.1 99.4h0M568.4 127.2h0M569.8 142.1h0M570.3 70.6h0M569.8 78.9h0M570.7 99.8h0M568.6 94.1h0M572.0 132.7h0M568.2 92.4h0M569.4 100.7h0M570.3 82.8h0M572.1 129.5h0M569.0 118.3h0M569.9 102.7h0M570.3 100.4h0M569.5 84.1h0M569.2 66.8h0M570.3 111.4h0M569.7 70.2h0M570.4 110.9h0M568.8 131.2h0M569.3 127.4h0M568.8 107.2h0M568.1 125.2h0M568.5 118.7h0M569.7 109.8h0M570.0 99.2h0M569.1 136.3h0M569.0 146.1h0M570.3 92.8h0M571.6 73.9h0M569.7 139.9h0M568.4 67.2h0M568.0 87.1h0M569.4 118.8h0M569.2 65.8h0M568.8 109.9h0M570.9 69.5h0M569.5 123.8h0M568.6 89.4h0M570.7 80.6h0M569.7 104.8h0M568.9 81.0h0M568.4 87.1h0M569.3 87.1h0M568.8 70.5h0M568.3 133.4h0M569.8 144.1h0M568.7 84.1h0M569.7 125.7h0M568.8 82.8h0M569.6 146.9h0M569.5 83.8h0M570.1 93.7h0M570.0 109.3h0M568.6 80.3h0M570.0 130.3h0M570.8 83.1h0M568.6 88.3h0M569.9 89.2h0M569.2 107.8h0M569.6 110.6h0M571.4 135.1h0M567.4 112.3h0M568.5 70.1h0M569.4 100.3h0M568.4 138.0h0M569.2 72.1h0M570.0 89.4h0M569.3 104.1h0M568.5 117.1h0M570.1 65.1h0M569.7 121.2h0M571.5 122.5h0M569.7 89.4h0M567.7 126.5h0M567.8 93.2h0M569.5 76.0h0M569.1 82.6h0M570.2 135.9h0M569.2 105.6h0M568.0 56.2h0M571.2 168.1h0M569.3 152.5h0M569.5 159.7h0M568.2 159.4h0M575.2 113.4h0M574.4 124.5h0M574.0 135.0h0M574.4 144.3h0M575.5 126.8h0M574.9 76.2h0M575.1 77.8h0M574.9 120.6h0M575.6 91.3h0M576.0 102.9h0M574.2 134.9h0M574.4 113.9h0M575.3 87.7h0M574.5 108.1h0M575.6 113.9h0M574.6 91.2h0M576.0 61.7h0M574.9 127.5h0M576.0 93.0h0M575.1 86.5h0M574.0 115.4h0M574.9 103.7h0M574.0 111.2h0M575.0 117.5h0M574.2 119.2h0M575.9 93.9h0M573.8 116.4h0M575.4 138.3h0M573.8 94.6h0M574.2 137.1h0M574.0 98.5h0M574.4 86.4h0M575.1 63.0h0M574.3 78.8h0M575.2 85.1h0M575.8 145.6h0M575.3 89.7h0M573.6 64.2h0M574.8 76.8h0M575.5 125.5h0M574.8 119.9h0M575.3 131.9h0M574.3 94.7h0M574.8 125.5h0M575.6 99.2h0M574.1 103.4h0M574.9 133.7h0M574.9 88.3h0M574.7 141.2h0M575.3 137.9h0M576.0 65.6h0M574.8 129.3h0M574.5 94.3h0M574.8 109.4h0M576.0 86.8h0M574.3 64.0h0M574.2 66.3h0M574.6 86.8h0M575.5 116.4h0M575.0 67.3h0M575.5 99.3h0M574.1 116.0h0M577.7 79.0h0M574.2 117.3h0M574.2 74.5h0M575.3 75.0h0M577.7 128.5h0M576.6 109.5h0M575.9 114.6h0M575.0 118.7h0M574.8 94.1h0M573.9 92.5h0M573.7 83.1h0M575.8 92.0h0M574.5 70.7h0M575.2 77.2h0M575.1 133.1h0M575.6 82.0h0M576.4 113.4h0M575.6 67.0h0M574.9 65.3h0M576.1 78.5h0M575.4 61.4h0M574.9 91.2h0M575.1 70.0h0M575.7 122.9h0M576.0 73.8h0M574.5 139.5h0M574.8 60.9h0M573.9 87.0h0M575.7 68.1h0M574.8 69.2h0M576.2 96.4h0M576.1 142.9h0M575.2 83.7h0M578.0 97.6h0M574.4 105.4h0M574.5 112.1h0M575.0 125.6h0M574.8 114.2h0M576.3 124.0h0M574.5 119.3h0M575.5 116.5h0M574.9 69.3h0M575.1 71.7h0M575.3 116.5h0M574.1 89.4h0M575.6 76.6h0M576.0 84.2h0M575.9 80.4h0M574.9 73.6h0M574.4 139.2h0M575.7 123.9h0M574.6 96.6h0M575.2 90.7h0M573.6 85.1h0M573.8 124.1h0M574.9 92.3h0M574.8 127.1h0M574.2 133.9h0M573.7 91.5h0M578.1 117.7h0M573.7 110.4h0M574.4 87.6h0M575.6 74.1h0M575.0 70.3h0M575.3 113.7h0M575.1 97.2h0M575.1 144.5h0M574.9 116.9h0M574.2 141.2h0M575.9 72.3h0M575.1 72.6h0M575.1 129.1h0M577.3 130.5h0M574.2 65.9h0M575.9 94.1h0M575.2 102.5h0M574.0 85.5h0M577.4 126.1h0M574.7 62.9h0M573.9 73.9h0M574.6 145.6h0M578.5 72.2h0M576.0 68.1h0M575.2 111.4h0M575.1 76.5h0M574.9 98.4h0M574.4 90.5h0M574.7 74.3h0M575.3 107.0h0M573.9 94.5h0M574.8 141.6h0M575.1 116.6h0M575.2 120.8h0M573.9 88.1h0M576.2 135.1h0M575.4 111.0h0M574.3 115.4h0M574.7 62.5h0M575.6 100.5h0M575.7 68.5h0M574.4 93.7h0M574.3 80.7h0M576.0 105.1h0M575.4 114.4h0M574.9 69.6h0M574.6 111.8h0M574.9 72.0h0M574.3 111.9h0M575.7 102.7h0M575.2 118.7h0M575.3 111.9h0M576.9 69.1h0M575.3 81.4h0M574.2 67.2h0M574.6 69.1h0M575.8 65.9h0M576.0 102.5h0M575.2 98.1h0M574.8 98.6h0M575.7 63.6h0M574.2 131.1h0M574.3 146.7h0M574.9 68.6h0M575.4 96.8h0M575.2 116.1h0M575.2 133.0h0M574.1 116.4h0M577.5 121.0h0M575.0 95.4h0M574.7 88.5h0M574.6 122.4h0M575.4 135.6h0M574.8 130.7h0M574.3 121.6h0M575.8 123.3h0M575.1 88.9h0M573.7 85.5h0M575.3 124.9h0M576.5 119.4h0M578.6 71.7h0M575.9 117.7h0M576.0 130.2h0M575.3 138.1h0M574.5 68.7h0M575.8 101.7h0M577.0 121.5h0M575.1 78.1h0M575.5 62.3h0M575.3 140.9h0M574.7 97.6h0M574.1 70.6h0M576.5 93.3h0M575.6 105.2h0M574.6 127.2h0M574.2 98.9h0M575.1 88.3h0M575.1 61.0h0M575.2 134.7h0M576.1 140.5h0M574.5 106.1h0M575.4 72.2h0M576.5 91.5h0M573.8 69.7h0M577.7 68.7h0M576.2 106.6h0M576.9 86.9h0M575.7 100.0h0M573.5 115.7h0M574.7 118.5h0M574.9 140.2h0M574.6 126.5h0M575.4 118.1h0M575.5 126.5h0M575.8 122.2h0M574.7 116.7h0M574.5 104.1h0M575.9 128.3h0M574.6 101.8h0M575.5 99.7h0M574.5 110.1h0M575.4 67.2h0M577.3 138.8h0M575.6 121.5h0M577.3 98.6h0M574.5 91.3h0M577.9 116.6h0M575.2 80.6h0M575.0 103.4h0M575.7 80.4h0M575.7 130.5h0M578.1 90.7h0M576.3 73.2h0M574.4 68.4h0M574.6 80.4h0M573.3 72.0h0M575.2 99.2h0M574.8 125.4h0M575.4 105.1h0M574.5 102.7h0M574.4 64.9h0M575.1 92.9h0M574.5 127.5h0M575.3 95.0h0M575.3 70.3h0M575.0 91.8h0M575.6 67.8h0M578.0 84.9h0M574.7 109.9h0M574.3 93.7h0M575.3 68.6h0M574.4 146.9h0M578.6 82.4h0M575.3 70.6h0M574.6 91.1h0M577.0 107.1h0M574.1 123.4h0M576.1 118.9h0M573.4 100.7h0M574.4 77.9h0M577.1 76.0h0M575.7 79.7h0M576.4 98.9h0M575.5 107.1h0M575.2 126.2h0M575.4 111.6h0M573.5 82.3h0M574.0 75.8h0M574.5 74.0h0M574.3 128.6h0M574.1 111.8h0M579.9 102.6h0M577.2 77.3h0M575.8 86.4h0M573.5 109.8h0M573.4 107.4h0M575.1 112.4h0M575.6 120.8h0M574.1 119.8h0M574.8 108.3h0M576.1 136.6h0M576.0 135.2h0M574.3 121.2h0M576.5 146.4h0M576.3 71.8h0M575.8 142.2h0M573.9 65.1h0M574.5 72.2h0M575.4 93.2h0M575.0 87.3h0M575.1 70.6h0M575.4 98.5h0M575.2 95.8h0M578.5 96.1h0M576.3 119.9h0M575.2 148.6h0M574.8 132.6h0M575.0 57.7h0M574.1 56.4h0M575.2 54.9h0M576.0 55.3h0M573.5 173.1h0M573.6 153.2h0M581.6 78.4h0M580.5 88.9h0M581.2 123.1h0M579.1 134.5h0M580.6 79.2h0M580.6 102.9h0M580.5 97.0h0M580.1 133.0h0M580.3 146.1h0M579.5 129.8h0M581.7 112.8h0M579.6 86.0h0M580.0 125.1h0M582.5 117.1h0M580.3 105.8h0M581.7 130.8h0M581.7 93.1h0M580.1 71.9h0M580.6 99.7h0M579.6 143.3h0M581.1 112.6h0M582.1 140.3h0M581.3 91.7h0M579.5 132.3h0M582.5 108.5h0M583.4 99.1h0M581.5 148.5h0M580.8 126.8h0M580.6 66.8h0M581.7 126.9h0M582.1 113.6h0M581.1 110.5h0M581.7 62.6h0M580.0 132.9h0M580.5 93.7h0M580.5 98.9h0M580.1 69.9h0M581.3 73.1h0M580.4 89.7h0M580.2 80.6h0M580.7 89.3h0M580.2 128.8h0M579.2 73.0h0M580.5 72.3h0M579.4 136.9h0M581.8 87.0h0M581.2 119.9h0M581.1 69.6h0M580.7 72.1h0M580.1 92.0h0M581.6 150.4h0M580.6 81.2h0M581.3 136.7h0M580.7 120.7h0M581.1 135.1h0M580.9 110.2h0M579.9 134.3h0M579.9 130.8h0M583.6 128.2h0M579.7 111.6h0M580.3 143.2h0M580.5 70.2h0M580.9 125.3h0M580.5 94.1h0M581.5 109.0h0M580.7 126.4h0M582.4 67.8h0M580.2 63.7h0M582.3 66.7h0M580.9 83.3h0M581.9 142.2h0M580.4 108.4h0M581.2 107.7h0M581.7 62.0h0M580.5 69.7h0M583.7 92.1h0M581.4 68.7h0M581.5 143.0h0M581.2 140.9h0M581.3 149.3h0M581.0 113.1h0M579.4 105.5h0M579.8 113.2h0M580.3 65.6h0M580.2 94.0h0M581.5 80.4h0M581.3 121.5h0M580.8 73.1h0M581.2 66.4h0M580.6 64.9h0M580.4 79.8h0M580.3 132.2h0M580.6 148.0h0M580.0 73.9h0M580.5 121.8h0M581.6 138.5h0M579.0 110.2h0M580.3 134.3h0M582.7 70.6h0M581.2 65.7h0M580.8 87.9h0M580.2 76.7h0M580.3 107.1h0M581.9 102.9h0M581.6 142.6h0M581.6 129.9h0M581.5 90.4h0M580.5 72.8h0M580.8 64.8h0M579.6 84.9h0M580.4 72.8h0M578.9 115.7h0M580.2 101.7h0M579.4 86.8h0M579.2 149.1h0M581.0 141.1h0M581.8 91.8h0M581.5 116.9h0M579.6 88.4h0M579.3 91.5h0M580.6 97.8h0M580.9 130.7h0M580.3 86.6h0M581.0 73.3h0M579.2 142.1h0M580.1 108.7h0M580.9 77.4h0M581.6 136.6h0M580.8 116.8h0M580.7 86.4h0M580.5 75.5h0M581.5 84.6h0M580.1 68.6h0M580.7 123.1h0M580.3 89.7h0M580.4 77.0h0M580.6 95.3h0M582.2 117.2h0M581.2 97.1h0M581.8 92.2h0M581.9 69.1h0M582.0 120.6h0M579.0 96.9h0M580.5 64.4h0M580.5 139.4h0M581.2 88.6h0M580.5 126.2h0M580.7 140.0h0M579.9 100.9h0M581.6 78.1h0M579.9 86.9h0M580.8 138.6h0M582.4 85.1h0M580.9 68.5h0M580.5 125.7h0M581.6 110.2h0M581.4 96.4h0M580.6 82.1h0M580.7 142.0h0M581.1 75.5h0M582.0 98.6h0M580.4 72.7h0M581.1 63.6h0M580.2 105.3h0M579.1 91.9h0M579.4 70.9h0M581.0 76.6h0M579.9 125.7h0M580.5 146.1h0M581.5 78.9h0M580.0 102.5h0M580.6 134.3h0M580.5 144.4h0M579.7 83.2h0M580.7 75.1h0M581.1 95.4h0M579.5 94.7h0M583.2 89.6h0M581.0 90.8h0M581.1 122.1h0M580.9 76.9h0M582.4 88.6h0M581.3 106.4h0M581.3 137.6h0M580.4 91.5h0M581.1 85.5h0M581.4 119.9h0M580.8 84.1h0M580.4 83.2h0M581.7 78.0h0M580.3 145.2h0M580.1 111.8h0M580.9 86.6h0M581.1 83.6h0M580.6 86.3h0M580.2 129.7h0M581.0 148.0h0M580.4 119.7h0M580.3 136.0h0M580.5 133.9h0M579.5 94.8h0M580.0 139.3h0M579.8 80.1h0M581.2 67.6h0M583.9 92.8h0M579.4 100.7h0M579.9 91.9h0M580.6 82.1h0M582.1 137.1h0M580.8 70.0h0M580.5 77.9h0M581.4 105.0h0M580.7 106.7h0M580.4 92.2h0M579.4 98.1h0M581.4 74.6h0M581.8 63.2h0M580.7 110.1h0M581.0 121.3h0M580.0 87.4h0M581.3 84.4h0M583.4 128.9h0M580.2 91.1h0M581.9 93.1h0M581.1 100.4h0M581.5 144.3h0M581.1 77.5h0M579.8 79.8h0M579.3 108.6h0M580.0 90.7h0M581.1 74.5h0M580.5 109.2h0M580.5 119.4h0M583.7 116.6h0M580.3 77.0h0M580.3 147.5h0M580.4 72.7h0M580.5 129.2h0M579.8 70.2h0M583.9 136.3h0M580.6 83.4h0M580.8 65.0h0M580.3 122.6h0M581.4 132.4h0M579.4 138.3h0M580.3 78.5h0M581.4 100.2h0M580.9 118.3h0M580.8 134.4h0M579.9 119.2h0M579.7 118.3h0M580.8 84.1h0M580.7 113.1h0M578.1 75.7h0M581.6 149.1h0M580.1 92.6h0M583.2 95.4h0M580.3 107.1h0M580.3 109.5h0M580.5 72.5h0M580.7 134.3h0M581.8 121.0h0M580.6 134.9h0M581.0 111.1h0M581.7 107.4h0M580.6 141.0h0M580.3 73.9h0M581.7 106.0h0M580.3 98.6h0M580.5 146.0h0M580.5 106.2h0M580.8 99.5h0M581.8 82.2h0M582.0 69.2h0M581.2 116.3h0M580.5 121.8h0M582.0 109.6h0M580.1 120.1h0M580.8 105.7h0M582.0 83.1h0M580.9 114.2h0M579.7 142.3h0M580.8 142.8h0M580.9 115.4h0M581.4 91.5h0M579.7 64.4h0M581.9 94.8h0M579.9 64.8h0M581.4 67.1h0M579.8 115.1h0M580.1 91.4h0M580.9 84.5h0M580.2 135.7h0M580.6 93.7h0M581.6 77.7h0M580.5 67.9h0M579.9 92.0h0M581.5 70.5h0M580.6 93.3h0M579.4 70.9h0M580.9 98.8h0M580.8 90.0h0M580.0 75.0h0M580.8 94.0h0M580.7 91.2h0M580.6 106.6h0M580.5 174.9h0M579.5 157.7h0M586.4 96.4h0M587.7 128.0h0M585.2 106.3h0M585.8 95.4h0M586.6 120.0h0M586.6 132.6h0M585.8 105.0h0M586.9 67.3h0M585.8 134.0h0M585.5 99.1h0M587.1 101.2h0M584.6 108.3h0M585.1 131.8h0M586.5 72.8h0M587.0 98.2h0M587.3 103.0h0M585.2 84.3h0M587.1 97.6h0M587.1 79.1h0M585.9 143.0h0M586.1 103.8h0M587.0 68.3h0M587.2 90.2h0M587.1 131.6h0M584.9 114.5h0M585.9 136.1h0M585.7 137.2h0M586.1 95.9h0M585.8 100.8h0M585.4 73.9h0M584.6 98.2h0M585.3 75.3h0M587.1 101.0h0M586.9 121.4h0M584.9 147.4h0M587.3 66.8h0M587.8 90.3h0M586.6 106.9h0M587.2 122.4h0M586.7 71.2h0M588.1 104.6h0M587.0 136.6h0M586.2 86.4h0M587.6 115.3h0M586.8 85.1h0M586.0 140.3h0M586.0 89.2h0M586.4 128.6h0M587.7 65.9h0M588.1 125.3h0M586.1 137.3h0M586.1 109.5h0M586.4 94.9h0M587.8 76.0h0M587.2 98.7h0M588.0 147.6h0M587.0 121.0h0M585.5 75.8h0M586.3 102.2h0M586.0 106.5h0M586.0 74.6h0M588.5 130.9h0M587.8 123.6h0M586.3 100.1h0M586.7 133.2h0M585.3 63.5h0M588.1 95.2h0M588.7 97.8h0M586.2 73.5h0M586.2 121.0h0M588.4 79.5h0M585.8 94.4h0M585.8 146.2h0M586.7 93.1h0M589.0 90.2h0M584.5 116.4h0M586.0 74.0h0M587.5 94.5h0M586.5 63.0h0M586.6 132.1h0M586.8 141.5h0M586.7 102.6h0M586.9 99.7h0M587.5 107.8h0M587.1 90.5h0M585.9 149.3h0M586.2 123.0h0M587.4 119.4h0M585.9 147.7h0M587.4 84.0h0M588.8 80.0h0M585.3 89.5h0M586.3 71.2h0M588.3 97.0h0M587.7 133.6h0M586.5 121.6h0M588.2 80.3h0M585.6 115.0h0M590.8 105.1h0M589.4 147.5h0M584.6 107.0h0M587.1 82.5h0M585.2 78.4h0M586.4 73.3h0M585.7 82.5h0M585.7 90.0h0M586.2 112.8h0M586.9 130.0h0M586.7 119.4h0M586.6 133.7h0M586.3 67.8h0M585.6 93.8h0M585.2 140.8h0M585.1 98.0h0M586.8 139.0h0M586.4 80.1h0M586.3 101.6h0M586.5 123.4h0M586.8 111.4h0M585.8 104.6h0M586.8 87.6h0M585.4 113.3h0M590.1 103.1h0M586.8 92.2h0M586.7 69.6h0M585.7 104.8h0M586.4 142.8h0M585.0 123.6h0M587.7 89.7h0M586.0 131.3h0M586.0 72.9h0M589.3 100.3h0M586.8 84.2h0M585.4 80.5h0M585.3 130.1h0M586.6 119.0h0M586.8 92.6h0M587.5 120.5h0M586.6 127.3h0M587.0 85.9h0M586.1 122.8h0M586.2 111.7h0M586.9 112.2h0M589.6 74.3h0M587.1 110.9h0M585.1 119.4h0M585.9 109.8h0M586.9 74.9h0M586.4 122.2h0M585.1 111.8h0M584.7 104.6h0M584.2 131.5h0M585.6 148.8h0M585.7 83.7h0M586.1 139.1h0M587.0 99.8h0M586.9 91.5h0M585.5 82.6h0M586.0 132.5h0M586.3 86.8h0M586.3 111.4h0M587.2 71.3h0M587.0 91.3h0M587.5 119.9h0M586.7 68.3h0M588.4 135.9h0M586.2 83.1h0M586.2 125.3h0M589.7 130.2h0M587.0 88.9h0M587.3 77.0h0M587.4 135.4h0M585.6 145.9h0M585.8 86.9h0M586.9 124.2h0M585.8 70.3h0M586.9 78.5h0M585.4 82.4h0M587.5 102.6h0M587.1 80.9h0M586.4 129.9h0M586.0 74.8h0M586.5 102.0h0M585.2 71.1h0M585.8 87.5h0M587.2 97.0h0M586.2 138.3h0M587.3 105.2h0M586.6 114.6h0M585.5 96.6h0M584.8 81.6h0M589.3 83.1h0M585.8 139.4h0M586.1 110.5h0M588.1 88.4h0M586.5 90.3h0M585.9 132.1h0M586.2 68.3h0M586.6 124.9h0M588.5 69.2h0M585.4 66.7h0M588.1 150.9h0M587.4 81.4h0M586.6 79.2h0M587.5 83.4h0M585.9 85.1h0M585.8 93.1h0M585.9 94.8h0M585.5 79.4h0M588.5 70.1h0M586.5 74.8h0M586.5 99.5h0M586.3 94.2h0M586.1 77.9h0M587.2 126.8h0M587.1 120.6h0M586.9 124.2h0M587.4 133.2h0M586.8 139.4h0M586.4 76.6h0M586.8 86.6h0M587.1 121.7h0M588.0 122.9h0M586.3 83.3h0M589.2 63.9h0M585.5 109.3h0M585.9 108.4h0M588.2 77.3h0M586.1 104.5h0M586.2 64.6h0M587.1 99.0h0M586.3 104.9h0M586.0 93.3h0M585.8 141.0h0M585.5 136.8h0M587.5 145.3h0M587.1 74.1h0M585.5 78.2h0M586.4 99.9h0M585.7 95.2h0M586.6 140.7h0M586.9 145.0h0M586.2 100.4h0M585.0 82.4h0M585.6 80.6h0M585.7 102.1h0M588.0 105.7h0M590.3 80.1h0M586.8 118.2h0M585.8 132.8h0M585.9 100.5h0M585.8 99.0h0M587.0 71.9h0M585.0 115.4h0M587.1 135.0h0M585.3 69.1h0M587.2 67.2h0M586.8 130.3h0M586.4 62.4h0M586.4 111.8h0M586.1 93.0h0M588.2 142.1h0M586.1 78.5h0M586.4 140.8h0M586.5 87.9h0M586.1 97.5h0M587.4 125.8h0M585.7 69.3h0M585.8 140.4h0M585.1 139.0h0M586.7 87.1h0M586.1 67.2h0M586.5 110.2h0M587.0 88.4h0M585.8 66.7h0M585.7 103.1h0M585.9 82.3h0M587.7 77.0h0M584.7 146.5h0M585.3 114.0h0M587.2 131.6h0M586.9 104.3h0M587.3 69.7h0M586.6 96.0h0M586.4 76.9h0M585.4 139.5h0M586.3 66.9h0M586.3 83.5h0M588.4 138.5h0M587.3 122.9h0M587.5 70.6h0M585.3 106.3h0M587.0 107.5h0M586.9 84.8h0M587.2 68.2h0M586.3 87.3h0M586.4 128.0h0M587.5 84.7h0M585.7 64.3h0M587.1 97.1h0M585.5 95.9h0M586.9 69.2h0M586.3 93.5h0M586.8 72.8h0M585.7 101.0h0M586.4 81.3h0M586.7 98.7h0M587.5 109.7h0M586.7 84.1h0M586.2 96.8h0M585.8 135.1h0M587.4 80.0h0M587.5 126.1h0M587.5 60.8h0M587.8 94.0h0M587.0 77.0h0M587.5 93.1h0M587.3 116.1h0M587.1 102.3h0M584.9 111.7h0M586.2 87.0h0M584.6 117.7h0M585.8 105.4h0M589.4 74.8h0M585.2 129.2h0M586.1 77.3h0M585.9 112.5h0M585.7 55.2h0M586.4 58.3h0M585.6 155.2h0M585.7 158.4h0M586.8 157.0h0M586.4 162.1h0M586.4 166.3h0M592.1 117.2h0M592.9 114.7h0M592.2 69.5h0M592.0 95.7h0M590.7 123.3h0M593.5 112.4h0M592.7 126.5h0M591.9 105.1h0M592.3 141.3h0M591.4 75.9h0M592.8 79.9h0M592.8 126.1h0M591.1 92.3h0M594.1 108.7h0M591.4 143.3h0M591.9 87.6h0M591.2 114.7h0M591.0 130.2h0M592.2 84.5h0M591.5 82.9h0M591.4 97.4h0M591.8 114.9h0M591.4 149.6h0M591.7 90.0h0M592.6 136.9h0M592.6 81.1h0M592.0 137.8h0M591.9 87.4h0M592.1 66.3h0M592.2 115.1h0M592.3 130.8h0M592.2 71.4h0M591.7 69.2h0M591.9 126.9h0M591.7 91.5h0M592.7 123.4h0M595.0 115.7h0M592.6 72.9h0M591.4 77.9h0M592.1 124.7h0M592.2 77.7h0M591.0 65.6h0M591.9 130.8h0M592.5 142.7h0M593.0 135.1h0M591.8 64.0h0M591.7 119.8h0M591.0 76.3h0M590.4 67.3h0M590.4 79.8h0M592.2 74.9h0M591.7 108.1h0M591.7 94.3h0M592.3 83.9h0M592.6 143.7h0M595.8 130.5h0M592.8 69.1h0M592.1 133.8h0M590.1 83.7h0M592.0 95.1h0M590.6 82.9h0M591.3 110.8h0M594.2 97.0h0M592.0 111.5h0M592.2 89.9h0M593.0 91.5h0M594.8 90.0h0M592.0 96.7h0M591.8 138.4h0M589.8 98.9h0M591.2 64.1h0M593.4 137.1h0M592.7 133.6h0M595.2 127.1h0M592.1 89.4h0M593.1 100.9h0M592.3 119.5h0M596.5 80.5h0M592.0 74.3h0M592.4 139.1h0M591.6 141.5h0M593.5 114.6h0M592.4 76.1h0M591.9 137.5h0M591.7 76.7h0M594.5 129.1h0M592.1 111.8h0M591.6 95.6h0M592.1 70.1h0M591.6 66.9h0M592.6 150.1h0M592.2 74.0h0M592.0 118.5h0M592.7 139.8h0M592.0 69.7h0M591.8 136.7h0M592.1 141.3h0M591.6 80.1h0M592.8 98.8h0M591.3 128.1h0M590.6 122.6h0M591.9 115.0h0M592.6 130.0h0M594.5 150.8h0M592.6 138.1h0M593.4 140.9h0M591.5 111.3h0M591.7 130.2h0M593.5 76.5h0M591.1 134.3h0M590.8 76.5h0M592.0 83.4h0M593.0 112.5h0M591.9 80.6h0M591.8 68.0h0M592.1 71.6h0M592.5 145.0h0M591.3 61.6h0M591.9 104.1h0M591.6 113.2h0M591.9 125.4h0M591.7 129.8h0M590.9 83.4h0M595.1 133.9h0M590.6 118.1h0M591.3 114.2h0M591.9 99.9h0M592.6 71.4h0M591.7 116.6h0M592.4 138.6h0M592.8 88.7h0M591.9 138.9h0M592.4 72.5h0M593.2 90.3h0M592.3 91.6h0M592.2 106.3h0M591.7 115.5h0M592.6 113.7h0M592.2 72.2h0M591.7 117.4h0M591.7 126.1h0M592.9 86.5h0M592.2 69.5h0M592.7 75.4h0M592.2 96.8h0M591.3 121.9h0M592.2 127.8h0M592.3 90.4h0M591.1 67.3h0M591.7 139.9h0M591.0 130.6h0M592.0 113.5h0M590.8 72.3h0M591.0 125.2h0M592.6 126.4h0M592.0 91.6h0M592.2 98.0h0M591.4 83.5h0M592.1 136.8h0M592.7 91.2h0M592.5 99.2h0M593.0 106.2h0M590.9 146.3h0M592.9 80.6h0M591.7 141.1h0M592.0 140.4h0M593.7 81.1h0M592.8 67.9h0M592.0 128.7h0M595.9 108.6h0M591.1 66.6h0M592.6 68.3h0M591.7 92.6h0M591.8 80.9h0M592.2 73.5h0M594.1 129.7h0M591.8 94.4h0M592.7 78.4h0M591.9 72.9h0M592.1 84.5h0M593.9 105.6h0M592.1 84.9h0M590.9 137.3h0M591.1 141.1h0M593.0 82.0h0M591.8 86.4h0M591.6 127.1h0M591.5 73.2h0M590.1 106.1h0M591.4 126.6h0M593.0 77.0h0M591.0 76.7h0M591.3 89.0h0M592.2 130.0h0M591.5 109.5h0M593.2 121.0h0M591.8 82.6h0M591.9 102.4h0M591.7 96.3h0M591.3 70.5h0M592.3 128.8h0M592.5 150.8h0M592.8 130.3h0M590.9 104.6h0M592.5 113.9h0M591.4 103.5h0M592.3 124.0h0M593.0 94.4h0M591.3 86.1h0M591.6 67.7h0M591.9 99.8h0M592.7 111.5h0M592.7 122.6h0M591.4 90.4h0M592.5 80.0h0M592.9 118.4h0M592.6 105.3h0M592.4 115.2h0M594.7 142.2h0M591.8 100.6h0M592.3 98.0h0M592.6 66.8h0M592.9 111.4h0M592.0 90.2h0M590.4 83.6h0M592.8 80.6h0M593.4 82.4h0M591.1 128.5h0M594.2 65.5h0M592.4 69.0h0M591.9 66.1h0M592.0 78.7h0M591.4 101.2h0M591.5 148.4h0M592.3 78.7h0M592.2 140.6h0M591.4 142.1h0M590.7 106.8h0M592.6 121.2h0M592.9 79.5h0M591.1 139.8h0M592.4 131.1h0M592.5 118.7h0M591.5 95.0h0M592.4 107.8h0M590.7 134.3h0M590.2 68.3h0M593.2 84.3h0M592.4 88.0h0M591.7 118.6h0M592.5 72.5h0M591.5 140.5h0M591.7 73.1h0M591.1 146.2h0M592.3 88.7h0M592.9 86.9h0M593.8 133.1h0M591.9 108.0h0M591.3 68.4h0M592.7 107.0h0M591.7 75.3h0M592.6 71.1h0M592.1 86.0h0M595.0 111.7h0M590.5 118.4h0M592.4 66.4h0M593.0 109.5h0M593.6 95.2h0M592.5 104.3h0M592.8 122.6h0M592.7 101.1h0M592.2 90.1h0M591.9 88.7h0M591.3 81.0h0M592.3 120.5h0M591.3 71.1h0M591.6 69.7h0M592.7 83.5h0M593.0 121.0h0M592.6 150.5h0M594.3 102.4h0M591.7 144.4h0M592.5 83.0h0M592.7 110.2h0M593.0 132.2h0M591.9 100.0h0M591.2 116.5h0M593.1 84.1h0M592.5 128.9h0M591.6 134.5h0M592.0 119.4h0M592.5 111.1h0M591.0 125.0h0M593.5 79.8h0M590.8 128.9h0M590.9 114.7h0M592.8 64.8h0M592.8 116.8h0M591.1 77.8h0M592.1 68.3h0M592.4 76.3h0M590.4 144.0h0M591.9 74.9h0M593.7 139.4h0M592.5 127.0h0M592.8 142.0h0M592.2 73.5h0M591.2 89.9h0M592.4 83.6h0M590.7 111.9h0M593.7 88.4h0M591.7 109.4h0M594.0 91.5h0M591.5 127.2h0M591.7 79.3h0M591.4 100.9h0M592.1 148.1h0M592.1 98.8h0M592.6 85.2h0M591.6 103.5h0M592.3 96.6h0M594.8 77.7h0M592.9 83.0h0M592.0 78.4h0M591.9 121.9h0M592.7 134.3h0M592.0 69.6h0M592.2 123.1h0M592.2 115.1h0M591.4 105.6h0M591.9 86.5h0M591.7 65.3h0M593.3 112.9h0M595.5 68.5h0M591.8 74.5h0M591.9 103.8h0M592.1 103.8h0M591.4 100.7h0M592.4 68.4h0M591.7 69.0h0M592.7 130.8h0M589.9 89.8h0M592.5 92.9h0M592.4 140.6h0M592.1 138.0h0M590.7 123.0h0M591.8 137.0h0M593.2 103.2h0M592.8 83.3h0M592.3 93.3h0M591.2 119.7h0M591.9 108.9h0M591.5 57.8h0M592.4 173.8h0M592.9 177.9h0M591.5 163.3h0M592.1 155.2h0M593.6 165.8h0M593.3 175.0h0M591.0 159.3h0M591.4 160.4h0M599.7 64.5h0M597.3 84.6h0M596.3 107.8h0M598.3 91.6h0M597.4 75.0h0M597.8 141.1h0M598.5 69.1h0M598.6 92.0h0M599.3 126.3h0M599.5 90.5h0M597.2 86.4h0M598.0 90.6h0M598.7 140.0h0M596.9 105.4h0M598.7 107.0h0M599.0 79.9h0M598.3 131.7h0M599.6 96.4h0M596.8 110.1h0M598.2 116.1h0M597.8 138.9h0M599.1 81.1h0M597.3 98.5h0M597.7 66.7h0M596.7 81.9h0M596.7 133.0h0M597.5 142.8h0M598.9 102.1h0M598.6 98.0h0M597.5 107.8h0M597.7 85.4h0M597.9 103.2h0M597.2 80.0h0M597.3 111.4h0M600.5 76.7h0M596.8 98.4h0M596.8 75.0h0M597.6 96.3h0M599.9 74.9h0M597.9 87.4h0M597.4 73.1h0M595.9 93.6h0M596.9 112.1h0M600.1 145.0h0M597.6 92.8h0M599.9 92.2h0M597.8 79.5h0M597.5 124.2h0M596.3 121.0h0M598.1 125.4h0M600.9 144.1h0M596.4 119.5h0M597.4 101.0h0M597.8 137.1h0M597.8 140.0h0M597.9 107.8h0M598.2 75.9h0M597.4 101.6h0M596.7 125.8h0M597.9 73.8h0M597.7 98.1h0M599.3 109.2h0M596.9 69.4h0M598.2 135.3h0M599.9 99.2h0M599.8 128.9h0M596.9 100.8h0M597.2 70.6h0M598.0 124.7h0M597.8 112.5h0M598.0 85.6h0M596.9 129.7h0M598.0 66.0h0M599.7 107.5h0M597.1 70.4h0M597.3 118.7h0M597.6 112.9h0M598.8 129.7h0M598.6 71.0h0M596.6 152.0h0M597.3 111.8h0M597.8 89.4h0M596.7 115.6h0M596.8 63.9h0M599.7 83.5h0M597.4 88.1h0M598.8 76.2h0M598.9 135.5h0M597.6 74.1h0M598.2 84.5h0M597.3 72.6h0M597.3 126.9h0M599.2 76.5h0M598.8 142.4h0M597.0 141.9h0M601.4 129.4h0M597.1 84.1h0M597.2 66.7h0M597.2 71.1h0M598.0 97.8h0M598.6 86.7h0M597.1 77.4h0M598.9 89.6h0M601.2 113.9h0M597.3 64.0h0M598.0 77.0h0M596.3 122.2h0M597.9 66.5h0M597.4 70.7h0M596.7 98.0h0M598.3 84.8h0M597.4 119.5h0M597.3 72.1h0M597.7 63.5h0M599.7 66.2h0M597.0 137.6h0M597.9 92.8h0M598.9 137.6h0M598.5 80.7h0M597.7 79.2h0M598.1 78.5h0M600.5 65.5h0M597.8 81.6h0M596.9 135.3h0M597.6 74.0h0M598.7 122.7h0M598.6 104.6h0M597.6 105.6h0M598.4 83.2h0M597.5 84.6h0M598.2 108.6h0M596.7 136.7h0M598.6 80.5h0M597.9 108.9h0M595.9 65.1h0M597.2 86.4h0M601.9 80.6h0M598.1 111.1h0M597.8 128.1h0M598.8 142.6h0M598.0 116.5h0M597.7 129.4h0M597.5 96.8h0M598.1 117.7h0M596.9 80.2h0M601.0 118.7h0M598.9 85.9h0M599.7 68.3h0M599.7 93.6h0M598.4 80.3h0M597.6 102.3h0M597.9 132.9h0M598.6 89.8h0M597.6 93.6h0M598.8 81.1h0M596.9 124.7h0M598.1 71.1h0M596.4 84.1h0M596.7 130.9h0M599.8 93.3h0M597.7 106.8h0M597.9 147.8h0M597.6 135.4h0M598.6 78.0h0M600.9 88.2h0M597.1 91.1h0M597.8 98.3h0M597.4 94.6h0M598.5 119.0h0M598.2 105.9h0M596.8 118.6h0M601.0 70.6h0M598.6 76.6h0M597.5 87.3h0M598.2 120.5h0M597.0 78.5h0M598.7 100.3h0M597.2 97.3h0M597.7 67.9h0M598.7 132.5h0M597.1 118.3h0M598.0 100.4h0M598.4 143.9h0M597.8 139.0h0M596.9 119.5h0M598.1 115.4h0M599.1 75.5h0M598.8 64.2h0M597.6 116.0h0M598.6 93.5h0M597.6 134.9h0M597.6 140.7h0M597.9 115.9h0M598.2 89.5h0M596.5 90.3h0M597.0 103.1h0M597.5 83.0h0M596.9 67.0h0M597.6 124.7h0M597.8 112.1h0M597.9 125.5h0M598.4 79.4h0M597.6 92.3h0M596.9 99.5h0M596.7 71.0h0M597.3 127.7h0M596.9 86.6h0M600.7 82.1h0M597.1 80.2h0M597.4 139.9h0M597.6 83.1h0M598.7 115.7h0M598.0 110.3h0M598.1 77.0h0M597.8 116.6h0M597.7 75.3h0M598.2 90.1h0M598.9 66.3h0M598.4 100.8h0M597.8 67.4h0M598.2 116.9h0M599.1 118.6h0M598.8 81.8h0M596.7 68.0h0M599.4 83.3h0M597.6 107.7h0M597.7 73.7h0M596.5 79.5h0M598.4 81.7h0M596.3 67.2h0M598.0 141.7h0M598.5 94.6h0M598.6 90.3h0M600.0 63.5h0M597.5 104.7h0M597.6 72.3h0M597.6 117.3h0M597.0 84.4h0M598.1 88.6h0M597.7 85.9h0M599.0 108.7h0M597.9 116.2h0M597.5 68.2h0M596.9 81.8h0M596.3 113.6h0M597.3 95.3h0M597.4 140.4h0M596.9 84.0h0M597.3 76.3h0M598.1 102.4h0M597.3 140.7h0M597.5 93.3h0M596.7 120.3h0M599.1 132.1h0M597.9 110.6h0M597.1 88.7h0M598.3 142.3h0M597.8 138.9h0M597.5 74.1h0M598.0 78.9h0M598.5 65.8h0M600.8 141.8h0M598.7 85.4h0M597.7 72.0h0M597.5 122.2h0M599.0 104.4h0M597.6 70.5h0M598.3 146.0h0M597.6 80.6h0M597.0 66.6h0M597.2 85.1h0M597.2 86.3h0M598.9 142.1h0M596.8 81.1h0M597.5 100.1h0M597.6 83.9h0M596.9 92.8h0M597.9 100.8h0M597.7 69.3h0M597.0 72.9h0M596.8 100.5h0M598.0 116.7h0M596.3 127.3h0M599.7 106.3h0M598.6 135.7h0M596.6 81.8h0M597.0 70.6h0M596.5 99.2h0M595.8 141.7h0M598.7 146.1h0M597.4 121.4h0M597.4 101.4h0M597.7 74.3h0M597.1 100.0h0M598.2 101.0h0M597.1 82.9h0M597.4 115.2h0M597.3 82.0h0M597.1 95.7h0M597.8 139.0h0M597.9 93.8h0M596.5 105.8h0M601.9 76.9h0M598.6 109.4h0M596.6 117.9h0M598.8 92.1h0M597.1 105.8h0M597.5 77.8h0M598.0 67.0h0M597.5 107.9h0M598.4 138.5h0M597.7 68.7h0M599.7 129.3h0M596.5 101.9h0M596.8 66.7h0M598.2 129.2h0M598.5 83.9h0M598.3 81.4h0M598.5 83.4h0M599.6 88.0h0M598.2 82.3h0M598.6 70.4h0M596.5 91.6h0M597.4 78.9h0M598.8 128.5h0M596.9 100.5h0M597.5 97.9h0M595.8 90.4h0M598.7 104.3h0M598.7 134.4h0M598.6 94.9h0M597.4 74.3h0M597.6 76.7h0M597.7 139.8h0M600.3 129.7h0M597.5 101.3h0M596.9 86.9h0M600.2 78.0h0M598.1 93.4h0M599.4 127.5h0M597.1 93.2h0M596.8 84.2h0M598.6 144.4h0M598.1 89.0h0M596.6 72.3h0M598.1 140.1h0M596.9 136.2h0M596.9 68.6h0M597.3 86.0h0M599.0 104.0h0M598.1 134.1h0M597.6 118.2h0M597.1 145.3h0M596.1 69.9h0M596.2 132.7h0M596.7 92.7h0M597.1 76.8h0M598.5 119.5h0M599.8 71.4h0M597.0 75.4h0M597.4 114.1h0M595.8 162.5h0M598.6 159.2h0M597.6 176.0h0M597.1 161.5h0M596.6 165.6h0M596.4 165.8h0M602.9 68.3h0M604.5 85.7h0M604.1 118.8h0M603.4 115.4h0M606.8 76.0h0M604.3 66.3h0M605.2 84.3h0M604.4 84.3h0M602.8 76.1h0M603.3 127.2h0M602.3 82.1h0M603.5 79.8h0M603.0 66.2h0M604.5 104.5h0M603.7 106.0h0M603.8 117.9h0M603.3 97.0h0M603.3 117.8h0M602.8 68.9h0M603.7 139.5h0M603.6 94.1h0M602.8 87.4h0M603.5 75.0h0M604.5 121.7h0M602.9 105.4h0M605.8 67.7h0M604.7 90.7h0M605.2 126.0h0M603.9 86.2h0M603.4 116.0h0M602.5 70.2h0M603.4 129.1h0M603.6 89.8h0M602.9 128.6h0M604.7 82.0h0M604.0 87.2h0M603.3 148.5h0M603.3 69.4h0M603.9 89.0h0M603.5 70.4h0M604.2 99.0h0M603.9 90.4h0M603.7 122.0h0M602.4 71.5h0M603.7 79.2h0M605.3 83.7h0M603.3 117.0h0M603.0 80.3h0M603.5 87.9h0M602.8 122.7h0M606.2 122.2h0M603.1 108.3h0M604.8 148.7h0M604.2 115.5h0M603.5 129.2h0M602.7 65.0h0M602.1 108.7h0M604.2 66.9h0M606.9 104.3h0M604.3 118.7h0M603.1 91.0h0M603.4 85.6h0M603.5 80.1h0M606.4 118.6h0M603.7 63.6h0M603.7 79.7h0M604.8 103.0h0M603.5 62.5h0M602.6 104.1h0M603.9 95.7h0M603.6 77.1h0M603.2 74.7h0M606.8 113.8h0M603.8 74.1h0M604.7 120.4h0M604.2 102.6h0M603.8 107.0h0M602.7 78.4h0M603.8 138.0h0M604.0 134.0h0M605.1 83.4h0M605.0 83.1h0M603.9 120.7h0M602.5 119.0h0M603.8 64.6h0M604.5 104.0h0M604.2 90.8h0M603.1 113.1h0M603.0 102.6h0M602.1 73.8h0M602.2 126.7h0M604.5 134.6h0M606.4 97.5h0M603.9 84.6h0M603.1 113.7h0M602.5 130.4h0M602.4 126.7h0M603.3 112.2h0M602.5 121.5h0M603.9 84.3h0M603.4 85.7h0M604.4 75.9h0M602.2 79.8h0M602.3 130.5h0M602.3 76.5h0M603.5 80.1h0M602.5 102.4h0M603.8 65.1h0M604.1 146.3h0M603.4 106.4h0M602.1 123.4h0M603.0 119.4h0M603.9 75.0h0M604.2 111.7h0M603.8 82.8h0M603.1 106.9h0M602.7 102.5h0M606.2 87.0h0M601.4 142.3h0M603.1 143.2h0M604.4 122.5h0M602.4 99.5h0M604.2 76.3h0M602.6 149.4h0M603.1 101.0h0M603.9 90.6h0M603.9 79.9h0M603.2 132.1h0M603.0 96.3h0M603.7 100.6h0M604.5 116.4h0M603.3 105.4h0M602.3 107.7h0M603.1 109.8h0M603.1 94.8h0M602.9 73.5h0M603.3 90.6h0M602.7 94.8h0M603.6 71.8h0M601.9 101.4h0M603.8 98.2h0M604.1 97.8h0M603.5 84.9h0M603.8 115.2h0M606.5 110.0h0M603.9 126.4h0M603.1 95.2h0M603.2 76.9h0M603.5 135.6h0M602.8 84.5h0M604.2 105.3h0M602.7 65.8h0M602.8 105.7h0M606.8 78.8h0M604.5 112.1h0M602.6 86.4h0M603.8 132.0h0M603.1 83.8h0M604.4 76.6h0M603.9 110.3h0M602.6 77.6h0M603.0 116.0h0M603.9 108.6h0M606.6 75.6h0M603.6 111.4h0M603.4 122.1h0M603.3 94.6h0M604.4 126.3h0M603.2 70.2h0M603.8 91.1h0M603.8 131.5h0M604.2 122.9h0M603.9 141.7h0M604.2 123.8h0M602.3 130.8h0M603.2 145.1h0M603.1 71.6h0M604.3 83.5h0M603.6 138.6h0M602.9 119.8h0M604.1 138.6h0M603.1 117.3h0M603.6 78.1h0M605.7 82.5h0M604.0 104.3h0M603.3 100.7h0M603.2 73.6h0M602.4 138.3h0M604.3 117.8h0M603.4 92.7h0M604.0 91.7h0M604.0 107.1h0M606.6 129.5h0M604.3 86.8h0M602.7 130.2h0M602.8 87.3h0M603.9 92.2h0M603.3 127.8h0M603.2 76.0h0M602.8 114.8h0M602.8 116.1h0M603.8 74.7h0M603.9 132.7h0M602.6 123.7h0M602.9 136.1h0M603.5 84.9h0M603.2 102.2h0M603.8 101.9h0M601.7 74.6h0M601.5 110.9h0M602.9 96.3h0M603.4 89.7h0M602.7 89.0h0M603.9 123.9h0M603.9 117.8h0M603.2 130.5h0M603.0 92.8h0M604.5 75.6h0M602.6 102.1h0M603.4 121.8h0M602.5 143.1h0M604.5 134.7h0M603.0 116.4h0M602.5 129.1h0M603.9 144.0h0M604.0 135.7h0M602.6 132.9h0M604.4 145.0h0M603.3 127.2h0M602.7 100.5h0M602.8 115.7h0M604.1 71.3h0M604.6 126.6h0M603.7 98.5h0M604.8 106.9h0M604.4 142.2h0M603.9 76.6h0M603.2 115.8h0M602.9 127.1h0M602.9 120.7h0M603.8 76.6h0M602.6 136.0h0M602.2 109.2h0M603.2 138.9h0M603.7 82.1h0M604.0 140.0h0M606.7 88.1h0M602.7 91.9h0M603.8 123.7h0M603.2 93.6h0M603.6 146.0h0M602.7 137.2h0M604.8 75.2h0M602.9 68.8h0M603.3 107.2h0M604.0 141.5h0M604.3 78.4h0M603.4 71.2h0M604.9 128.5h0M601.8 75.6h0M603.1 129.1h0M603.7 145.5h0M603.4 87.1h0M603.4 106.9h0M603.3 96.7h0M604.0 127.7h0M605.9 96.1h0M603.6 88.1h0M603.1 117.8h0M604.8 70.5h0M604.6 131.5h0M603.9 106.5h0M603.6 125.3h0M603.6 100.8h0M604.0 79.6h0M602.6 113.5h0M604.6 128.4h0M602.6 126.8h0M603.6 140.9h0M601.7 82.3h0M602.2 91.9h0M603.9 135.0h0M603.9 128.6h0M603.0 81.8h0M603.7 111.4h0M603.9 88.4h0M604.2 73.4h0M604.4 142.8h0M604.4 75.9h0M603.7 120.7h0M604.9 128.2h0M602.3 73.7h0M604.3 74.2h0M604.1 90.1h0M602.9 146.8h0M604.5 73.2h0M603.7 111.1h0M603.0 143.3h0M605.0 92.9h0M603.2 65.6h0M603.6 67.1h0M603.0 90.2h0M603.6 63.1h0M605.7 68.9h0M603.7 108.3h0M603.1 78.2h0M603.4 89.3h0M602.7 134.1h0M602.6 68.1h0M603.1 96.1h0M603.4 136.1h0M603.0 75.0h0M604.0 93.9h0M603.8 119.7h0M602.3 159.2h0M603.2 163.0h0M603.0 156.4h0M604.0 179.3h0M607.5 91.4h0M609.4 132.4h0M608.9 104.0h0M609.5 92.5h0M608.3 131.1h0M610.5 74.0h0M608.9 75.2h0M609.0 94.7h0M609.1 120.0h0M609.4 132.1h0M610.2 82.6h0M609.5 121.4h0M611.3 142.6h0M609.3 67.7h0M609.2 80.1h0M607.4 94.0h0M608.5 140.9h0M608.9 121.4h0M609.2 131.5h0M610.3 79.6h0M608.7 84.2h0M608.5 106.0h0M609.7 70.9h0M609.0 86.9h0M609.2 100.1h0M608.2 71.8h0M607.4 82.8h0M609.4 88.0h0M608.9 70.5h0M609.2 121.2h0M609.0 74.7h0M609.0 134.1h0M608.4 127.6h0M610.3 79.7h0M610.9 111.3h0M608.9 88.5h0M609.2 130.8h0M609.0 75.3h0M609.7 121.2h0M610.1 120.2h0M609.5 110.1h0M608.2 71.4h0M609.6 139.1h0M612.6 106.0h0M609.7 77.6h0M608.0 97.4h0M608.7 79.6h0M609.5 75.6h0M610.5 80.1h0M609.1 75.7h0M608.3 105.3h0M609.5 145.9h0M608.7 119.1h0M608.8 113.7h0M608.6 130.1h0M609.8 109.1h0M609.6 119.0h0M609.1 112.4h0M608.1 95.5h0M608.1 97.0h0M608.4 137.7h0M608.7 108.6h0M607.8 135.4h0M609.6 138.7h0M609.7 114.1h0M608.7 88.6h0M609.1 72.5h0M608.8 73.8h0M609.2 149.1h0M609.4 88.9h0M609.2 73.0h0M609.5 66.7h0M608.6 112.3h0M608.5 133.2h0M609.5 104.5h0M609.8 109.2h0M609.9 126.1h0M608.0 76.1h0M610.2 68.5h0M608.4 71.5h0M608.7 129.3h0M609.6 84.6h0M610.1 73.9h0M608.7 126.5h0M608.9 100.8h0M608.7 116.7h0M609.2 124.6h0M609.1 141.9h0M609.4 136.2h0M611.4 76.8h0M608.2 109.9h0M609.3 90.5h0M610.3 98.6h0M608.7 108.5h0M610.2 64.8h0M609.3 128.2h0M609.9 96.6h0M609.2 100.0h0M611.2 96.4h0M608.9 118.8h0M608.0 96.7h0M609.1 121.3h0M609.5 94.2h0M609.5 106.7h0M609.6 142.3h0M610.2 122.2h0M609.7 126.9h0M609.1 79.4h0M609.4 143.8h0M608.6 142.6h0M608.7 102.9h0M609.0 68.3h0M610.6 129.5h0M608.7 77.2h0M609.6 144.6h0M609.8 70.3h0M612.6 76.0h0M608.3 127.2h0M609.4 61.5h0M609.6 116.1h0M608.6 91.4h0M607.7 121.7h0M607.9 96.5h0M608.9 76.4h0M608.4 92.0h0M608.7 127.8h0M609.2 112.2h0M610.0 71.7h0M608.9 100.0h0M608.6 72.8h0M609.4 142.1h0M610.0 66.9h0M608.8 70.9h0M609.2 80.7h0M609.8 109.0h0M608.1 86.6h0M608.5 86.5h0M608.9 90.4h0M609.2 116.9h0M610.4 118.6h0M609.8 78.4h0M610.4 88.1h0M610.0 99.0h0M608.8 137.9h0M608.0 81.1h0M609.7 127.7h0M607.7 114.6h0M608.8 75.1h0M609.3 107.1h0M610.3 77.3h0M607.9 143.2h0M609.4 108.1h0M610.3 91.3h0M608.8 137.0h0M607.9 120.8h0M609.1 102.5h0M609.6 101.3h0M609.2 74.5h0M609.0 131.8h0M609.9 74.5h0M609.6 72.9h0M608.7 89.6h0M608.9 115.1h0M607.9 145.8h0M613.1 126.7h0M608.5 96.2h0M610.3 120.1h0M609.5 70.3h0M609.2 105.0h0M608.6 83.9h0M609.8 115.9h0M609.2 105.3h0M608.3 71.3h0M609.0 62.3h0M608.8 85.5h0M608.4 124.4h0M608.9 77.6h0M608.4 74.7h0M608.4 130.2h0M608.1 99.6h0M608.9 95.5h0M608.8 72.3h0M608.3 84.0h0M609.6 69.9h0M609.9 129.0h0M609.5 126.2h0M607.8 116.3h0M608.9 117.6h0M609.2 110.1h0M609.4 108.9h0M610.1 108.7h0M609.4 108.3h0M609.2 123.1h0M609.7 121.0h0M609.4 105.9h0M609.6 105.6h0M610.1 89.4h0M608.7 121.3h0M611.1 72.1h0M608.9 114.8h0M610.7 91.1h0M609.3 101.0h0M609.2 89.7h0M609.2 106.5h0M609.0 97.8h0M608.9 84.6h0M608.6 93.3h0M609.7 92.9h0M609.1 88.8h0M610.2 111.4h0M608.7 111.7h0M608.5 83.1h0M609.4 84.6h0M608.9 70.9h0M609.0 102.3h0M609.3 93.6h0M609.5 141.2h0M607.9 81.5h0M607.0 91.6h0M608.5 73.3h0M607.0 131.9h0M608.8 85.0h0M609.4 76.4h0M609.4 97.2h0M608.4 96.8h0M609.2 118.8h0M609.3 94.4h0M608.4 122.1h0M609.9 113.5h0M607.8 119.5h0M608.8 98.4h0M609.0 88.5h0M609.5 115.0h0M609.5 105.0h0M610.5 90.1h0M608.4 74.0h0M609.1 103.6h0M608.3 73.5h0M609.5 74.8h0M609.3 141.5h0M609.3 92.0h0M609.2 76.4h0M607.9 76.7h0M610.2 77.7h0M610.7 69.3h0M608.3 64.7h0M608.5 125.6h0M609.1 131.9h0M609.4 137.7h0M609.2 116.3h0M612.1 115.8h0M609.3 73.3h0M610.2 112.9h0M608.9 126.0h0M610.6 116.6h0M610.2 126.8h0M612.1 80.5h0M609.7 146.9h0M609.4 62.8h0M608.4 79.7h0M608.3 110.1h0M608.9 91.8h0M609.5 130.7h0M608.9 106.0h0M610.4 91.8h0M612.9 101.0h0M608.3 72.3h0M608.3 77.4h0M609.4 85.3h0M609.5 101.6h0M608.9 85.1h0M608.5 78.8h0M609.1 78.5h0M608.9 117.4h0M608.4 151.2h0M608.1 67.6h0M608.5 104.7h0M614.4 96.0h0M607.9 127.6h0M608.1 82.2h0M608.8 86.9h0M609.1 84.7h0M609.0 71.9h0M609.7 132.7h0M608.9 67.5h0M609.6 124.8h0M610.5 67.3h0M610.2 101.6h0M607.8 100.9h0M609.3 106.7h0M608.4 108.1h0M608.7 122.7h0M608.8 89.9h0M609.2 72.8h0M607.9 81.9h0M609.3 77.4h0M608.4 90.5h0M608.4 97.2h0M609.6 144.0h0M610.0 70.9h0M608.4 122.4h0M608.0 79.2h0M610.0 133.4h0M608.3 67.7h0M610.3 77.0h0M609.2 114.5h0M608.9 89.2h0M608.8 112.6h0M607.9 85.5h0M609.2 95.7h0M609.4 84.3h0M607.0 134.4h0M609.1 135.5h0M608.7 79.4h0M608.9 104.3h0M609.0 96.0h0M609.4 147.4h0M608.9 129.0h0M609.5 59.3h0M608.3 176.5h0M609.2 155.7h0M608.1 175.5h0M608.4 160.5h0M608.6 172.2h0M609.8 165.3h0M614.4 112.9h0M616.2 86.7h0M615.2 145.5h0M614.4 83.9h0M613.8 87.8h0M615.1 110.2h0M614.1 112.3h0M614.3 140.7h0M614.5 61.1h0M615.5 79.6h0M614.0 121.1h0M613.9 66.5h0M614.1 108.3h0M614.4 99.3h0M614.3 82.6h0M614.9 68.4h0M614.6 66.4h0M615.7 120.0h0M614.4 89.8h0M614.8 115.0h0M615.3 75.0h0M613.8 92.6h0M617.1 110.8h0M614.2 121.2h0M614.3 77.3h0M614.0 105.5h0M614.5 72.1h0M614.5 119.3h0M614.2 107.9h0M614.8 113.3h0M615.1 75.7h0M614.8 92.5h0M614.9 70.7h0M612.7 112.1h0M613.4 111.9h0M614.8 80.7h0M614.6 69.2h0M615.5 73.3h0M614.9 143.9h0M616.1 92.0h0M615.0 115.8h0M615.0 93.6h0M614.9 71.9h0M614.1 91.5h0M614.0 70.7h0M615.5 134.4h0M614.4 95.2h0M615.2 93.8h0M614.0 89.4h0M614.6 73.3h0M613.1 124.8h0M613.4 73.4h0M614.7 77.0h0M613.8 103.5h0M613.8 143.9h0M614.6 79.1h0M616.1 96.0h0M617.0 138.8h0M614.1 141.7h0M614.6 74.2h0M615.2 121.3h0M613.8 99.5h0M614.4 81.0h0M613.7 119.6h0M614.0 135.2h0M615.4 84.0h0M614.9 129.0h0M614.3 103.9h0M615.2 71.4h0M615.1 85.2h0M613.8 78.8h0M614.4 107.9h0M615.4 70.9h0M615.3 141.8h0M618.7 90.4h0M615.5 112.7h0M614.5 90.4h0M614.7 104.4h0M615.9 127.0h0M614.9 70.5h0M613.6 94.7h0M617.1 112.1h0M615.9 104.3h0M614.8 122.2h0M615.1 84.3h0M615.5 112.7h0M614.8 99.2h0M614.7 86.5h0M614.4 106.7h0M615.3 82.6h0M615.1 116.5h0M614.0 74.2h0M614.1 76.7h0M617.5 126.7h0M615.1 74.2h0M615.5 105.9h0M614.0 75.7h0M614.5 104.1h0M614.5 75.9h0M615.0 130.7h0M613.6 68.7h0M615.2 72.5h0M615.2 72.6h0M614.4 61.5h0M615.0 71.1h0M615.0 119.9h0M614.7 92.6h0M615.5 101.6h0M613.8 75.9h0M614.3 67.2h0M614.9 127.7h0M615.7 92.1h0M614.2 68.1h0M614.5 105.6h0M614.4 72.5h0M613.7 118.5h0M614.3 77.9h0M614.5 65.7h0M616.3 92.5h0M614.1 106.8h0M613.3 78.8h0M613.4 139.1h0M614.6 114.1h0M614.2 87.6h0M614.2 120.5h0M613.3 137.7h0M614.9 99.0h0M613.1 132.7h0M613.8 99.7h0M613.5 106.4h0M619.9 113.3h0M614.5 124.4h0M615.4 105.8h0M613.9 130.8h0M613.4 119.8h0M614.8 134.9h0M615.3 121.4h0M614.8 135.3h0M618.8 79.4h0M615.7 121.1h0M614.0 88.5h0M615.6 115.5h0M615.4 82.5h0M617.8 111.9h0M614.5 111.0h0M615.6 85.5h0M615.1 103.9h0M615.7 67.4h0M614.1 122.5h0M614.4 125.0h0M615.9 115.9h0M613.7 95.7h0M613.9 116.2h0M615.5 125.1h0M614.5 145.4h0M614.6 76.8h0M614.9 115.1h0M618.0 72.6h0M615.3 102.9h0M614.8 103.8h0M615.2 95.5h0M614.3 104.8h0M615.1 79.6h0M614.0 125.9h0M614.4 120.5h0M614.4 82.5h0M616.2 73.8h0M614.1 65.0h0M614.5 88.6h0M615.2 103.7h0M614.7 126.7h0M615.3 129.8h0M614.4 131.6h0M615.7 113.3h0M615.4 71.6h0M615.8 96.8h0M615.6 123.7h0M615.0 71.1h0M612.9 121.0h0M615.1 90.8h0M614.3 82.8h0M615.3 69.6h0M615.5 108.2h0M614.6 139.8h0M614.2 113.4h0M614.8 146.9h0M615.6 84.0h0M619.0 150.5h0M614.8 92.6h0M614.4 66.6h0M614.3 91.3h0M615.0 77.4h0M614.0 147.7h0M614.2 67.9h0M614.8 108.8h0M614.0 63.7h0M614.3 129.0h0M617.3 104.3h0M615.2 80.7h0M616.0 139.6h0M614.4 99.6h0M614.9 127.4h0M616.5 121.6h0M617.5 72.7h0M614.7 104.5h0M614.0 99.5h0M613.1 78.8h0M615.3 76.9h0M614.1 75.2h0M618.1 139.0h0M615.0 81.3h0M613.9 138.0h0M614.6 114.8h0M613.2 88.1h0M613.5 104.3h0M615.0 141.1h0M613.6 90.4h0M613.8 81.0h0M614.5 80.1h0M613.2 89.8h0M615.2 85.5h0M615.8 142.3h0M615.4 144.7h0M614.6 68.9h0M615.3 76.1h0M614.1 68.4h0M614.2 81.0h0M615.0 119.5h0M615.2 83.9h0M614.5 124.4h0M615.7 100.9h0M615.8 70.6h0M618.6 137.5h0M613.4 91.7h0M612.9 134.1h0M614.2 87.6h0M614.8 125.1h0M615.3 93.0h0M618.4 70.0h0M614.0 72.4h0M614.6 115.2h0M615.8 86.9h0M614.6 71.0h0M617.2 130.2h0M614.9 74.1h0M615.3 138.3h0M614.2 121.0h0M616.7 73.3h0M614.2 74.1h0M613.8 101.9h0M613.7 146.5h0M615.1 68.5h0M613.6 118.4h0M615.0 126.9h0M615.0 68.2h0M615.6 133.9h0M615.8 139.1h0M615.2 67.7h0M614.6 142.3h0M613.7 124.2h0M615.7 71.3h0M614.3 69.0h0M614.7 121.6h0M614.7 64.4h0M614.3 76.5h0M614.7 77.7h0M616.0 117.8h0M615.2 149.3h0M615.6 143.3h0M615.4 124.8h0M616.1 113.5h0M614.7 127.4h0M614.5 82.2h0M615.9 72.0h0M615.8 110.0h0M615.4 136.7h0M615.3 109.6h0M615.0 77.1h0M615.0 115.2h0M614.2 68.7h0M614.4 65.8h0M615.9 108.0h0M614.8 115.8h0M615.7 79.8h0M614.3 83.2h0M614.3 94.9h0M613.7 77.5h0M613.5 121.8h0M615.3 121.7h0M613.5 129.2h0M613.3 128.4h0M613.3 77.9h0M615.0 93.4h0M615.6 123.3h0M615.1 63.8h0M614.3 86.5h0M615.5 117.3h0M615.2 114.1h0M614.2 96.7h0M614.3 148.5h0M615.3 139.3h0M616.2 94.7h0M614.7 72.2h0M614.8 70.2h0M615.4 116.2h0M614.4 142.5h0M615.3 71.3h0M613.9 75.8h0M613.9 62.1h0M614.5 103.0h0M613.8 77.3h0M615.2 106.6h0M615.1 117.2h0M615.5 134.3h0M615.8 109.0h0M615.0 74.1h0M615.1 78.0h0M615.4 73.8h0M615.5 141.9h0M614.3 98.4h0M613.3 102.1h0M613.2 115.8h0M613.5 155.7h0M617.4 162.0h0M613.3 154.7h0M614.4 168.6h0M620.6 72.7h0M620.2 142.4h0M619.8 130.9h0M620.0 112.8h0M619.5 105.1h0M619.5 120.5h0M620.7 74.5h0M620.9 106.8h0M620.5 109.5h0M620.0 65.3h0M620.2 72.7h0M620.6 117.5h0M620.3 139.8h0M620.4 104.4h0M620.2 73.9h0M620.3 98.6h0M620.8 72.8h0M620.5 93.1h0M620.2 98.1h0M620.4 123.4h0M620.6 84.0h0M620.4 121.1h0M619.7 85.0h0M620.3 114.2h0M620.9 83.6h0M620.4 109.3h0M620.1 69.7h0M620.6 125.0h0M620.7 102.8h0M620.4 98.2h0M619.7 64.2h0M620.8 81.1h0M620.3 130.9h0M620.3 86.0h0M619.2 114.0h0M621.4 133.8h0M619.5 123.1h0M623.0 81.7h0M620.7 133.2h0M623.7 98.5h0M621.2 141.9h0M621.3 135.3h0M620.6 90.8h0M619.3 102.4h0M620.8 145.2h0M621.5 121.2h0M619.4 134.6h0M619.5 127.7h0M620.3 102.6h0M621.1 62.3h0M620.1 77.8h0M620.4 93.3h0M620.8 93.1h0M619.5 100.2h0M620.3 82.5h0M619.3 89.7h0M620.4 88.5h0M619.6 89.4h0M620.3 145.8h0M619.9 86.7h0M620.5 82.5h0M619.5 133.6h0M620.1 90.0h0M622.9 90.2h0M621.0 107.9h0M621.1 84.2h0M620.0 88.6h0M621.0 131.2h0M618.7 78.5h0M621.0 73.4h0M621.1 121.5h0M619.5 78.0h0M623.6 136.1h0M620.9 65.4h0M620.2 132.9h0M620.2 128.4h0M619.7 98.7h0M620.3 146.5h0M622.1 100.9h0M620.4 94.0h0M620.4 86.9h0M619.8 150.4h0M620.7 138.3h0M621.6 127.1h0M619.4 112.4h0M621.0 124.9h0M620.5 115.9h0M619.1 111.8h0M619.9 73.2h0M620.7 126.8h0M621.1 142.5h0M620.4 71.9h0M623.8 108.9h0M621.1 104.0h0M619.8 103.6h0M618.4 108.2h0M620.3 110.8h0M619.8 81.1h0M620.7 123.8h0M620.3 111.5h0M619.8 73.4h0M619.1 125.4h0M620.9 99.5h0M620.4 117.0h0M620.9 112.7h0M620.4 95.1h0M621.8 121.8h0M619.8 86.3h0M620.4 130.7h0M621.4 89.3h0M619.5 118.0h0M620.6 70.7h0M620.3 84.9h0M619.7 122.9h0M621.2 84.2h0M619.8 140.7h0M621.0 132.5h0M623.0 129.5h0M618.5 70.5h0M619.8 72.0h0M621.7 128.3h0M620.2 92.4h0M620.2 75.4h0M622.4 98.0h0M620.3 77.2h0M618.9 85.5h0M620.4 111.6h0M620.2 119.3h0M622.6 117.9h0M620.0 141.0h0M621.0 119.5h0M620.6 73.9h0M619.4 73.7h0M620.3 92.7h0M621.5 123.1h0M620.5 146.3h0M621.9 76.1h0M621.2 79.9h0M620.4 132.0h0M619.9 69.2h0M619.8 104.2h0M623.6 89.9h0M619.0 111.9h0M620.9 81.4h0M621.1 86.9h0M620.8 83.3h0M620.3 120.3h0M619.7 88.4h0M619.7 93.0h0M619.4 70.7h0M620.0 90.7h0M621.0 80.8h0M620.7 87.0h0M620.7 87.6h0M618.8 79.9h0M621.2 113.6h0M621.1 152.0h0M620.5 109.7h0M621.2 122.5h0M621.9 85.1h0M620.0 97.4h0M621.1 85.5h0M620.2 111.6h0M619.9 125.2h0M620.7 80.1h0M621.1 81.7h0M621.3 110.6h0M620.3 102.7h0M624.1 94.6h0M619.5 141.4h0M619.2 101.9h0M623.5 76.7h0M620.4 129.5h0M621.2 86.8h0M620.3 106.8h0M621.5 82.6h0M621.4 115.6h0M620.4 83.4h0M623.3 141.0h0M620.1 125.5h0M619.3 107.6h0M619.6 80.9h0M619.9 83.1h0M620.5 86.0h0M619.5 81.5h0M620.5 83.0h0M621.6 69.5h0M620.8 96.0h0M620.5 132.1h0M621.0 72.3h0M623.3 72.0h0M620.7 83.2h0M624.1 140.9h0M619.7 126.3h0M620.3 103.2h0M621.0 100.5h0M619.9 126.9h0M620.4 74.0h0M620.0 100.8h0M620.8 76.5h0M620.3 88.0h0M619.6 79.5h0M620.0 72.3h0M620.8 72.4h0M620.7 90.5h0M619.3 128.7h0M621.2 128.8h0M621.4 97.5h0M620.5 99.8h0M619.6 127.8h0M620.0 134.8h0M621.3 138.9h0M620.0 92.0h0M620.6 77.9h0M621.2 105.1h0M620.8 105.1h0M623.4 80.3h0M620.4 80.3h0M620.7 108.1h0M620.4 100.8h0M621.4 72.1h0M622.0 75.7h0M620.0 92.8h0M619.5 82.4h0M623.5 71.1h0M620.4 96.0h0M620.0 77.8h0M619.8 122.1h0M619.9 117.5h0M620.2 83.0h0M620.7 74.3h0M619.0 131.5h0M621.8 102.3h0M620.7 77.3h0M620.5 144.5h0M620.9 128.5h0M621.9 100.6h0M621.6 105.2h0M621.0 86.7h0M622.0 117.0h0M619.2 80.3h0M619.9 109.2h0M620.0 146.2h0M621.0 123.1h0M620.9 106.4h0M620.1 142.1h0M624.2 84.7h0M620.6 123.9h0M619.7 98.4h0M620.4 95.5h0M619.4 118.4h0M621.3 74.4h0M620.9 129.3h0M620.0 84.9h0M620.7 119.7h0M620.8 140.3h0M620.6 109.7h0M621.3 125.3h0M621.4 111.3h0M619.5 83.4h0M620.3 73.1h0M621.0 136.8h0M619.5 72.4h0M621.0 132.3h0M621.4 90.9h0M620.3 144.0h0M620.6 109.2h0M621.6 104.0h0M620.7 82.6h0M621.4 78.7h0M620.7 90.5h0M619.7 108.7h0M621.3 76.8h0M621.0 115.5h0M620.3 85.5h0M620.0 71.7h0M620.0 72.9h0M621.4 98.2h0M621.7 102.4h0M621.7 88.2h0M621.0 120.5h0M620.5 129.5h0M621.9 117.9h0M620.7 119.3h0M620.3 122.1h0M619.5 69.2h0M619.6 81.3h0M621.1 120.8h0M620.2 101.5h0M619.2 94.7h0M621.6 126.1h0M620.4 82.1h0M619.6 119.3h0M621.0 112.7h0M619.5 89.5h0M619.8 85.6h0M622.5 117.7h0M619.9 110.1h0M619.6 151.6h0M619.6 63.6h0M622.4 75.7h0M621.0 139.8h0M620.5 58.7h0M620.2 60.0h0M619.5 154.7h0M621.0 156.0h0M621.7 168.0h0M620.6 166.8h0M625.6 114.5h0M625.2 121.2h0M624.8 67.1h0M627.6 119.3h0M625.6 72.8h0M625.3 83.9h0M626.9 79.6h0M626.0 133.7h0M626.3 75.3h0M625.9 108.8h0M626.2 71.1h0M627.3 105.1h0M624.8 106.0h0M626.4 90.0h0M625.9 128.5h0M626.9 100.0h0M626.1 133.4h0M627.2 76.7h0M625.7 118.0h0M626.1 105.0h0M627.9 107.3h0M625.8 83.2h0M625.3 86.3h0M625.5 115.8h0M626.3 119.3h0M625.3 75.9h0M625.9 93.6h0M626.1 136.5h0M626.1 145.7h0M627.0 139.1h0M626.0 137.1h0M624.1 88.4h0M626.1 100.3h0M625.9 77.6h0M626.6 76.9h0M625.7 81.2h0M626.5 82.2h0M628.8 69.0h0M626.4 106.6h0M627.5 66.6h0M625.9 114.5h0M625.7 68.3h0M625.9 83.3h0M625.4 75.6h0M626.0 93.4h0M626.6 137.7h0M626.5 76.7h0M625.9 77.3h0M628.4 89.1h0M624.2 71.7h0M626.5 99.5h0M625.6 103.0h0M627.5 80.2h0M628.4 71.2h0M625.6 94.0h0M626.0 102.3h0M626.2 81.8h0M627.2 84.0h0M624.8 110.0h0M625.4 126.3h0M626.2 120.7h0M626.2 99.5h0M625.1 114.0h0M626.3 89.2h0M626.3 127.7h0M626.6 109.9h0M625.1 87.6h0M626.7 112.9h0M626.7 107.3h0M626.6 95.6h0M625.9 133.2h0M627.1 138.8h0M625.2 75.0h0M627.1 101.2h0M627.6 130.9h0M626.3 122.8h0M625.6 107.0h0M626.1 110.1h0M629.3 82.3h0M625.2 123.8h0M626.5 124.4h0M626.2 81.4h0M625.4 80.9h0M627.4 71.1h0M627.1 112.1h0M626.5 112.1h0M625.9 141.8h0M626.9 132.3h0M625.4 82.6h0M625.8 73.3h0M628.8 95.2h0M624.7 71.2h0M625.8 88.7h0M625.7 91.7h0M627.5 84.2h0M627.2 107.4h0M626.5 111.7h0M626.7 84.7h0M625.8 95.7h0M626.9 71.0h0M625.7 118.8h0M626.3 73.3h0M626.2 122.2h0M625.9 115.2h0M628.8 107.1h0M626.5 125.3h0M626.4 137.0h0M627.6 102.0h0M626.2 114.9h0M627.0 72.0h0M626.7 124.3h0M626.8 142.9h0M626.3 98.4h0M627.7 130.1h0M624.5 108.8h0M626.9 109.9h0M625.3 88.2h0M627.2 114.2h0M626.5 129.6h0M625.9 83.6h0M625.6 99.2h0M626.6 80.4h0M626.8 75.9h0M627.0 81.9h0M626.0 115.1h0M626.5 98.7h0M625.8 88.7h0M627.8 140.0h0M625.6 139.1h0M625.2 109.0h0M625.8 127.2h0M625.8 115.5h0M626.1 89.3h0M628.2 102.7h0M626.2 144.9h0M625.7 65.3h0M625.5 77.8h0M625.7 82.7h0M625.6 105.8h0M626.4 125.8h0M624.4 143.0h0M626.8 79.1h0M625.3 71.4h0M626.6 69.0h0M625.8 123.9h0M625.8 96.9h0M626.8 135.8h0M626.5 70.8h0M625.5 128.4h0M629.2 96.9h0M627.3 129.4h0M624.4 88.0h0M625.8 69.7h0M626.3 82.1h0M626.8 126.9h0M627.3 78.2h0M625.0 78.0h0M626.1 90.5h0M625.2 86.0h0M626.1 149.4h0M624.9 131.5h0M626.1 80.6h0M627.4 78.5h0M625.6 118.5h0M627.2 92.1h0M627.0 67.5h0M626.7 129.2h0M626.1 111.1h0M624.5 69.7h0M626.7 123.4h0M625.7 104.6h0M626.7 80.2h0M625.8 115.0h0M626.2 119.3h0M625.9 95.4h0M626.7 74.2h0M625.5 100.9h0M626.2 90.9h0M626.0 105.7h0M626.6 77.2h0M626.7 122.7h0M627.5 107.9h0M625.4 123.4h0M627.3 105.9h0M627.1 93.1h0M626.7 124.5h0M626.2 109.5h0M626.9 70.7h0M625.5 133.6h0M625.7 127.0h0M626.7 66.8h0M626.5 138.0h0M626.0 117.3h0M625.8 86.8h0M624.2 90.4h0M625.5 130.4h0M625.3 80.2h0M625.9 87.7h0M625.5 98.9h0M626.2 80.2h0M625.4 106.2h0M626.1 72.2h0M624.7 94.9h0M625.9 79.3h0M624.7 133.9h0M625.6 144.8h0M624.5 70.7h0M627.2 76.3h0M626.2 71.1h0M627.2 91.2h0M625.0 137.4h0M625.6 126.5h0M629.6 103.4h0M625.3 69.8h0M627.0 85.5h0M626.7 95.2h0M628.6 102.8h0M625.5 126.3h0M625.0 116.4h0M626.4 104.1h0M626.8 86.6h0M626.1 108.7h0M625.4 100.6h0M626.0 137.0h0M626.7 138.1h0M625.6 105.2h0M627.1 82.2h0M628.9 92.6h0M626.4 63.9h0M624.7 109.5h0M626.1 113.9h0M626.7 132.4h0M625.4 118.1h0M625.0 122.0h0M625.4 96.2h0M624.6 73.8h0M624.8 74.5h0M626.6 121.3h0M625.4 99.3h0M626.2 128.5h0M627.2 122.8h0M627.7 113.7h0M624.9 128.0h0M626.3 95.5h0M625.2 69.4h0M625.7 90.3h0M627.0 75.3h0M624.7 129.9h0M627.5 85.3h0M627.1 118.5h0M625.5 104.1h0M627.6 122.5h0M629.4 74.3h0M626.3 80.3h0M626.5 72.1h0M627.8 140.6h0M626.4 91.6h0M627.3 121.3h0M627.1 111.7h0M627.0 91.3h0M625.6 129.2h0M626.3 63.5h0M626.9 84.6h0M626.7 88.4h0M626.9 126.5h0M625.5 139.8h0M625.9 88.6h0M624.8 104.7h0M625.2 89.7h0M625.6 127.8h0M625.4 126.9h0M627.3 100.1h0M624.7 126.2h0M626.7 117.0h0M628.6 73.5h0M625.8 129.2h0M625.9 83.2h0M626.6 135.9h0M626.6 75.5h0M625.7 122.2h0M625.6 131.2h0M626.0 111.3h0M624.6 72.5h0M626.2 133.2h0M626.3 82.9h0M625.6 124.8h0M625.0 114.3h0M626.1 115.5h0M630.5 94.9h0M626.2 116.6h0M626.4 139.4h0M625.4 74.2h0M625.7 98.8h0M625.8 129.5h0M623.8 57.8h0M624.4 157.8h0M625.2 171.7h0M628.1 173.6h0M625.9 169.4h0M626.0 158.6h0M627.3 160.8h0M626.1 154.4h0M626.8 154.8h0M634.0 112.0h0M630.1 110.9h0M634.0 126.3h0M631.6 142.7h0M632.4 76.1h0M632.2 144.8h0M633.4 94.1h0M631.7 109.2h0M631.8 87.7h0M631.1 148.2h0M631.3 131.4h0M631.7 98.8h0M631.1 113.2h0M631.8 82.3h0M630.4 93.5h0M635.6 104.8h0M631.9 95.0h0M632.6 87.9h0M632.0 114.4h0M630.5 87.8h0M631.1 105.6h0M633.0 75.2h0M632.0 125.3h0M631.7 114.3h0M631.6 75.2h0M631.2 69.1h0M631.3 89.1h0M633.2 87.4h0M631.9 75.1h0M632.2 74.0h0M633.1 98.5h0M632.6 74.0h0M631.5 115.7h0M630.7 119.8h0M633.5 118.3h0M631.2 97.1h0M632.6 138.4h0M632.0 129.0h0M631.7 134.7h0M632.5 117.1h0M632.2 119.7h0M633.0 138.8h0M630.9 88.8h0M630.9 147.2h0M632.7 128.4h0M631.7 106.7h0M632.2 68.7h0M631.8 71.7h0M631.1 99.8h0M631.9 136.7h0M632.6 112.3h0M630.8 149.9h0M632.2 134.7h0M632.7 69.5h0M632.3 130.4h0M631.9 125.0h0M630.6 133.7h0M632.2 123.5h0M631.9 133.5h0M630.8 72.0h0M632.3 130.3h0M632.0 113.5h0M632.0 78.0h0M630.6 67.7h0M632.6 90.4h0M632.4 95.4h0M631.8 102.5h0M634.1 122.7h0M632.4 97.3h0M630.9 131.3h0M632.4 85.7h0M631.2 85.8h0M632.7 146.1h0M631.3 76.6h0M631.4 100.7h0M631.8 75.3h0M632.6 96.5h0M630.1 90.3h0M633.0 89.8h0M632.6 102.2h0M630.9 77.5h0M631.0 78.0h0M632.2 116.9h0M630.5 98.0h0M631.9 133.4h0M632.7 123.3h0M632.2 115.4h0M631.1 70.9h0M632.0 71.5h0M631.5 116.2h0M632.4 94.6h0M632.7 70.6h0M631.4 102.3h0M635.5 123.9h0M631.9 102.2h0M631.8 98.1h0M631.1 68.4h0M631.3 129.8h0M631.2 68.8h0M632.6 133.2h0M631.9 115.5h0M631.8 70.6h0M634.7 112.6h0M632.4 119.9h0M633.2 96.0h0M632.7 134.6h0M632.2 134.4h0M632.1 137.3h0M632.6 118.4h0M631.7 130.5h0M635.2 108.1h0M631.5 93.5h0M631.4 79.0h0M632.7 105.6h0M632.2 131.3h0M632.1 121.7h0M630.8 128.7h0M631.2 79.7h0M631.5 64.4h0M631.8 76.2h0M631.4 85.5h0M632.2 124.7h0M631.4 95.2h0M631.7 118.5h0M630.9 89.3h0M635.2 80.9h0M631.4 116.0h0M632.6 120.4h0M632.5 88.9h0M631.3 92.7h0M631.4 136.3h0M632.5 103.4h0M631.1 125.0h0M631.9 98.2h0M631.7 84.7h0M630.9 108.3h0M631.5 116.2h0M630.6 89.4h0M630.4 119.1h0M632.2 142.6h0M630.6 125.9h0M631.4 79.0h0M632.1 114.3h0M631.8 111.8h0M632.5 115.7h0M632.1 73.5h0M632.6 133.4h0M630.1 81.6h0M630.9 64.4h0M633.0 112.1h0M632.3 140.9h0M631.2 119.7h0M633.4 140.9h0M632.1 111.7h0M631.5 125.4h0M631.7 78.7h0M632.2 114.6h0M633.8 96.0h0M632.3 99.8h0M630.8 98.5h0M633.6 121.2h0M632.8 81.2h0M631.8 75.2h0M633.8 94.5h0M631.1 72.4h0M631.0 69.5h0M632.3 93.1h0M631.7 80.8h0M633.0 104.3h0M632.4 82.7h0M632.5 114.1h0M631.0 118.3h0M632.5 83.2h0M635.3 132.5h0M632.0 72.1h0M631.2 131.6h0M631.9 116.0h0M631.1 69.1h0M632.9 126.2h0M631.9 103.9h0M631.7 103.4h0M631.0 84.0h0M632.0 86.5h0M633.2 72.0h0M632.9 84.0h0M632.4 128.7h0M631.1 65.3h0M634.5 112.7h0M630.8 94.0h0M632.4 133.5h0M634.8 120.0h0M631.7 113.4h0M630.7 115.2h0M632.2 89.5h0M632.7 113.5h0M632.0 104.8h0M630.3 76.0h0M634.3 125.6h0M631.3 131.3h0M631.1 73.6h0M634.1 98.9h0M632.2 91.8h0M632.2 93.7h0M631.3 82.4h0M630.1 136.2h0M632.6 131.7h0M631.0 126.3h0M632.1 135.8h0M631.6 130.8h0M630.5 78.7h0M634.5 99.2h0M631.2 72.0h0M631.9 135.0h0M631.3 122.5h0M631.1 94.2h0M631.1 100.1h0M631.9 91.9h0M632.6 122.9h0M631.3 111.9h0M631.4 80.0h0M630.2 88.1h0M631.6 105.2h0M632.0 67.4h0M631.8 146.1h0M632.6 68.0h0M632.1 69.5h0M630.8 123.2h0M632.4 76.7h0M630.3 118.0h0M631.4 124.2h0M631.6 128.4h0M632.1 72.9h0M630.8 99.1h0M631.9 142.8h0M631.7 144.5h0M631.8 76.6h0M631.9 102.7h0M631.4 69.6h0M632.5 123.2h0M632.3 102.7h0M632.7 125.5h0M631.9 105.9h0M631.4 129.4h0M632.1 65.9h0M631.8 114.7h0M630.8 78.7h0M631.9 128.9h0M629.5 65.7h0M631.8 134.9h0M633.3 116.2h0M632.4 129.8h0M630.0 111.3h0M630.9 72.6h0M631.7 103.9h0M629.9 101.5h0M631.0 101.2h0M630.9 120.9h0M631.4 109.1h0M633.3 110.7h0M631.3 106.0h0M630.5 120.9h0M631.7 106.1h0M631.0 80.4h0M631.3 72.8h0M631.3 99.4h0M632.4 67.4h0M630.6 142.6h0M632.6 115.1h0M631.0 97.3h0M631.4 136.6h0M634.6 146.5h0M630.5 121.2h0M632.0 146.7h0M631.5 82.4h0M633.3 69.3h0M631.7 76.1h0M631.2 91.7h0M631.7 119.0h0M632.8 108.3h0M633.0 101.3h0M631.6 83.3h0M632.8 102.3h0M632.2 71.4h0M631.0 58.1h0M631.1 171.5h0M632.5 172.9h0M632.6 157.2h0M632.1 169.3h0M637.2 114.3h0M636.1 87.7h0M637.5 141.6h0M636.4 86.6h0M638.4 110.1h0M640.3 77.5h0M637.1 107.4h0M638.0 76.8h0M637.9 80.1h0M636.9 138.6h0M637.9 113.0h0M636.1 130.0h0M637.1 130.6h0M636.5 90.0h0M637.4 72.6h0M637.1 107.3h0M637.8 85.5h0M636.7 79.5h0M637.1 109.0h0M638.3 71.1h0M637.4 98.2h0M638.3 120.3h0M636.0 119.5h0M637.3 123.1h0M638.8 107.9h0M639.1 131.8h0M637.1 91.6h0M637.5 93.1h0M637.2 130.2h0M637.9 127.8h0M637.6 104.1h0M637.4 93.1h0M637.8 102.4h0M636.9 80.1h0M638.4 136.7h0M636.8 75.6h0M637.9 64.6h0M639.2 103.3h0M637.4 68.3h0M638.3 83.1h0M636.1 79.1h0M637.3 106.9h0M637.7 127.3h0M636.9 94.2h0M637.6 120.3h0M638.1 86.3h0M637.3 93.2h0M636.8 139.0h0M637.4 122.6h0M638.6 79.5h0M638.0 68.1h0M638.6 104.1h0M636.8 79.6h0M637.2 94.1h0M637.6 93.9h0M640.3 91.8h0M638.6 117.8h0M636.4 69.5h0M637.7 101.9h0M637.8 93.4h0M637.5 89.8h0M637.8 142.9h0M639.0 84.1h0M637.6 143.4h0M637.9 86.1h0M638.1 145.4h0M638.7 111.4h0M637.5 87.9h0M637.0 119.1h0M636.6 96.8h0M636.9 92.0h0M637.1 69.7h0M637.2 89.6h0M637.8 73.9h0M638.5 97.3h0M637.4 92.1h0M639.1 77.7h0M638.4 74.3h0M640.8 94.4h0M637.0 125.0h0M636.8 69.9h0M638.1 69.3h0M636.8 76.7h0M637.5 91.8h0M636.5 92.9h0M638.3 123.0h0M638.3 92.6h0M637.4 131.2h0M637.2 143.5h0M638.3 92.5h0M637.8 84.6h0M636.8 140.7h0M638.0 83.3h0M636.7 130.0h0M636.3 105.9h0M637.8 84.5h0M637.6 88.9h0M637.0 94.7h0M638.0 104.0h0M636.9 70.5h0M637.2 88.4h0M637.5 133.8h0M635.9 95.0h0M637.8 104.5h0M637.9 84.5h0M637.3 96.8h0M635.8 121.0h0M637.0 143.1h0M637.0 114.1h0M637.6 93.3h0M637.8 85.3h0M637.8 93.9h0M638.7 75.0h0M636.8 112.2h0M637.2 124.8h0M637.8 76.0h0M636.9 108.4h0M637.3 67.6h0M635.2 90.5h0M637.8 73.7h0M638.5 109.4h0M638.0 124.5h0M638.1 83.9h0M637.6 74.8h0M636.3 100.8h0M636.4 80.2h0M636.6 135.7h0M637.7 107.8h0M637.5 90.5h0M637.1 121.3h0M637.7 101.0h0M637.0 125.3h0M637.9 121.4h0M640.5 139.1h0M639.8 87.6h0M637.8 146.8h0M635.5 109.9h0M636.9 128.5h0M636.8 83.4h0M637.3 106.5h0M640.3 125.3h0M636.1 114.5h0M638.2 81.5h0M636.2 95.0h0M637.5 82.7h0M637.1 96.1h0M638.2 128.4h0M637.2 70.6h0M635.7 124.5h0M637.6 85.1h0M638.7 77.4h0M636.4 122.2h0M637.8 116.2h0M636.6 117.0h0M638.8 99.5h0M636.8 78.1h0M636.6 72.3h0M636.2 132.8h0M637.3 127.5h0M636.6 120.9h0M639.3 83.2h0M637.3 71.4h0M637.6 76.8h0M637.6 75.0h0M637.7 138.9h0M638.3 79.5h0M636.6 85.3h0M638.0 136.3h0M636.3 69.1h0M637.9 110.5h0M637.7 112.4h0M637.9 129.6h0M638.3 109.2h0M637.5 96.0h0M636.5 128.1h0M636.8 142.0h0M638.7 102.4h0M637.0 127.1h0M637.0 121.9h0M638.1 140.4h0M637.4 95.2h0M636.7 86.3h0M637.4 77.2h0M637.5 95.5h0M637.3 80.2h0M638.8 122.3h0M638.6 109.7h0M636.6 76.9h0M637.4 92.0h0M638.5 129.8h0M636.7 72.4h0M637.4 117.0h0M637.7 67.3h0M636.2 109.9h0M637.0 141.0h0M637.3 122.6h0M639.1 74.3h0M638.1 110.9h0M639.1 73.4h0M638.1 81.2h0M637.6 115.0h0M638.0 119.9h0M637.7 104.3h0M638.3 97.9h0M638.0 96.5h0M638.0 133.3h0M635.9 74.0h0M637.5 142.1h0M638.2 80.5h0M638.8 84.3h0M636.6 115.9h0M637.5 94.2h0M640.2 73.1h0M636.9 114.4h0M636.3 128.8h0M636.5 136.9h0M637.5 123.4h0M638.3 72.7h0M638.7 88.5h0M637.6 82.8h0M637.7 81.4h0M637.9 86.3h0M637.8 119.9h0M637.4 70.5h0M637.1 107.9h0M637.5 122.0h0M637.3 97.1h0M640.0 99.3h0M638.8 67.5h0M638.2 95.0h0M636.5 93.0h0M636.2 105.0h0M638.3 105.0h0M637.4 120.2h0M636.8 75.2h0M638.2 73.8h0M636.9 61.6h0M636.6 161.3h0M638.6 162.7h0M636.2 155.9h0M637.0 161.7h0M637.5 161.8h0M639.3 171.2h0M642.5 109.2h0M644.0 102.1h0M643.7 69.8h0M643.3 78.4h0M643.9 73.1h0M643.3 82.8h0M643.4 75.0h0M644.6 75.9h0M643.2 91.7h0M642.4 69.9h0M643.2 92.0h0M644.7 88.2h0M643.7 107.5h0M644.5 96.0h0M644.3 96.9h0M643.3 94.7h0M643.6 100.8h0M644.3 92.8h0M643.3 101.5h0M643.3 73.7h0M643.9 75.8h0M642.4 74.9h0M642.8 78.4h0M643.0 90.8h0M643.0 81.1h0M643.4 95.5h0M642.8 95.6h0M641.0 119.5h0M643.4 109.7h0M643.6 128.8h0M642.8 76.6h0M643.0 95.9h0M644.0 78.5h0M644.7 147.5h0M645.7 76.8h0M642.4 131.8h0M644.8 86.2h0M643.1 93.8h0M643.9 74.7h0M642.9 77.3h0M643.2 126.2h0M646.6 115.1h0M642.0 68.4h0M643.9 97.3h0M643.9 76.3h0M642.9 116.5h0M643.1 126.2h0M643.6 79.5h0M644.3 88.7h0M643.4 89.1h0M643.3 103.1h0M643.8 75.4h0M643.1 88.6h0M642.6 70.1h0M643.2 88.1h0M644.2 82.5h0M642.8 75.9h0M643.7 100.2h0M643.2 109.3h0M642.8 96.4h0M644.8 75.3h0M644.6 113.2h0M642.8 77.9h0M642.1 132.4h0M644.2 121.0h0M643.5 81.8h0M643.5 70.5h0M643.1 115.4h0M643.4 130.5h0M643.9 74.2h0M643.9 107.8h0M642.9 125.9h0M644.8 99.3h0M642.7 120.7h0M642.7 83.8h0M643.1 99.4h0M643.1 109.0h0M643.5 87.9h0M642.2 96.9h0M643.8 125.8h0M641.6 132.0h0M641.7 128.3h0M642.8 110.4h0M644.0 134.8h0M643.1 93.9h0M645.7 124.7h0M643.7 132.2h0M643.9 90.2h0M643.7 83.6h0M643.4 88.8h0M642.4 94.5h0M644.0 143.7h0M641.4 100.2h0M643.4 70.7h0M643.3 97.0h0M644.1 105.0h0M644.3 142.9h0M643.0 90.8h0M643.8 135.8h0M643.2 139.4h0M642.3 108.7h0M644.2 88.4h0M643.5 138.4h0M642.0 120.8h0M642.8 105.8h0M643.4 116.5h0M643.2 89.9h0M643.7 78.3h0M643.9 115.2h0M643.1 109.3h0M641.8 98.5h0M643.9 109.0h0M643.3 121.1h0M642.3 126.3h0M642.8 140.2h0M641.2 67.9h0M642.7 104.0h0M644.3 129.4h0M643.0 142.4h0M643.9 94.1h0M643.5 140.8h0M643.4 86.7h0M643.0 82.8h0M643.5 128.7h0M644.0 114.5h0M643.0 115.0h0M648.2 148.4h0M643.6 89.1h0M643.3 104.8h0M642.8 87.1h0M644.6 87.2h0M646.5 110.2h0M642.9 141.1h0M644.0 105.5h0M642.9 112.4h0M643.6 118.2h0M644.0 111.8h0M643.8 91.0h0M643.2 138.4h0M644.0 107.8h0M642.9 93.5h0M644.0 122.5h0M643.8 106.4h0M641.0 90.5h0M642.8 89.1h0M643.1 94.6h0M642.5 137.2h0M643.9 116.3h0M643.8 98.2h0M645.7 116.2h0M646.4 79.6h0M642.3 76.3h0M643.9 122.9h0M644.6 99.8h0M643.3 84.7h0M642.6 82.5h0M643.3 80.0h0M642.0 80.3h0M642.4 99.1h0M644.6 104.0h0M642.7 121.3h0M644.0 76.2h0M642.9 83.5h0M642.4 140.5h0M643.2 92.2h0M642.3 84.9h0M642.1 130.3h0M642.7 127.2h0M642.1 86.5h0M643.7 128.8h0M643.3 88.4h0M643.6 137.0h0M643.2 127.9h0M644.5 106.9h0M642.1 128.9h0M645.1 93.0h0M646.9 126.5h0M642.3 80.8h0M642.8 104.2h0M643.7 96.5h0M643.3 141.3h0M643.0 110.5h0M644.0 101.5h0M643.4 93.5h0M643.1 111.7h0M644.7 110.3h0M645.0 79.6h0M642.9 134.2h0M643.0 127.4h0M643.9 105.4h0M643.3 76.3h0M643.3 130.5h0M643.0 112.7h0M644.0 141.8h0M643.6 75.6h0M644.8 145.0h0M643.6 82.9h0M642.6 79.2h0M644.1 75.0h0M643.4 106.1h0M642.6 111.3h0M642.8 75.5h0M641.7 84.2h0M642.5 111.7h0M643.7 131.4h0M644.0 88.9h0M644.6 98.4h0M643.9 71.0h0M642.8 104.8h0M643.1 124.4h0M643.5 140.5h0M643.2 106.3h0M642.2 65.5h0M642.8 63.6h0M643.5 63.9h0M642.5 153.7h0M642.5 155.7h0M644.8 160.0h0M643.9 163.9h0M649.4 117.2h0M648.0 91.8h0M649.8 110.6h0M649.0 117.9h0M647.7 105.5h0M648.0 124.2h0M648.6 104.3h0M650.9 135.0h0M648.9 78.2h0M648.5 110.3h0M649.7 123.4h0M649.4 79.4h0M649.0 96.4h0M649.2 97.5h0M648.9 90.2h0M651.1 69.6h0M649.4 126.6h0M649.7 106.6h0M649.8 86.2h0M648.5 77.1h0M649.0 130.1h0M647.5 116.5h0M647.7 110.6h0M648.5 123.4h0M647.6 125.5h0M649.2 132.0h0M647.7 123.5h0M648.0 91.2h0M649.6 81.7h0M649.7 104.1h0M649.3 76.6h0M649.3 90.6h0M648.8 128.3h0M649.3 92.0h0M648.1 100.3h0M649.7 80.5h0M648.8 83.5h0M648.8 133.1h0M648.5 95.4h0M650.3 77.9h0M648.4 80.2h0M649.6 101.4h0M647.7 125.7h0M649.0 106.2h0M649.2 112.9h0M652.0 91.5h0M648.7 72.7h0M648.8 78.0h0M649.6 82.7h0M648.7 104.8h0M648.7 88.4h0M649.6 91.0h0M647.9 88.0h0M648.1 105.4h0M649.2 120.9h0M651.1 84.6h0M649.2 108.6h0M649.7 73.1h0M649.9 124.1h0M649.1 116.6h0M648.6 115.1h0M648.4 142.3h0M648.5 90.7h0M649.4 108.0h0M650.2 131.3h0M648.2 80.7h0M649.3 132.4h0M649.5 77.1h0M647.9 122.6h0M649.5 117.4h0M648.9 118.6h0M648.8 132.8h0M648.8 83.7h0M647.1 71.1h0M649.0 101.6h0M648.2 94.5h0M648.5 88.3h0M649.6 80.9h0M650.8 123.9h0M648.4 123.3h0M648.4 101.2h0M648.5 114.9h0M647.0 116.4h0M649.5 93.2h0M649.3 86.4h0M648.3 91.1h0M648.4 123.2h0M650.5 117.8h0M648.9 94.4h0M648.7 98.4h0M649.1 91.9h0M649.5 93.9h0M647.6 136.3h0M649.1 112.6h0M648.3 102.6h0M648.7 131.6h0M649.3 114.6h0M647.9 116.5h0M647.6 86.4h0M649.2 122.6h0M649.5 96.6h0M647.0 134.2h0M648.5 116.1h0M648.3 83.0h0M649.4 88.1h0M649.1 128.2h0M650.1 107.2h0M649.3 72.9h0M649.1 116.7h0M649.7 102.2h0M649.0 117.2h0M648.0 103.9h0M648.4 112.3h0M648.9 147.6h0M648.3 115.0h0M648.7 77.7h0M649.1 113.3h0M647.8 135.6h0M648.9 78.9h0M649.3 149.2h0M649.9 102.3h0M648.7 99.8h0M649.4 143.3h0M647.4 94.3h0M649.2 82.2h0M649.0 80.3h0M649.2 91.4h0M648.9 126.3h0M648.8 100.5h0M650.0 122.5h0M647.9 81.3h0M649.1 111.0h0M647.3 133.0h0M648.7 79.9h0M648.8 120.7h0M649.3 127.0h0M649.6 104.4h0M648.8 125.1h0M648.7 121.1h0M649.8 104.0h0M649.3 123.5h0M647.6 65.6h0M648.9 173.2h0M649.3 161.4h0M649.3 170.2h0M650.0 159.0h0M648.9 177.6h0M649.8 171.9h0M654.4 105.4h0M656.1 94.1h0M654.9 83.9h0M653.1 118.1h0M655.1 130.3h0M654.2 78.4h0M653.6 85.9h0M655.3 82.3h0M654.0 98.2h0M654.5 91.2h0M654.3 117.6h0M653.3 109.0h0M656.5 102.7h0M656.6 99.0h0M655.7 109.9h0M654.2 115.9h0M654.9 109.5h0M655.5 99.7h0M654.1 126.1h0M654.9 102.2h0M652.8 88.1h0M654.9 136.9h0M653.9 95.6h0M653.9 98.1h0M654.5 98.6h0M653.6 116.9h0M654.5 97.0h0M657.9 97.1h0M654.3 78.2h0M654.5 85.4h0M654.0 103.6h0M655.5 142.3h0M654.7 116.8h0M654.6 91.5h0M654.5 92.4h0M654.9 131.4h0M653.6 124.6h0M655.2 79.8h0M653.7 120.1h0M654.0 89.8h0M653.5 72.2h0M656.0 88.8h0M654.5 117.2h0M654.2 95.6h0M654.7 108.3h0M654.9 121.3h0M653.8 132.6h0M655.8 87.3h0M654.4 105.8h0M653.9 130.1h0M653.7 136.6h0M654.3 124.3h0M655.6 112.2h0M655.2 128.8h0M654.9 126.7h0M654.3 132.5h0M655.1 73.7h0M654.9 92.9h0M653.6 110.1h0M656.4 99.1h0M654.4 84.4h0M655.7 74.6h0M654.3 76.9h0M654.8 137.3h0M653.5 76.7h0M656.0 81.8h0M654.9 88.9h0M653.9 88.0h0M652.5 91.2h0M652.8 141.1h0M654.5 79.8h0M654.0 92.1h0M654.8 95.0h0M653.8 81.2h0M654.7 78.9h0M654.4 90.4h0M653.2 114.6h0M654.7 116.7h0M655.0 105.5h0M654.2 133.3h0M655.6 128.7h0M655.4 96.1h0M654.2 103.2h0M654.4 88.7h0M655.9 107.6h0M654.9 71.8h0M653.7 115.1h0M654.4 87.1h0M653.9 79.2h0M654.2 119.9h0M652.7 108.5h0M655.6 114.1h0M654.1 111.0h0M655.0 131.0h0M655.9 79.2h0M654.5 86.9h0M655.6 106.9h0M657.7 121.2h0M656.1 96.4h0M653.8 93.8h0M654.8 105.2h0M652.7 101.8h0M655.6 126.6h0M653.9 81.4h0M653.8 129.2h0M654.5 77.8h0M655.8 124.5h0M654.9 81.0h0M655.8 111.1h0M654.9 78.5h0M654.9 126.3h0M654.3 77.1h0M655.6 104.6h0M655.0 81.1h0M654.5 87.0h0M654.3 98.9h0M655.4 113.2h0M654.2 130.0h0M654.9 87.6h0M653.9 97.0h0M655.3 68.7h0M655.1 63.3h0M654.0 58.0h0M655.2 172.6h0M652.7 155.0h0M659.8 117.3h0M659.6 94.3h0M660.8 111.4h0M664.1 85.2h0M659.7 124.1h0M660.0 112.7h0M659.4 105.5h0M659.6 103.4h0M659.6 82.9h0M659.9 128.0h0M661.5 134.3h0M661.4 106.4h0M658.5 88.2h0M659.1 75.3h0M659.8 102.5h0M661.3 88.1h0M659.4 108.3h0M659.5 100.9h0M660.9 113.6h0M660.7 120.5h0M660.5 91.4h0M659.7 120.7h0M660.3 83.0h0M660.6 79.6h0M659.7 100.2h0M660.3 95.3h0M659.1 125.4h0M660.2 95.8h0M659.8 108.2h0M662.3 94.5h0M660.8 137.6h0M660.0 81.6h0M659.6 113.6h0M659.8 98.5h0M660.0 117.3h0M660.3 102.6h0M659.8 72.7h0M660.6 104.6h0M660.7 148.4h0M660.3 104.2h0M659.4 119.0h0M659.5 118.7h0M660.0 125.9h0M659.9 98.1h0M661.7 105.5h0M659.8 114.4h0M661.1 100.6h0M659.2 119.8h0M659.1 89.0h0M660.2 80.3h0M658.9 124.1h0M660.4 117.6h0M660.3 119.2h0M659.7 90.7h0M660.8 129.3h0M660.9 88.4h0M659.1 120.8h0M661.3 76.7h0M659.7 105.9h0M661.3 100.9h0M659.5 141.8h0M660.9 93.7h0M659.9 100.9h0M661.1 100.1h0M660.9 119.5h0M659.7 124.9h0M660.6 75.3h0M659.7 126.6h0M661.1 94.8h0M660.1 89.1h0M659.1 68.5h0M660.0 171.3h0M660.2 179.5h0M659.3 162.4h0M659.6 178.7h0M661.2 176.7h0M660.8 178.9h0M659.8 153.5h0M660.2 159.5h0M665.6 125.0h0M665.7 85.1h0M665.0 117.4h0M666.2 109.2h0M666.8 128.3h0M666.8 114.3h0M665.8 96.1h0M667.1 109.8h0M665.8 89.1h0M665.8 97.3h0M666.1 88.0h0M666.3 82.9h0M666.6 89.1h0M665.7 85.7h0M667.2 127.8h0M665.3 91.0h0M667.2 104.9h0M667.2 133.6h0M666.6 96.7h0M665.4 84.9h0M665.1 110.2h0M665.6 117.2h0M665.7 84.2h0M665.7 113.9h0M665.9 125.6h0M665.3 89.6h0M666.7 92.7h0M666.3 133.9h0M666.1 139.9h0M665.8 110.3h0M666.5 126.7h0M664.9 104.4h0M664.7 85.6h0M665.0 86.8h0M664.6 136.6h0M665.4 120.7h0M664.6 135.1h0M664.7 99.6h0M665.2 90.9h0M665.2 87.2h0M665.8 126.6h0M664.8 125.1h0M665.8 94.2h0M665.3 61.0h0M666.7 69.2h0M666.4 172.8h0M665.8 163.7h0M665.3 151.0h0M667.3 175.3h0M671.9 126.4h0M672.5 97.1h0M671.5 139.9h0M671.7 105.7h0M672.1 112.4h0M670.7 93.5h0M671.5 84.1h0M671.9 99.6h0M672.2 84.6h0M671.1 117.8h0M671.2 142.8h0M673.9 135.0h0M670.3 100.5h0M672.0 104.9h0M672.0 96.6h0M671.8 126.2h0M671.2 112.6h0M669.9 105.1h0M671.6 116.0h0M670.4 120.3h0M670.2 86.5h0M672.2 102.8h0M671.8 84.5h0M670.8 118.4h0M672.8 82.1h0M672.2 82.8h0M671.3 97.4h0M670.9 80.1h0M672.0 96.4h0M671.1 106.1h0M671.0 109.5h0M670.5 107.1h0M671.4 131.8h0M672.4 116.2h0M672.0 149.5h0M671.3 156.0h0M676.8 95.3h0M678.0 93.8h0M676.7 130.3h0M676.1 117.8h0M676.6 93.0h0M678.4 101.1h0M676.8 123.7h0M679.9 83.8h0M675.8 96.6h0M677.3 115.1h0M677.8 94.7h0M677.7 126.7h0M678.1 113.0h0M677.2 83.1h0M676.7 107.9h0M677.7 98.2h0M679.8 107.7h0M677.6 124.9h0M676.5 138.3h0M677.8 97.3h0M678.3 84.9h0M676.8 88.7h0M677.1 125.6h0M677.2 99.0h0M677.9 133.2h0M676.7 91.8h0M676.1 90.0h0M677.4 67.0h0M676.8 75.7h0M676.7 178.9h0M677.3 148.9h0M682.8 90.3h0M682.8 112.2h0M683.3 109.5h0M683.0 104.9h0M682.9 101.3h0M681.8 139.2h0M683.1 87.7h0M683.6 102.6h0M683.8 118.3h0M683.1 130.6h0M682.8 139.0h0M683.9 119.1h0M683.6 142.3h0M682.1 133.2h0M682.9 123.9h0M682.9 105.4h0M683.7 113.4h0M683.0 128.4h0M683.9 100.8h0M684.9 111.5h0M681.6 153.9h0M688.1 106.1h0M687.3 99.3h0M690.2 117.7h0M689.2 97.2h0M688.8 108.4h0M688.9 124.0h0M688.9 94.8h0M689.3 67.3h0M688.7 146.8h0M689.4 158.7h0M688.5 173.2h0M693.1 120.0h0M695.1 113.9h0M694.9 128.4h0M694.3 96.6h0M695.3 97.5h0M693.5 120.8h0M695.7 104.1h0M695.1 148.0h0M693.9 160.0h0M693.2 151.2h0M694.7 165.3h0M694.5 148.0h0M700.9 93.7h0M698.8 117.6h0M701.7 130.5h0M699.9 131.5h0M700.6 108.0h0M700.0 119.7h0M700.3 112.1h0M699.9 129.2h0M700.4 108.8h0M699.1 130.7h0M700.3 93.3h0M699.4 111.1h0M699.4 115.1h0M698.4 131.8h0M700.2 85.9h0M701.2 100.9h0M698.9 153.2h0M700.3 146.6h0M700.3 152.4h0M699.7 160.0h0M700.0 171.1h0M705.3 105.5h0M705.8 113.6h0M704.5 110.2h0M706.4 88.0h0M706.7 92.8h0M706.7 91.9h0M704.9 105.0h0M705.7 89.4h0M706.7 92.8h0M705.6 96.0h0M704.9 102.3h0M704.3 124.0h0M705.8 101.7h0M705.7 69.0h0M705.3 156.6h0M704.4 148.9h0M710.8 104.4h0M712.8 96.5h0M711.3 128.6h0M710.0 109.1h0M712.0 68.6h0M711.7 150.2h0M711.0 170.3h0M711.2 179.7h0M713.4 182.1h0M711.2 182.3h0M710.7 160.8h0M716.2 87.1h0M716.1 106.7h0M716.4 123.4h0M717.5 130.1h0M717.0 100.6h0M717.4 164.9h0M718.2 166.2h0M722.7 116.5h0M722.7 115.4h0M724.7 105.0h0M722.5 139.4h0M723.8 108.1h0M722.5 161.6h0M728.3 129.0h0M728.9 98.7h0M727.8 108.5h0M727.6 104.6h0M728.1 99.0h0M728.9 130.3h0M729.4 114.6h0M728.9 100.2h0M729.2 105.2h0M728.4 163.3h0M732.8 89.8h0M733.1 102.0h0M733.3 122.1h0M733.7 96.4h0M733.3 103.9h0M734.4 64.6h0M734.8 79.0h0M739.1 106.4h0M740.2 89.3h0M738.9 101.5h0M740.2 109.5h0M740.3 124.9h0M738.3 131.1h0M740.0 156.4h0M745.8 124.2h0M745.3 119.3h0M746.0 126.2h0M745.4 83.9h0M744.5 172.2h0M751.7 138.4h0M757.3 125.6h0M757.7 115.8h0M758.8 163.1h0M566.5 276.0h0M578.3 253.4h0M611.7 218.7h0M621.8 222.2h0M626.2 237.3h0M616.4 255.5h0M620.5 250.2h0M614.9 264.5h0M628.5 258.6h0M627.5 265.6h0M635.5 238.7h0M637.1 197.5h0M653.6 232.0h0M659.3 191.4h0M666.3 187.3h0M686.3 194.5h0M692.1 166.6h0M696.8 162.8h0M720.3 162.7h0M722.9 188.1h0M723.5 145.9h0M734.0 141.3h0M734.0 147.3h0M756.3 177.7h0M534.7 49.9h0M517.5 63.9h0M518.2 66.0h0M485.7 94.2h0M485.7 98.9h0M490.8 89.7h0M490.8 106.8h0M496.5 93.7h0M496.5 98.4h0M496.5 101.2h0M496.5 106.7h0M502.2 84.8h0M502.2 89.6h0M506.1 90.2h0M507.3 98.4h0M507.3 103.1h0M502.4 115.0h0M539.8 54.2h0M546.1 56.2h0M548.7 56.9h0M583.3 31.5h0M583.3 34.0h0M583.3 47.6h0M583.3 50.1h0M559.0 49.3h0M632.6 43.5h0M660.6 51.9h0M605.0 50.6h0M642.5 277.5h0M567.5 188.1h0M578.9 194.9h0M578.9 201.6h0M578.9 205.6h0M568.1 207.5h0M572.9 207.5h0M587.5 200.3h0M589.1 211.0h0M594.5 207.0h0M593.7 215.6h0M594.5 219.1h0M594.5 223.2h0M586.1 225.9h0M597.7 187.6h0M600.4 185.4h0M604.5 198.9h0M606.4 190.8h0M608.5 194.9h0M615.3 198.9h0M616.6 204.8h0M616.6 211.8h0M619.3 216.4h0M627.4 190.3h0M631.4 185.4h0M627.4 180.0h0M631.4 178.7h0M605.8 180.0h0M615.3 180.0h0M558.0 214.4h0" stroke="#0000ff" stroke-width="3.2" stroke-linecap="round" fill="none"/>
<path d="M40.50 15.50 V279.60 H359.50" fill="none" stroke="#959595" stroke-width="1.1"/>
<text transform="translate(36.60,284.50) scale(1.1,1)" font-size="10.6" text-anchor="end" >-14</text>
<text transform="translate(36.60,258.10) scale(1.1,1)" font-size="10.6" text-anchor="end" >-12</text>
<text transform="translate(36.60,231.70) scale(1.1,1)" font-size="10.6" text-anchor="end" >-10</text>
<text transform="translate(36.60,205.30) scale(1.1,1)" font-size="10.6" text-anchor="end" >-8</text>
<text transform="translate(36.60,178.90) scale(1.1,1)" font-size="10.6" text-anchor="end" >-6</text>
<text transform="translate(36.60,152.50) scale(1.1,1)" font-size="10.6" text-anchor="end" >-4</text>
<text transform="translate(36.60,126.10) scale(1.1,1)" font-size="10.6" text-anchor="end" >-2</text>
<text transform="translate(36.60,99.70) scale(1.1,1)" font-size="10.6" text-anchor="end" >0</text>
<text transform="translate(36.60,73.30) scale(1.1,1)" font-size="10.6" text-anchor="end" >2</text>
<text transform="translate(36.60,46.90) scale(1.1,1)" font-size="10.6" text-anchor="end" >4</text>
<text transform="translate(36.60,20.50) scale(1.1,1)" font-size="10.6" text-anchor="end" >6</text>
<text transform="translate(59.30,294.30) scale(1.1,1)" font-size="10.6" text-anchor="middle" >0.4</text>
<text transform="translate(96.80,294.30) scale(1.1,1)" font-size="10.6" text-anchor="middle" >0.6</text>
<text transform="translate(134.30,294.30) scale(1.1,1)" font-size="10.6" text-anchor="middle" >0.8</text>
<text transform="translate(171.80,294.30) scale(1.1,1)" font-size="10.6" text-anchor="middle" >1</text>
<text transform="translate(209.30,294.30) scale(1.1,1)" font-size="10.6" text-anchor="middle" >1.2</text>
<text transform="translate(246.80,294.30) scale(1.1,1)" font-size="10.6" text-anchor="middle" >1.4</text>
<text transform="translate(284.30,294.30) scale(1.1,1)" font-size="10.6" text-anchor="middle" >1.6</text>
<text transform="translate(321.80,294.30) scale(1.1,1)" font-size="10.6" text-anchor="middle" >1.8</text>
<text transform="translate(359.30,294.30) scale(1.1,1)" font-size="10.6" text-anchor="middle" >2</text>
<path d="M40.50 279.50 H44.10 M40.50 253.10 H44.10 M40.50 226.70 H44.10 M40.50 200.30 H44.10 M40.50 173.90 H44.10 M40.50 147.50 H44.10 M40.50 121.10 H44.10 M40.50 94.70 H44.10 M40.50 68.30 H44.10 M40.50 41.90 H44.10 M40.50 15.50 H44.10 M59.30 279.60 V276.20 M96.80 279.60 V276.20 M134.30 279.60 V276.20 M171.80 279.60 V276.20 M209.30 279.60 V276.20 M246.80 279.60 V276.20 M284.30 279.60 V276.20 M321.80 279.60 V276.20 M359.30 279.60 V276.20" stroke="#666666" stroke-width="1"/>
<path d="M459.50 15.40 V279.60 H778.13" fill="none" stroke="#959595" stroke-width="1.1"/>
<text transform="translate(455.60,284.40) scale(1.1,1)" font-size="10.6" text-anchor="end" >-12</text>
<text transform="translate(455.60,251.40) scale(1.1,1)" font-size="10.6" text-anchor="end" >-10</text>
<text transform="translate(455.60,218.40) scale(1.1,1)" font-size="10.6" text-anchor="end" >-8</text>
<text transform="translate(455.60,185.40) scale(1.1,1)" font-size="10.6" text-anchor="end" >-6</text>
<text transform="translate(455.60,152.40) scale(1.1,1)" font-size="10.6" text-anchor="end" >-4</text>
<text transform="translate(455.60,119.40) scale(1.1,1)" font-size="10.6" text-anchor="end" >-2</text>
<text transform="translate(455.60,86.40) scale(1.1,1)" font-size="10.6" text-anchor="end" >0</text>
<text transform="translate(455.60,53.40) scale(1.1,1)" font-size="10.6" text-anchor="end" >2</text>
<text transform="translate(455.60,20.40) scale(1.1,1)" font-size="10.6" text-anchor="end" >4</text>
<text transform="translate(478.89,294.30) scale(1.1,1)" font-size="10.6" text-anchor="middle" >0.4</text>
<text transform="translate(516.27,294.30) scale(1.1,1)" font-size="10.6" text-anchor="middle" >0.6</text>
<text transform="translate(553.65,294.30) scale(1.1,1)" font-size="10.6" text-anchor="middle" >0.8</text>
<text transform="translate(591.03,294.30) scale(1.1,1)" font-size="10.6" text-anchor="middle" >1</text>
<text transform="translate(628.41,294.30) scale(1.1,1)" font-size="10.6" text-anchor="middle" >1.2</text>
<text transform="translate(665.79,294.30) scale(1.1,1)" font-size="10.6" text-anchor="middle" >1.4</text>
<text transform="translate(703.17,294.30) scale(1.1,1)" font-size="10.6" text-anchor="middle" >1.6</text>
<text transform="translate(740.55,294.30) scale(1.1,1)" font-size="10.6" text-anchor="middle" >1.8</text>
<text transform="translate(777.93,294.30) scale(1.1,1)" font-size="10.6" text-anchor="middle" >2</text>
<path d="M459.50 279.40 H463.10 M459.50 246.40 H463.10 M459.50 213.40 H463.10 M459.50 180.40 H463.10 M459.50 147.40 H463.10 M459.50 114.40 H463.10 M459.50 81.40 H463.10 M459.50 48.40 H463.10 M459.50 15.40 H463.10 M478.89 279.60 V276.20 M516.27 279.60 V276.20 M553.65 279.60 V276.20 M591.03 279.60 V276.20 M628.41 279.60 V276.20 M665.79 279.60 V276.20 M703.17 279.60 V276.20 M740.55 279.60 V276.20 M777.93 279.60 V276.20" stroke="#666666" stroke-width="1"/>
<line x1="77.9" y1="22.2" x2="302.8" y2="142.5" stroke="#000" stroke-width="2.7"/>
<line x1="496.9" y1="71.67" x2="721.56" y2="79.89" stroke="#000" stroke-width="2.6"/>
<line x1="496.9" y1="141.79" x2="721.56" y2="141.79" stroke="#d01818" stroke-width="2.2"/>
<text transform="translate(263.60,95.80) scale(1.1,1)" font-size="10.1" text-anchor="start" >y = -7.57x + 9.31</text>
<path d="M302.90 97.50 L299.69 132.62" stroke="#000" stroke-width="0.9" fill="none"/><path d="M299.30 136.90 L296.38 129.30 L299.69 132.62 L303.55 129.96 Z" fill="#000" stroke="#000" stroke-width="0.5" stroke-linejoin="miter"/>
<text transform="translate(684.80,41.80) scale(1.1,1)" font-size="10.3" text-anchor="start" >y = -0.4x + 0.79</text>
<path d="M722.10 43.60 L717.04 72.76" stroke="#000" stroke-width="0.9" fill="none"/><path d="M716.30 77.00 L714.00 69.19 L717.04 72.76 L721.10 70.42 Z" fill="#000" stroke="#000" stroke-width="0.5" stroke-linejoin="miter"/>
<text transform="translate(47.40,17.20) scale(1.1,1)" font-size="13.2" text-anchor="start" >(a)</text>
<text transform="translate(465.90,16.30) scale(1.1,1)" font-size="13.2" text-anchor="start" >(b)</text>
<text transform="translate(199.70,309.00) scale(1.1,1)" font-size="11.5" text-anchor="middle" >Two-Way Travel Time (ns)</text>
<text transform="translate(618.80,309.00) scale(1.1,1)" font-size="11.5" text-anchor="middle" >Two-Way Travel Time (ns)</text>
<text transform="translate(14.8,148.0) rotate(-90) scale(1,1.06)" font-size="11.4" text-anchor="middle">Normalized amplitude (dB)</text>
<text transform="translate(433.1,147.8) rotate(-90) scale(1,1.06)" font-size="11.4" text-anchor="middle">Normalized amplitude (dB)</text>
<rect x="45.5" y="243.5" width="228" height="31" fill="#fff" stroke="#555" stroke-width="1"/>
<circle cx="60" cy="252" r="2.5" fill="#0000ff"/>
<line x1="48" y1="266.7" x2="72.5" y2="266.7" stroke="#000" stroke-width="2.2"/>
<text transform="translate(74.60,256.60) scale(1.1,1)" font-size="10.5" text-anchor="start" >GPR data before the depth correction</text>
<text transform="translate(74.60,270.60) scale(1.1,1)" font-size="10.5" text-anchor="start" >90th percentile linear regression</text>
<rect x="468" y="227.5" width="266.5" height="45" fill="#fff" stroke="#555" stroke-width="1"/>
<circle cx="482.3" cy="235.8" r="2.5" fill="#0000ff"/>
<line x1="470.8" y1="250.3" x2="494.9" y2="250.3" stroke="#000" stroke-width="2.2"/>
<line x1="470.8" y1="264.4" x2="494.9" y2="264.4" stroke="#d01818" stroke-width="2.2"/>
<text transform="translate(496.30,239.90) scale(1.1,1)" font-size="10.6" text-anchor="start" >GPR data after the depth correction</text>
<text transform="translate(496.30,254.30) scale(1.1,1)" font-size="10.6" text-anchor="start" >90th percentile linear regression</text>
<text transform="translate(496.30,268.60) scale(1.1,1)" font-size="10.6" text-anchor="start" >Median - 3*MAD threshold line (y = -3.66 dB)</text>
</svg></body></html>
